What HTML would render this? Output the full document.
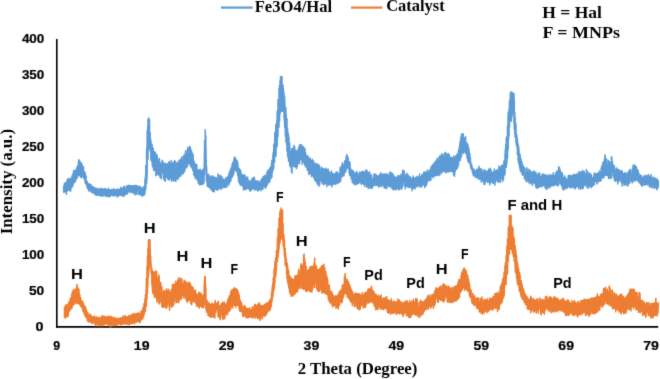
<!DOCTYPE html>
<html><head><meta charset="utf-8">
<style>
html,body{margin:0;padding:0;background:#fff;}
body{width:660px;height:379px;overflow:hidden;position:relative;}
svg{position:absolute;left:0;top:0;}
#wrap{position:absolute;left:0;top:0;width:660px;height:379px;}
.ser{font-family:"Liberation Serif",serif;font-weight:bold;}
.san{font-family:"Liberation Sans",sans-serif;font-weight:bold;}
</style></head><body>
<div id="wrap"><svg width="660" height="379" viewBox="0 0 660 379">
<defs><filter id="bl" x="0" y="0" width="660" height="379" filterUnits="userSpaceOnUse"><feConvolveMatrix order="3" kernelMatrix="0.0114 0.084 0.0114 0.084 0.618 0.084 0.0114 0.084 0.0114" divisor="1" edgeMode="none"/></filter></defs>
<g filter="url(#bl)">
<line x1="56.8" y1="39" x2="56.8" y2="327.7" stroke="#000" stroke-width="1.6"/>
<line x1="56" y1="326.9" x2="658.2" y2="326.9" stroke="#000" stroke-width="1.6"/>
<path d="M63.70 185.95 L63.70 192.35 L63.70 192.37 L63.82 189.22 L63.94 191.75 L64.06 192.12 L64.18 184.42 L64.30 186.38 L64.42 183.33 L64.54 187.59 L64.66 184.08 L64.78 188.50 L64.90 185.67 L65.02 183.57 L65.14 189.71 L65.26 191.87 L65.38 190.39 L65.50 187.18 L65.62 185.82 L65.74 191.54 L65.86 182.67 L65.98 186.70 L66.10 189.80 L66.22 186.78 L66.34 187.61 L66.46 194.22 L66.58 188.27 L66.70 187.13 L66.82 187.48 L66.90 181.95 L66.90 191.55 L66.94 187.08 L67.06 186.34 L67.18 179.39 L67.30 191.25 L67.42 186.78 L67.54 181.19 L67.66 182.81 L67.78 184.59 L67.90 187.67 L68.02 180.49 L68.14 187.03 L68.26 189.47 L68.38 189.91 L68.50 178.45 L68.62 181.01 L68.74 180.45 L68.86 181.53 L68.98 184.85 L69.10 179.63 L69.22 181.50 L69.34 185.24 L69.46 179.05 L69.58 187.54 L69.70 186.97 L69.82 190.42 L69.94 181.38 L70.06 185.48 L70.10 179.55 L70.10 189.15 L70.18 179.14 L70.30 188.70 L70.42 181.69 L70.54 182.75 L70.66 191.13 L70.78 184.20 L70.90 188.96 L71.02 181.41 L71.14 184.87 L71.26 177.55 L71.38 182.28 L71.50 187.11 L71.62 179.67 L71.74 179.59 L71.86 185.75 L71.98 186.14 L72.10 187.28 L72.22 175.39 L72.34 176.83 L72.46 184.84 L72.58 177.40 L72.70 185.95 L72.82 180.40 L72.94 173.81 L73.06 183.71 L73.18 182.89 L73.20 173.25 L73.20 184.45 L73.30 175.18 L73.42 183.95 L73.54 177.98 L73.66 170.52 L73.78 173.10 L73.90 174.58 L74.02 172.79 L74.14 180.82 L74.26 175.88 L74.38 174.62 L74.50 171.96 L74.62 170.66 L74.74 177.97 L74.86 171.02 L74.98 182.30 L75.10 177.68 L75.22 178.37 L75.34 176.36 L75.46 170.48 L75.58 174.84 L75.70 180.70 L75.82 173.01 L75.94 179.71 L76.06 175.29 L76.18 171.52 L76.30 169.29 L76.40 169.25 L76.40 178.85 L76.42 169.12 L76.54 177.45 L76.66 169.20 L76.78 167.79 L76.90 176.51 L77.02 170.14 L77.14 177.98 L77.26 166.88 L77.38 168.94 L77.50 177.19 L77.62 173.75 L77.74 165.39 L77.86 166.43 L77.98 174.80 L78.10 175.26 L78.22 166.64 L78.34 171.40 L78.46 161.20 L78.58 161.83 L78.70 166.18 L78.80 159.75 L78.80 175.25 L78.82 162.98 L78.94 167.87 L79.06 171.29 L79.18 168.04 L79.30 166.73 L79.42 175.70 L79.54 160.67 L79.66 175.22 L79.78 175.43 L79.90 174.96 L80.02 173.14 L80.14 176.00 L80.26 163.83 L80.38 170.67 L80.50 172.69 L80.62 170.01 L80.74 162.18 L80.86 172.18 L80.98 177.82 L81.10 162.95 L81.10 177.25 L81.10 175.98 L81.22 169.54 L81.34 168.67 L81.46 165.34 L81.58 177.32 L81.70 172.56 L81.82 167.97 L81.94 163.71 L82.06 164.20 L82.18 176.52 L82.30 172.30 L82.42 168.21 L82.54 176.35 L82.66 171.96 L82.78 173.20 L82.90 167.00 L83.02 175.83 L83.14 176.11 L83.26 172.78 L83.38 172.95 L83.50 167.65 L83.50 178.05 L83.50 166.71 L83.62 170.91 L83.74 176.02 L83.86 172.51 L83.98 171.60 L84.10 178.78 L84.22 174.56 L84.34 178.36 L84.46 171.66 L84.58 174.31 L84.70 175.45 L84.82 177.70 L84.94 179.99 L85.06 179.01 L85.10 172.45 L85.10 182.05 L85.18 176.62 L85.30 183.14 L85.42 181.52 L85.54 177.24 L85.66 183.32 L85.78 183.20 L85.90 175.40 L86.02 179.70 L86.14 176.16 L86.26 183.09 L86.38 182.64 L86.50 185.57 L86.62 185.38 L86.74 182.95 L86.86 184.53 L86.98 181.76 L87.10 184.52 L87.22 187.24 L87.34 188.26 L87.46 181.85 L87.50 182.75 L87.50 187.55 L87.58 184.13 L87.70 187.58 L87.82 183.30 L87.94 188.72 L88.06 184.22 L88.18 183.46 L88.30 187.93 L88.42 187.82 L88.54 185.66 L88.66 190.70 L88.78 190.93 L88.90 190.05 L89.02 189.27 L89.14 184.12 L89.26 186.24 L89.38 189.50 L89.50 185.30 L89.62 188.13 L89.74 184.37 L89.86 186.43 L89.98 190.80 L90.10 189.79 L90.22 184.63 L90.34 185.05 L90.46 188.05 L90.58 185.13 L90.70 185.95 L90.70 190.75 L90.70 185.30 L90.82 184.39 L90.94 190.02 L91.06 187.98 L91.18 189.85 L91.30 192.01 L91.42 189.73 L91.54 185.93 L91.66 186.99 L91.78 190.36 L91.90 190.85 L92.02 192.74 L92.14 191.95 L92.26 186.57 L92.38 188.64 L92.50 189.86 L92.62 188.96 L92.74 186.38 L92.86 192.00 L92.98 189.10 L93.10 187.35 L93.22 192.62 L93.34 188.32 L93.46 189.06 L93.58 190.89 L93.70 189.99 L93.82 192.83 L93.94 193.35 L94.06 188.11 L94.18 187.75 L94.30 187.44 L94.42 189.45 L94.54 189.61 L94.60 188.25 L94.60 193.15 L94.66 191.10 L94.78 189.68 L94.90 194.45 L95.02 194.11 L95.14 194.14 L95.26 188.39 L95.38 194.71 L95.50 192.94 L95.62 192.21 L95.74 194.73 L95.86 188.61 L95.98 194.27 L96.10 195.11 L96.22 189.55 L96.34 192.32 L96.46 188.16 L96.58 188.94 L96.70 190.43 L96.82 189.82 L96.94 194.26 L97.06 192.85 L97.18 193.82 L97.30 195.39 L97.42 193.50 L97.54 191.54 L97.66 193.95 L97.78 194.41 L97.90 190.17 L98.02 188.80 L98.14 193.71 L98.26 192.38 L98.38 192.17 L98.50 191.16 L98.62 190.35 L98.74 192.33 L98.86 193.05 L98.98 192.52 L99.10 195.50 L99.22 195.23 L99.34 191.15 L99.40 189.05 L99.40 194.75 L99.46 191.09 L99.58 190.81 L99.70 190.96 L99.82 189.52 L99.94 192.84 L100.06 190.23 L100.18 193.66 L100.30 192.05 L100.42 195.88 L100.54 189.26 L100.66 188.46 L100.78 195.73 L100.90 194.81 L101.02 196.07 L101.14 191.02 L101.26 189.14 L101.38 193.56 L101.50 190.52 L101.62 195.00 L101.74 189.07 L101.86 190.67 L101.98 189.32 L102.10 191.40 L102.22 192.44 L102.34 196.04 L102.46 195.30 L102.58 194.27 L102.70 188.58 L102.82 195.54 L102.94 192.63 L103.06 194.91 L103.18 193.89 L103.30 190.06 L103.42 195.80 L103.54 189.74 L103.66 193.83 L103.78 191.39 L103.90 193.17 L104.02 193.83 L104.14 191.11 L104.26 194.71 L104.38 192.37 L104.50 189.78 L104.62 192.72 L104.74 193.79 L104.86 192.94 L104.98 188.47 L105.10 189.44 L105.22 195.99 L105.34 188.50 L105.46 190.68 L105.58 189.18 L105.70 189.85 L105.70 194.75 L105.70 189.64 L105.82 196.25 L105.94 195.62 L106.06 193.81 L106.18 191.26 L106.30 194.70 L106.42 193.30 L106.54 193.82 L106.66 193.02 L106.78 195.38 L106.90 189.43 L107.02 190.58 L107.14 190.84 L107.26 192.41 L107.38 191.72 L107.50 192.93 L107.62 196.42 L107.74 190.24 L107.86 195.26 L107.98 195.05 L108.10 190.31 L108.22 192.25 L108.34 191.09 L108.46 188.27 L108.58 193.66 L108.70 195.30 L108.82 193.37 L108.94 192.08 L109.06 196.82 L109.18 189.63 L109.30 192.78 L109.42 195.99 L109.54 194.77 L109.66 194.82 L109.78 191.81 L109.90 195.54 L110.02 191.75 L110.14 196.53 L110.26 191.43 L110.38 194.11 L110.50 189.88 L110.62 190.66 L110.74 191.78 L110.86 189.70 L110.98 195.02 L111.10 190.24 L111.22 193.87 L111.34 192.67 L111.46 194.31 L111.58 193.14 L111.70 195.07 L111.82 189.61 L111.94 194.60 L112.00 190.65 L112.00 194.75 L112.06 191.54 L112.18 194.98 L112.30 192.22 L112.42 195.54 L112.54 189.67 L112.66 195.50 L112.78 191.16 L112.90 195.84 L113.02 192.92 L113.14 195.68 L113.26 194.07 L113.38 191.16 L113.50 193.75 L113.62 193.73 L113.74 188.53 L113.86 191.31 L113.98 196.01 L114.10 193.00 L114.22 192.21 L114.34 192.01 L114.46 191.81 L114.58 195.06 L114.70 194.29 L114.82 191.07 L114.94 192.50 L115.06 191.03 L115.18 192.96 L115.30 195.23 L115.42 191.94 L115.54 189.79 L115.66 194.36 L115.78 193.29 L115.90 189.72 L116.02 191.17 L116.14 191.65 L116.26 194.08 L116.38 189.77 L116.50 192.36 L116.62 193.26 L116.74 196.97 L116.86 194.78 L116.98 189.80 L117.10 190.79 L117.22 189.90 L117.34 194.82 L117.46 189.97 L117.58 189.03 L117.70 194.42 L117.82 193.35 L117.94 193.75 L118.06 195.06 L118.18 191.95 L118.30 194.89 L118.40 189.85 L118.40 194.75 L118.42 196.33 L118.54 192.75 L118.66 189.51 L118.78 191.87 L118.90 193.10 L119.02 192.54 L119.14 195.11 L119.26 189.15 L119.38 194.76 L119.50 195.28 L119.62 192.28 L119.74 191.48 L119.86 194.75 L119.98 195.20 L120.10 192.56 L120.22 191.61 L120.34 189.52 L120.46 190.45 L120.58 194.15 L120.70 194.24 L120.82 187.27 L120.94 191.03 L121.06 192.62 L121.18 194.59 L121.30 187.98 L121.42 189.76 L121.54 188.92 L121.66 194.33 L121.78 195.74 L121.90 194.28 L122.02 192.20 L122.14 188.53 L122.26 189.98 L122.38 193.48 L122.50 190.00 L122.62 190.16 L122.74 194.17 L122.86 194.96 L122.98 191.18 L123.10 187.93 L123.22 196.18 L123.34 194.48 L123.46 189.16 L123.58 192.19 L123.70 196.56 L123.82 195.13 L123.94 186.33 L124.06 189.47 L124.18 193.50 L124.30 187.68 L124.42 189.67 L124.54 190.47 L124.66 188.76 L124.70 188.25 L124.70 193.95 L124.78 194.74 L124.90 187.11 L125.02 192.51 L125.14 192.82 L125.26 190.48 L125.38 194.69 L125.50 191.44 L125.62 192.44 L125.74 190.57 L125.86 192.33 L125.98 193.32 L126.10 189.34 L126.22 190.47 L126.34 190.33 L126.46 192.29 L126.58 190.19 L126.70 185.78 L126.82 186.23 L126.94 192.86 L127.06 187.21 L127.18 191.66 L127.30 194.11 L127.42 194.09 L127.54 192.50 L127.66 189.28 L127.78 190.51 L127.90 186.89 L128.02 191.08 L128.14 188.16 L128.26 187.39 L128.38 185.31 L128.50 190.06 L128.62 189.01 L128.74 190.10 L128.86 190.62 L128.98 185.59 L129.10 189.82 L129.22 191.80 L129.34 187.94 L129.46 186.62 L129.50 186.75 L129.50 192.35 L129.58 186.81 L129.70 185.69 L129.82 192.53 L129.94 190.02 L130.06 185.78 L130.18 188.05 L130.30 187.54 L130.42 187.57 L130.54 188.30 L130.66 187.10 L130.78 187.35 L130.90 186.36 L131.02 186.73 L131.14 185.87 L131.26 190.33 L131.38 190.94 L131.50 191.61 L131.62 192.14 L131.74 187.51 L131.86 185.67 L131.98 188.29 L132.10 190.86 L132.22 188.57 L132.34 192.28 L132.46 190.38 L132.58 191.99 L132.70 193.03 L132.82 188.37 L132.94 188.58 L133.06 186.28 L133.18 192.61 L133.30 189.06 L133.42 185.82 L133.54 190.65 L133.66 187.76 L133.78 192.72 L133.90 190.97 L134.02 189.67 L134.14 186.68 L134.20 185.95 L134.20 192.35 L134.26 189.43 L134.38 191.84 L134.50 188.06 L134.62 185.42 L134.74 193.49 L134.86 192.50 L134.98 195.04 L135.10 185.36 L135.22 188.49 L135.34 187.32 L135.46 193.07 L135.58 190.05 L135.70 190.41 L135.82 188.54 L135.94 187.31 L136.06 187.37 L136.18 186.07 L136.30 191.36 L136.42 191.10 L136.54 190.56 L136.66 185.43 L136.78 194.58 L136.90 187.02 L137.02 192.04 L137.14 190.95 L137.26 189.96 L137.38 186.57 L137.50 186.26 L137.62 188.69 L137.74 188.66 L137.86 188.60 L137.98 189.74 L138.10 189.17 L138.22 190.97 L138.34 188.96 L138.46 190.59 L138.58 189.61 L138.70 194.22 L138.82 188.50 L138.94 190.59 L139.00 187.55 L139.00 193.15 L139.06 193.87 L139.18 185.98 L139.30 192.59 L139.42 187.11 L139.54 190.24 L139.66 189.20 L139.78 189.67 L139.90 193.59 L140.02 194.76 L140.14 186.92 L140.26 187.37 L140.38 195.09 L140.50 189.11 L140.62 188.46 L140.74 189.57 L140.86 190.86 L140.98 192.24 L141.10 193.75 L141.22 187.14 L141.34 190.36 L141.46 192.45 L141.58 190.98 L141.70 193.44 L141.82 191.07 L141.94 196.22 L142.06 191.21 L142.18 194.12 L142.20 188.25 L142.20 194.75 L142.30 188.82 L142.42 194.25 L142.54 189.12 L142.66 194.99 L142.78 191.14 L142.90 191.43 L143.02 190.64 L143.14 191.05 L143.26 195.58 L143.38 194.05 L143.50 194.63 L143.62 186.78 L143.74 189.27 L143.86 190.79 L143.98 188.95 L144.10 193.25 L144.22 190.21 L144.30 186.75 L144.30 194.25 L144.34 190.81 L144.46 194.82 L144.58 191.72 L144.70 187.61 L144.82 187.90 L144.94 181.73 L145.00 178.75 L145.00 193.25 L145.06 190.47 L145.18 181.05 L145.30 180.22 L145.42 179.78 L145.54 175.63 L145.66 184.00 L145.78 175.07 L145.80 165.75 L145.80 189.25 L145.90 179.19 L146.02 166.78 L146.14 169.67 L146.26 169.46 L146.38 166.88 L146.50 176.54 L146.62 153.70 L146.70 147.75 L146.70 183.25 L146.74 169.96 L146.86 179.39 L146.98 178.29 L147.10 138.50 L147.20 130.75 L147.20 174.25 L147.22 135.64 L147.34 159.55 L147.46 142.18 L147.58 146.39 L147.70 126.81 L147.82 127.37 L147.94 157.25 L148.00 119.75 L148.00 159.25 L148.06 138.16 L148.18 146.80 L148.30 118.32 L148.42 147.73 L148.54 145.99 L148.66 130.68 L148.78 148.71 L148.80 117.95 L148.80 147.25 L148.90 137.97 L149.02 128.17 L149.14 128.83 L149.26 120.08 L149.38 137.54 L149.50 119.75 L149.50 145.25 L149.50 134.58 L149.62 142.81 L149.74 143.21 L149.86 142.31 L149.98 145.63 L150.10 139.85 L150.20 132.75 L150.20 151.25 L150.22 144.23 L150.34 138.77 L150.46 138.36 L150.58 142.86 L150.70 139.86 L150.80 140.75 L150.80 159.25 L150.82 148.83 L150.94 142.26 L151.06 160.37 L151.18 149.59 L151.30 151.41 L151.42 143.16 L151.54 149.92 L151.66 161.70 L151.78 144.72 L151.90 148.23 L152.02 155.86 L152.14 144.86 L152.26 157.68 L152.38 166.17 L152.50 155.42 L152.62 149.25 L152.74 158.55 L152.86 160.56 L152.98 155.63 L153.10 157.42 L153.20 148.25 L153.20 167.85 L153.22 148.72 L153.34 167.14 L153.46 166.20 L153.58 154.71 L153.70 170.19 L153.82 164.54 L153.94 151.55 L154.06 165.91 L154.18 159.41 L154.30 170.60 L154.42 152.24 L154.54 163.99 L154.66 160.07 L154.78 163.42 L154.90 151.98 L155.02 163.17 L155.14 154.80 L155.26 153.46 L155.38 164.07 L155.50 164.64 L155.62 158.03 L155.74 165.86 L155.80 153.55 L155.80 173.15 L155.86 162.24 L155.98 175.76 L156.10 162.43 L156.22 161.01 L156.34 170.39 L156.46 161.59 L156.58 158.68 L156.70 174.66 L156.82 168.68 L156.94 154.89 L157.06 169.28 L157.18 171.35 L157.30 156.26 L157.42 172.89 L157.54 168.68 L157.66 164.75 L157.78 161.18 L157.90 163.60 L158.02 173.93 L158.14 165.15 L158.26 175.08 L158.38 163.10 L158.50 161.63 L158.62 162.97 L158.74 172.50 L158.86 172.60 L158.98 159.31 L159.10 172.62 L159.22 164.29 L159.34 158.54 L159.46 172.89 L159.58 174.28 L159.70 173.74 L159.80 161.45 L159.80 175.75 L159.82 171.68 L159.94 170.73 L160.06 177.83 L160.18 169.68 L160.30 175.06 L160.42 175.48 L160.54 177.42 L160.66 166.24 L160.78 166.52 L160.90 169.23 L161.02 163.77 L161.14 165.71 L161.26 170.68 L161.38 171.89 L161.50 178.67 L161.62 173.38 L161.74 172.40 L161.86 169.30 L161.98 165.80 L162.10 160.32 L162.22 171.12 L162.34 165.76 L162.46 166.68 L162.58 160.95 L162.70 163.14 L162.82 167.59 L162.94 165.81 L163.06 173.07 L163.18 163.18 L163.30 166.63 L163.42 162.66 L163.54 165.28 L163.66 172.08 L163.70 164.05 L163.70 178.45 L163.78 167.77 L163.90 177.69 L164.02 167.76 L164.14 169.68 L164.26 180.37 L164.38 169.73 L164.50 173.01 L164.62 164.18 L164.74 169.96 L164.86 163.84 L164.98 179.09 L165.10 172.61 L165.22 172.01 L165.34 181.31 L165.46 163.35 L165.58 163.76 L165.70 166.03 L165.82 176.67 L165.94 174.17 L166.06 168.74 L166.18 169.24 L166.30 177.24 L166.42 169.04 L166.54 169.40 L166.66 174.57 L166.78 164.36 L166.90 164.12 L167.02 173.55 L167.14 170.69 L167.26 174.40 L167.38 175.92 L167.50 165.89 L167.62 175.28 L167.70 164.05 L167.70 178.45 L167.74 179.15 L167.86 163.46 L167.98 174.20 L168.10 165.86 L168.22 176.18 L168.34 170.97 L168.46 172.53 L168.58 162.75 L168.70 172.10 L168.82 163.03 L168.94 179.63 L169.06 161.74 L169.18 180.16 L169.30 161.61 L169.42 165.44 L169.54 179.28 L169.66 170.33 L169.78 175.33 L169.90 167.31 L170.02 163.77 L170.14 165.27 L170.26 171.61 L170.38 165.40 L170.50 167.48 L170.62 178.33 L170.74 168.81 L170.86 175.27 L170.98 174.41 L171.10 165.03 L171.22 160.48 L171.34 164.82 L171.46 163.69 L171.58 181.15 L171.70 162.75 L171.70 179.75 L171.70 176.11 L171.82 163.93 L171.94 179.80 L172.06 177.48 L172.18 169.98 L172.30 170.12 L172.42 162.81 L172.54 163.08 L172.66 172.73 L172.78 175.42 L172.90 165.66 L173.02 173.43 L173.14 176.35 L173.26 164.40 L173.38 180.68 L173.50 164.71 L173.62 172.80 L173.74 179.03 L173.86 173.15 L173.98 172.11 L174.10 161.30 L174.22 169.23 L174.34 179.73 L174.46 168.86 L174.58 166.23 L174.70 160.53 L174.82 167.10 L174.94 178.30 L175.06 172.43 L175.18 177.82 L175.30 181.36 L175.42 174.20 L175.54 175.06 L175.60 162.75 L175.60 178.45 L175.66 162.08 L175.78 172.40 L175.90 181.27 L176.02 170.82 L176.14 164.44 L176.26 171.85 L176.38 173.51 L176.50 178.12 L176.62 164.20 L176.74 177.50 L176.86 170.03 L176.98 178.06 L177.10 173.92 L177.22 163.61 L177.34 165.59 L177.46 162.74 L177.58 162.43 L177.70 178.53 L177.82 179.49 L177.94 167.72 L178.06 175.32 L178.18 171.14 L178.30 170.34 L178.42 163.04 L178.54 169.08 L178.66 165.65 L178.78 177.68 L178.90 161.44 L179.02 160.43 L179.14 176.20 L179.26 167.63 L179.38 163.34 L179.50 168.39 L179.60 160.15 L179.60 175.75 L179.62 165.73 L179.74 166.79 L179.86 165.65 L179.98 175.45 L180.10 169.80 L180.22 165.07 L180.34 166.21 L180.46 159.28 L180.58 161.83 L180.70 162.50 L180.82 176.25 L180.94 171.88 L181.06 162.79 L181.18 160.21 L181.30 169.79 L181.42 162.39 L181.54 171.10 L181.66 161.21 L181.78 156.93 L181.90 171.80 L182.02 173.77 L182.14 169.54 L182.26 160.05 L182.38 162.76 L182.50 162.72 L182.62 174.05 L182.74 162.70 L182.86 171.96 L182.98 162.35 L183.10 167.00 L183.22 169.97 L183.34 171.68 L183.46 156.55 L183.50 156.15 L183.50 173.15 L183.58 171.32 L183.70 164.40 L183.82 172.44 L183.94 158.62 L184.06 154.97 L184.18 158.92 L184.30 156.45 L184.42 159.05 L184.54 164.58 L184.66 158.88 L184.78 155.96 L184.90 171.05 L185.02 155.94 L185.14 163.74 L185.26 162.39 L185.38 154.20 L185.50 151.47 L185.62 160.09 L185.74 150.71 L185.86 166.90 L185.98 163.01 L186.10 156.49 L186.22 158.25 L186.34 163.25 L186.46 167.87 L186.58 161.46 L186.70 159.79 L186.82 157.53 L186.94 154.07 L187.06 158.69 L187.18 162.22 L187.30 154.37 L187.42 160.68 L187.50 149.55 L187.50 166.55 L187.54 154.46 L187.66 151.84 L187.78 149.14 L187.90 147.51 L188.02 151.25 L188.14 163.27 L188.26 158.29 L188.38 147.71 L188.50 159.81 L188.62 148.54 L188.74 155.61 L188.86 156.27 L188.98 160.44 L189.10 163.50 L189.22 152.08 L189.34 159.55 L189.46 156.79 L189.58 146.13 L189.70 152.97 L189.82 158.73 L189.94 159.19 L190.06 163.82 L190.10 146.95 L190.10 165.25 L190.18 152.39 L190.30 164.07 L190.42 152.51 L190.54 150.19 L190.66 148.61 L190.78 151.88 L190.90 154.76 L191.02 160.63 L191.14 166.75 L191.26 161.01 L191.38 157.75 L191.50 151.03 L191.62 167.82 L191.74 152.44 L191.86 162.27 L191.98 164.09 L192.10 155.19 L192.22 161.04 L192.34 158.83 L192.46 155.34 L192.58 166.80 L192.70 163.08 L192.80 153.55 L192.80 170.45 L192.82 168.64 L192.94 166.10 L193.06 164.82 L193.18 155.51 L193.30 165.89 L193.42 170.89 L193.54 164.81 L193.66 160.57 L193.78 174.08 L193.90 175.03 L194.02 164.24 L194.14 161.22 L194.26 168.41 L194.38 175.38 L194.50 175.00 L194.62 167.69 L194.74 172.04 L194.86 176.72 L194.98 169.33 L195.10 168.23 L195.22 170.43 L195.34 173.06 L195.40 164.05 L195.40 178.45 L195.46 164.69 L195.58 167.01 L195.70 164.71 L195.82 169.00 L195.94 164.37 L196.06 168.37 L196.18 176.59 L196.30 165.16 L196.42 173.91 L196.54 174.81 L196.66 164.46 L196.78 176.12 L196.90 166.62 L197.02 179.43 L197.14 170.44 L197.26 174.69 L197.38 179.89 L197.50 173.50 L197.62 170.05 L197.74 172.84 L197.86 180.38 L197.98 180.28 L198.10 171.60 L198.22 183.34 L198.34 170.22 L198.46 177.06 L198.58 177.30 L198.70 171.65 L198.82 175.02 L198.94 175.82 L199.06 169.95 L199.18 182.37 L199.30 182.01 L199.40 171.95 L199.40 183.65 L199.42 173.43 L199.54 174.07 L199.66 185.03 L199.78 177.47 L199.90 182.17 L200.02 184.49 L200.14 169.22 L200.26 174.78 L200.38 176.40 L200.50 174.47 L200.62 170.73 L200.74 180.92 L200.86 183.97 L200.98 184.36 L201.10 178.80 L201.22 172.86 L201.34 184.44 L201.46 183.40 L201.58 171.47 L201.70 171.10 L201.82 171.89 L201.94 181.00 L202.06 176.97 L202.18 175.09 L202.30 171.11 L202.42 177.99 L202.54 169.58 L202.66 180.96 L202.78 184.37 L202.90 179.65 L203.02 172.27 L203.14 175.86 L203.26 178.79 L203.30 171.95 L203.30 183.65 L203.38 178.19 L203.50 176.22 L203.62 172.14 L203.74 178.96 L203.86 183.07 L203.98 177.73 L204.00 168.75 L204.00 181.25 L204.10 169.87 L204.22 171.00 L204.34 161.22 L204.46 150.02 L204.58 151.41 L204.60 140.75 L204.60 174.25 L204.70 144.38 L204.82 140.74 L204.94 151.98 L205.06 154.87 L205.18 141.86 L205.20 129.75 L205.20 149.25 L205.30 131.12 L205.42 144.55 L205.54 149.03 L205.66 149.96 L205.78 160.15 L205.80 135.75 L205.80 169.25 L205.90 145.24 L206.02 154.69 L206.14 166.95 L206.26 160.14 L206.38 179.78 L206.50 165.75 L206.50 181.25 L206.50 166.41 L206.62 170.09 L206.74 169.03 L206.86 178.33 L206.98 180.55 L207.10 176.11 L207.22 185.14 L207.30 174.65 L207.30 186.25 L207.34 177.81 L207.46 182.80 L207.58 176.69 L207.70 186.54 L207.82 176.86 L207.94 180.39 L208.06 176.88 L208.18 174.42 L208.30 182.69 L208.42 186.88 L208.54 186.98 L208.66 184.30 L208.78 174.39 L208.90 187.31 L209.02 184.35 L209.14 183.92 L209.26 187.48 L209.38 184.19 L209.50 176.41 L209.62 176.70 L209.74 181.53 L209.86 187.47 L209.98 184.47 L210.10 182.72 L210.22 177.72 L210.34 181.16 L210.46 188.49 L210.58 186.93 L210.70 181.10 L210.82 182.13 L210.94 182.04 L211.06 177.15 L211.18 189.77 L211.20 175.95 L211.20 187.65 L211.30 176.04 L211.42 180.39 L211.54 183.59 L211.66 177.26 L211.78 184.62 L211.90 184.55 L212.02 186.15 L212.14 190.56 L212.26 189.23 L212.38 180.25 L212.50 188.99 L212.62 189.38 L212.74 191.40 L212.86 180.36 L212.98 176.00 L213.10 184.68 L213.22 187.39 L213.34 184.49 L213.46 177.54 L213.58 181.26 L213.70 184.17 L213.82 183.60 L213.94 182.65 L214.06 177.41 L214.18 191.86 L214.30 189.14 L214.42 189.29 L214.54 184.59 L214.66 188.61 L214.78 188.67 L214.90 186.94 L215.00 177.25 L215.00 189.25 L215.02 177.23 L215.14 182.61 L215.26 183.73 L215.38 185.90 L215.50 180.54 L215.62 188.41 L215.74 182.61 L215.86 183.27 L215.98 186.71 L216.10 185.73 L216.22 177.65 L216.34 189.59 L216.46 182.13 L216.58 184.81 L216.70 178.94 L216.82 185.49 L216.94 180.38 L217.06 186.08 L217.18 181.22 L217.30 190.16 L217.42 187.97 L217.54 189.95 L217.66 184.99 L217.78 189.42 L217.90 181.41 L218.02 173.98 L218.14 186.39 L218.26 176.08 L218.38 189.47 L218.50 186.84 L218.62 186.58 L218.74 177.25 L218.86 175.20 L218.98 178.60 L219.00 175.75 L219.00 188.25 L219.10 183.24 L219.22 176.79 L219.34 178.33 L219.46 183.43 L219.58 188.29 L219.70 183.99 L219.82 179.27 L219.94 182.65 L220.06 186.46 L220.18 179.27 L220.30 181.16 L220.42 188.08 L220.54 175.47 L220.66 180.20 L220.78 182.49 L220.90 185.49 L221.02 184.32 L221.14 189.52 L221.26 188.72 L221.38 181.15 L221.50 182.89 L221.62 180.18 L221.74 178.86 L221.86 184.47 L221.98 185.55 L222.00 176.85 L222.00 186.05 L222.10 185.96 L222.22 187.34 L222.34 179.79 L222.46 180.72 L222.58 184.18 L222.70 180.24 L222.82 186.54 L222.94 184.65 L223.06 182.24 L223.18 187.69 L223.30 180.31 L223.42 181.85 L223.54 179.03 L223.66 186.27 L223.78 185.40 L223.90 187.63 L224.02 187.03 L224.14 179.66 L224.26 181.84 L224.38 183.38 L224.40 180.45 L224.40 187.25 L224.50 187.09 L224.62 182.97 L224.74 180.18 L224.86 181.38 L224.98 181.15 L225.10 180.51 L225.22 181.55 L225.34 183.00 L225.46 187.07 L225.58 179.30 L225.70 182.67 L225.82 177.63 L225.94 180.46 L226.06 183.19 L226.18 179.29 L226.30 187.23 L226.42 186.64 L226.54 186.70 L226.66 181.32 L226.70 178.05 L226.70 186.05 L226.78 187.05 L226.90 183.34 L227.02 182.93 L227.14 181.76 L227.26 183.61 L227.38 179.65 L227.50 183.10 L227.62 178.74 L227.74 178.72 L227.86 176.52 L227.98 181.92 L228.10 181.06 L228.22 183.58 L228.34 175.55 L228.46 183.77 L228.58 182.84 L228.70 185.35 L228.82 177.95 L228.94 183.35 L229.06 175.71 L229.10 173.25 L229.10 183.65 L229.18 172.67 L229.30 175.91 L229.42 172.89 L229.54 177.23 L229.66 182.86 L229.78 172.57 L229.90 174.62 L230.02 170.39 L230.14 177.26 L230.26 173.30 L230.38 180.98 L230.50 170.28 L230.62 171.10 L230.74 179.18 L230.86 180.99 L230.90 168.55 L230.90 180.05 L230.98 171.44 L231.10 167.76 L231.22 171.00 L231.34 178.28 L231.46 167.95 L231.58 169.51 L231.70 174.91 L231.82 173.66 L231.94 171.23 L232.06 164.85 L232.18 164.27 L232.30 174.21 L232.42 176.96 L232.54 176.35 L232.66 163.12 L232.70 162.65 L232.70 176.55 L232.78 175.04 L232.90 174.32 L233.02 163.08 L233.14 167.24 L233.26 162.40 L233.38 174.81 L233.50 161.31 L233.62 165.69 L233.74 171.91 L233.86 170.27 L233.90 159.05 L233.90 172.95 L233.98 168.07 L234.10 165.61 L234.22 167.80 L234.34 158.62 L234.46 157.31 L234.58 164.20 L234.70 165.97 L234.82 157.34 L234.94 164.75 L235.06 161.79 L235.18 159.61 L235.30 160.88 L235.42 157.98 L235.54 170.52 L235.60 158.45 L235.60 169.45 L235.66 163.30 L235.78 160.98 L235.90 166.28 L236.02 169.65 L236.14 169.46 L236.26 164.38 L236.38 166.47 L236.50 171.16 L236.62 169.31 L236.74 164.16 L236.86 168.83 L236.98 160.19 L237.10 164.43 L237.22 161.26 L237.34 163.59 L237.40 161.45 L237.40 172.95 L237.46 161.90 L237.58 174.21 L237.70 162.89 L237.82 175.86 L237.94 163.85 L238.06 167.03 L238.18 170.82 L238.30 177.70 L238.42 173.27 L238.54 180.66 L238.60 168.55 L238.60 181.25 L238.66 173.05 L238.78 177.18 L238.90 182.33 L239.02 173.31 L239.14 170.52 L239.26 168.58 L239.38 181.95 L239.50 183.06 L239.62 171.31 L239.74 169.61 L239.86 174.36 L239.98 180.70 L240.10 184.72 L240.22 173.67 L240.34 178.23 L240.40 170.95 L240.40 184.85 L240.46 185.21 L240.58 170.34 L240.70 173.49 L240.82 171.28 L240.94 178.53 L241.06 178.95 L241.18 176.86 L241.30 173.92 L241.42 178.66 L241.54 175.85 L241.66 177.01 L241.78 184.69 L241.90 176.97 L242.02 184.59 L242.14 179.07 L242.20 174.45 L242.20 186.05 L242.26 176.26 L242.38 175.69 L242.50 182.06 L242.62 180.39 L242.74 183.05 L242.86 179.30 L242.98 175.79 L243.10 176.49 L243.22 179.58 L243.34 175.62 L243.46 189.94 L243.58 181.21 L243.70 186.75 L243.82 175.53 L243.94 176.75 L244.06 180.27 L244.18 175.15 L244.30 179.97 L244.42 183.32 L244.50 174.75 L244.50 188.35 L244.54 189.13 L244.66 177.13 L244.78 179.07 L244.90 182.36 L245.02 188.29 L245.14 185.59 L245.26 178.61 L245.38 189.44 L245.50 176.29 L245.62 183.80 L245.74 186.90 L245.86 188.04 L245.98 185.76 L246.10 189.30 L246.22 180.49 L246.34 185.99 L246.46 180.59 L246.58 180.88 L246.70 180.98 L246.82 187.56 L246.90 178.05 L246.90 187.25 L246.94 188.15 L247.06 188.18 L247.18 182.68 L247.30 188.21 L247.42 183.72 L247.54 181.93 L247.66 177.01 L247.78 186.85 L247.90 181.04 L248.02 182.59 L248.14 185.95 L248.26 185.97 L248.38 183.55 L248.50 180.17 L248.60 180.75 L248.60 188.25 L248.62 188.82 L248.74 187.66 L248.86 184.08 L248.98 182.98 L249.10 189.28 L249.22 186.97 L249.34 183.89 L249.46 190.27 L249.58 181.65 L249.70 181.72 L249.82 181.53 L249.94 185.02 L250.06 186.04 L250.18 188.77 L250.30 191.24 L250.42 180.77 L250.50 182.75 L250.50 188.75 L250.54 182.84 L250.66 188.58 L250.78 184.20 L250.90 181.73 L251.02 183.24 L251.14 186.55 L251.26 188.23 L251.38 189.66 L251.50 188.37 L251.62 185.21 L251.74 187.52 L251.86 183.38 L251.98 178.46 L252.10 180.76 L252.22 187.99 L252.34 187.39 L252.46 189.12 L252.58 179.41 L252.70 185.22 L252.82 186.93 L252.94 180.63 L253.00 178.75 L253.00 188.25 L253.06 188.77 L253.18 183.79 L253.30 184.70 L253.42 188.38 L253.54 177.46 L253.66 177.33 L253.78 187.64 L253.90 187.37 L254.02 184.64 L254.14 179.25 L254.26 179.67 L254.38 182.06 L254.50 177.75 L254.50 188.75 L254.50 186.96 L254.62 189.63 L254.74 185.60 L254.86 190.19 L254.98 180.79 L255.10 180.81 L255.22 188.00 L255.34 186.85 L255.46 187.34 L255.58 183.10 L255.70 183.84 L255.82 185.32 L255.94 185.56 L256.00 180.75 L256.00 189.25 L256.06 188.01 L256.18 186.25 L256.30 183.98 L256.42 185.40 L256.54 188.85 L256.66 186.57 L256.78 186.94 L256.90 183.65 L257.02 184.20 L257.14 181.78 L257.26 186.87 L257.38 190.73 L257.50 184.57 L257.62 182.18 L257.74 188.71 L257.86 186.67 L257.98 184.36 L258.00 180.75 L258.00 188.55 L258.10 182.99 L258.22 191.09 L258.34 186.75 L258.46 183.49 L258.58 184.47 L258.70 184.20 L258.82 182.17 L258.94 185.19 L259.06 189.67 L259.18 183.98 L259.30 189.70 L259.42 188.52 L259.54 185.07 L259.66 189.14 L259.78 184.91 L259.90 188.63 L260.02 182.50 L260.14 185.36 L260.26 189.29 L260.38 183.65 L260.40 181.75 L260.40 188.75 L260.50 180.84 L260.62 183.12 L260.74 185.11 L260.86 188.49 L260.98 190.65 L261.10 183.11 L261.22 183.34 L261.34 188.42 L261.46 183.71 L261.58 184.14 L261.70 184.30 L261.82 178.84 L261.94 183.92 L262.00 178.75 L262.00 187.75 L262.06 188.80 L262.18 183.13 L262.30 179.54 L262.42 187.37 L262.54 185.22 L262.66 180.91 L262.78 186.94 L262.90 189.38 L263.02 183.75 L263.14 176.66 L263.26 181.68 L263.38 180.91 L263.50 178.60 L263.62 183.88 L263.74 185.44 L263.86 177.01 L263.90 176.15 L263.90 186.55 L263.98 182.58 L264.10 177.46 L264.22 185.63 L264.34 186.76 L264.46 177.77 L264.58 180.94 L264.70 186.13 L264.82 185.17 L264.94 180.26 L265.06 175.16 L265.18 181.82 L265.30 181.39 L265.42 188.15 L265.54 181.31 L265.66 180.34 L265.78 186.22 L265.90 176.19 L266.02 187.26 L266.14 186.03 L266.26 185.80 L266.38 175.68 L266.50 176.03 L266.62 184.16 L266.74 179.20 L266.86 179.68 L266.90 172.25 L266.90 184.55 L266.98 179.30 L267.10 173.16 L267.22 184.91 L267.34 179.57 L267.46 184.66 L267.58 171.13 L267.70 183.40 L267.82 170.15 L267.94 183.16 L268.06 182.10 L268.18 177.26 L268.30 178.69 L268.42 177.50 L268.54 174.62 L268.66 174.79 L268.78 181.14 L268.90 182.16 L269.02 170.54 L269.14 179.64 L269.26 173.48 L269.38 169.93 L269.50 169.91 L269.62 168.27 L269.74 181.97 L269.86 170.28 L269.90 168.25 L269.90 180.65 L269.98 175.80 L270.10 177.58 L270.22 168.19 L270.34 168.87 L270.46 173.37 L270.58 175.99 L270.70 173.23 L270.82 178.59 L270.94 168.21 L271.06 166.21 L271.18 175.20 L271.30 176.18 L271.42 169.91 L271.54 163.57 L271.66 162.46 L271.78 177.45 L271.90 160.35 L271.90 176.65 L271.90 173.74 L272.02 161.92 L272.14 173.95 L272.26 170.24 L272.38 169.10 L272.50 161.73 L272.62 168.17 L272.74 165.90 L272.86 163.78 L272.90 154.45 L272.90 170.75 L272.98 169.32 L273.10 161.23 L273.22 152.35 L273.34 152.69 L273.46 162.01 L273.58 168.64 L273.70 150.75 L273.70 167.95 L273.70 166.53 L273.80 144.55 L273.80 158.85 L273.82 145.29 L273.94 146.47 L274.06 148.64 L274.18 153.76 L274.30 154.16 L274.42 151.53 L274.54 154.78 L274.60 143.35 L274.60 162.25 L274.66 156.30 L274.78 133.41 L274.80 132.65 L274.80 148.95 L274.90 139.92 L275.02 143.22 L275.14 146.13 L275.26 132.38 L275.38 138.88 L275.50 139.38 L275.62 131.69 L275.74 129.69 L275.80 124.75 L275.80 139.05 L275.86 136.97 L275.98 138.62 L276.00 128.75 L276.00 156.25 L276.10 144.23 L276.22 148.37 L276.34 140.28 L276.46 130.17 L276.58 139.59 L276.70 135.21 L276.82 120.56 L276.94 129.96 L277.06 126.71 L277.18 112.12 L277.20 111.35 L277.20 129.25 L277.20 111.35 L277.20 146.25 L277.30 128.63 L277.42 122.91 L277.54 138.11 L277.66 115.95 L277.78 116.01 L277.90 129.86 L278.00 99.75 L278.00 126.25 L278.00 99.75 L278.00 136.25 L278.02 110.33 L278.14 123.89 L278.26 115.66 L278.38 104.77 L278.50 116.27 L278.62 107.37 L278.74 124.99 L278.86 105.23 L278.98 118.44 L279.00 88.75 L279.00 127.25 L279.10 103.23 L279.22 101.56 L279.34 106.44 L279.46 88.71 L279.50 85.25 L279.50 121.25 L279.58 119.79 L279.70 97.65 L279.82 109.91 L279.94 108.39 L280.00 80.75 L280.00 114.25 L280.06 92.84 L280.18 112.83 L280.30 82.72 L280.42 100.26 L280.50 76.75 L280.50 111.25 L280.54 95.04 L280.66 110.14 L280.78 103.26 L280.90 93.71 L281.02 90.98 L281.14 88.26 L281.26 109.80 L281.38 81.20 L281.50 76.55 L281.50 110.25 L281.50 111.59 L281.62 95.21 L281.74 95.45 L281.86 89.58 L281.98 106.41 L282.00 76.75 L282.00 110.25 L282.10 87.74 L282.22 107.44 L282.34 93.22 L282.46 103.05 L282.58 95.59 L282.70 108.73 L282.82 89.88 L282.94 93.15 L283.00 85.25 L283.00 111.25 L283.06 90.94 L283.18 108.70 L283.30 110.67 L283.42 88.60 L283.54 108.87 L283.66 111.34 L283.78 109.77 L283.90 109.04 L284.00 92.75 L284.00 117.25 L284.02 114.06 L284.14 99.38 L284.26 120.48 L284.38 104.99 L284.50 116.00 L284.62 124.95 L284.70 96.75 L284.70 127.25 L284.74 99.36 L284.86 103.33 L284.98 115.71 L285.10 120.23 L285.22 117.26 L285.34 136.13 L285.46 135.67 L285.58 114.57 L285.70 107.52 L285.82 131.50 L285.90 108.75 L285.90 141.85 L285.94 123.81 L286.06 114.53 L286.18 114.16 L286.30 123.37 L286.42 118.34 L286.54 144.51 L286.66 135.72 L286.78 124.16 L286.90 135.09 L287.00 118.75 L287.00 151.25 L287.02 119.25 L287.14 149.07 L287.26 129.63 L287.38 149.21 L287.50 142.64 L287.60 128.75 L287.60 156.25 L287.62 154.67 L287.74 137.49 L287.86 139.27 L287.98 142.46 L288.10 157.48 L288.22 132.96 L288.34 135.78 L288.46 159.98 L288.58 155.70 L288.60 135.75 L288.60 161.25 L288.70 140.78 L288.82 153.53 L288.94 137.35 L289.06 148.14 L289.18 145.90 L289.30 153.90 L289.42 150.38 L289.54 150.04 L289.66 153.56 L289.70 143.35 L289.70 165.25 L289.78 148.03 L289.90 151.90 L290.02 152.22 L290.14 165.82 L290.20 150.75 L290.20 166.75 L290.26 165.96 L290.38 162.84 L290.50 165.60 L290.62 161.51 L290.74 151.61 L290.86 165.30 L290.98 161.72 L291.10 162.42 L291.22 162.53 L291.34 163.31 L291.46 171.72 L291.58 157.33 L291.70 156.10 L291.82 148.38 L291.94 163.64 L292.00 149.75 L292.00 173.25 L292.06 151.82 L292.18 164.36 L292.30 163.48 L292.42 152.62 L292.54 150.29 L292.66 153.98 L292.78 164.83 L292.90 160.05 L293.02 149.67 L293.14 149.98 L293.26 148.04 L293.38 150.03 L293.50 164.92 L293.62 153.51 L293.74 164.85 L293.86 159.70 L293.90 145.15 L293.90 166.75 L293.98 150.60 L294.10 159.40 L294.22 163.41 L294.34 146.44 L294.46 164.80 L294.58 160.47 L294.70 146.92 L294.82 150.03 L294.94 163.80 L295.06 159.68 L295.18 165.14 L295.30 160.16 L295.42 167.04 L295.54 154.46 L295.66 158.27 L295.78 165.90 L295.90 157.74 L296.02 150.41 L296.14 167.63 L296.26 164.30 L296.38 168.38 L296.50 158.06 L296.60 151.65 L296.60 165.85 L296.62 168.30 L296.74 162.17 L296.86 163.51 L296.98 155.63 L297.10 155.03 L297.22 166.38 L297.34 160.42 L297.46 153.96 L297.58 151.48 L297.70 160.19 L297.82 155.93 L297.94 149.39 L298.06 157.07 L298.18 159.75 L298.30 150.46 L298.42 163.27 L298.54 148.53 L298.66 156.96 L298.78 147.76 L298.90 152.01 L299.02 154.46 L299.14 147.15 L299.26 146.22 L299.38 146.05 L299.40 145.15 L299.40 163.95 L299.50 147.77 L299.62 157.83 L299.74 160.19 L299.86 154.00 L299.98 148.34 L300.10 144.71 L300.22 158.01 L300.34 150.61 L300.46 155.20 L300.58 147.94 L300.70 149.64 L300.82 155.65 L300.94 159.66 L301.06 159.35 L301.18 145.87 L301.30 144.75 L301.42 156.37 L301.54 158.87 L301.66 151.82 L301.78 155.56 L301.90 155.44 L302.02 150.40 L302.14 164.21 L302.20 146.05 L302.20 162.15 L302.26 154.43 L302.38 146.30 L302.50 151.82 L302.62 154.54 L302.74 153.15 L302.86 153.36 L302.98 155.33 L303.10 152.99 L303.22 146.81 L303.34 152.73 L303.46 162.12 L303.58 162.19 L303.70 146.93 L303.82 151.60 L303.94 148.37 L304.06 154.79 L304.18 162.31 L304.30 158.58 L304.42 160.39 L304.54 165.08 L304.66 151.11 L304.78 155.30 L304.90 160.21 L305.00 148.85 L305.00 164.95 L305.02 158.94 L305.14 162.97 L305.26 152.17 L305.38 153.07 L305.50 152.64 L305.62 165.49 L305.74 166.91 L305.86 156.89 L305.98 166.62 L306.10 158.98 L306.22 161.10 L306.34 157.20 L306.46 155.31 L306.58 155.75 L306.70 160.47 L306.82 164.09 L306.94 164.60 L307.06 155.80 L307.18 169.85 L307.30 165.54 L307.42 161.67 L307.54 168.74 L307.66 168.88 L307.70 158.05 L307.70 170.45 L307.78 165.23 L307.90 158.99 L308.02 158.73 L308.14 156.36 L308.26 166.72 L308.38 168.40 L308.50 166.49 L308.62 167.99 L308.74 158.33 L308.86 174.51 L308.98 163.93 L309.10 158.74 L309.22 167.72 L309.34 167.27 L309.46 165.88 L309.58 172.18 L309.70 169.23 L309.82 163.99 L309.94 170.89 L310.06 173.49 L310.18 157.99 L310.30 173.36 L310.42 169.17 L310.54 173.77 L310.66 173.23 L310.78 167.52 L310.90 166.16 L311.02 173.02 L311.14 171.20 L311.26 160.77 L311.38 174.31 L311.40 160.85 L311.40 175.05 L311.50 176.62 L311.62 174.61 L311.74 164.79 L311.86 171.93 L311.98 166.18 L312.10 167.50 L312.22 159.17 L312.34 175.31 L312.46 162.08 L312.58 160.45 L312.70 161.93 L312.82 168.24 L312.94 168.88 L313.06 161.69 L313.18 168.90 L313.30 162.96 L313.42 177.61 L313.54 161.02 L313.66 162.10 L313.78 168.24 L313.90 170.02 L314.02 163.85 L314.14 177.69 L314.26 169.81 L314.38 163.20 L314.50 179.41 L314.62 163.85 L314.74 165.41 L314.86 166.15 L314.98 173.56 L315.10 163.65 L315.10 179.75 L315.10 181.02 L315.22 173.28 L315.34 169.42 L315.46 172.88 L315.58 164.70 L315.70 170.41 L315.82 164.64 L315.94 164.24 L316.06 181.34 L316.18 170.69 L316.30 170.04 L316.42 171.10 L316.54 177.58 L316.66 163.61 L316.78 169.06 L316.90 181.37 L317.02 164.39 L317.14 184.31 L317.26 173.25 L317.38 177.14 L317.50 183.09 L317.62 173.84 L317.74 176.38 L317.86 164.42 L317.98 172.16 L318.10 167.18 L318.22 176.84 L318.34 181.66 L318.46 178.92 L318.58 181.73 L318.70 172.79 L318.80 165.45 L318.80 183.45 L318.82 186.15 L318.94 175.76 L319.06 173.15 L319.18 183.07 L319.30 183.07 L319.42 165.23 L319.54 176.25 L319.66 185.10 L319.78 178.18 L319.90 176.01 L320.02 175.73 L320.14 176.93 L320.26 179.11 L320.38 172.07 L320.50 170.43 L320.62 169.00 L320.74 169.89 L320.86 180.17 L320.98 172.89 L321.10 170.68 L321.22 169.54 L321.34 167.22 L321.46 177.23 L321.58 177.38 L321.70 182.24 L321.82 180.36 L321.94 180.15 L322.06 172.26 L322.18 177.93 L322.30 183.09 L322.42 178.51 L322.50 168.25 L322.50 183.45 L322.54 179.64 L322.66 182.95 L322.78 176.19 L322.90 171.88 L323.02 170.55 L323.14 175.15 L323.26 184.50 L323.38 173.11 L323.50 180.34 L323.62 182.43 L323.74 173.36 L323.86 172.09 L323.98 168.80 L324.10 184.56 L324.22 178.53 L324.34 170.66 L324.46 183.49 L324.58 181.17 L324.70 180.03 L324.82 172.79 L324.94 182.41 L325.06 176.14 L325.18 178.52 L325.30 179.61 L325.42 177.98 L325.54 171.97 L325.66 168.14 L325.78 180.34 L325.90 183.79 L326.02 171.84 L326.14 174.42 L326.20 170.15 L326.20 183.45 L326.26 171.66 L326.38 179.32 L326.50 181.37 L326.62 169.63 L326.74 181.35 L326.86 186.44 L326.98 181.30 L327.10 172.82 L327.22 178.38 L327.34 178.08 L327.46 169.26 L327.58 174.87 L327.70 176.26 L327.82 171.95 L327.94 183.05 L328.06 172.93 L328.18 169.28 L328.30 181.86 L328.42 171.68 L328.54 185.01 L328.66 184.33 L328.78 171.04 L328.90 184.56 L329.02 176.19 L329.14 183.47 L329.26 185.03 L329.38 179.81 L329.50 182.85 L329.62 178.18 L329.74 180.90 L329.86 178.76 L329.90 172.85 L329.90 183.45 L329.98 184.51 L330.10 178.24 L330.22 181.83 L330.34 174.24 L330.46 175.18 L330.58 175.89 L330.70 184.19 L330.82 176.80 L330.94 179.21 L331.06 178.98 L331.18 175.54 L331.30 173.53 L331.42 172.45 L331.54 171.03 L331.66 187.03 L331.78 180.80 L331.90 179.25 L332.02 173.47 L332.14 177.99 L332.26 177.56 L332.38 181.84 L332.50 182.43 L332.62 184.63 L332.74 177.07 L332.86 174.02 L332.98 179.05 L333.10 181.23 L333.22 174.81 L333.34 176.98 L333.46 175.60 L333.58 174.29 L333.60 173.85 L333.60 184.35 L333.70 173.42 L333.82 180.86 L333.94 181.45 L334.06 182.09 L334.18 179.75 L334.30 180.22 L334.42 182.69 L334.54 174.60 L334.66 183.30 L334.78 183.81 L334.90 177.59 L335.02 179.67 L335.14 175.56 L335.26 179.32 L335.38 178.16 L335.50 181.60 L335.62 184.43 L335.74 173.95 L335.86 172.47 L335.98 172.38 L336.10 171.93 L336.22 180.91 L336.34 175.47 L336.46 183.52 L336.58 172.25 L336.70 175.01 L336.82 181.03 L336.94 173.22 L337.06 172.46 L337.18 174.08 L337.30 171.95 L337.30 182.45 L337.30 175.25 L337.42 175.54 L337.54 180.50 L337.66 174.86 L337.78 177.07 L337.90 181.20 L338.02 183.14 L338.14 183.25 L338.26 174.80 L338.38 182.95 L338.50 173.69 L338.62 180.30 L338.74 173.49 L338.86 178.42 L338.98 174.06 L339.10 175.20 L339.22 182.07 L339.34 181.10 L339.46 177.85 L339.58 175.03 L339.70 174.54 L339.82 181.58 L339.94 169.90 L340.06 181.26 L340.10 168.25 L340.10 180.75 L340.18 167.38 L340.30 170.89 L340.42 180.02 L340.54 181.51 L340.66 180.56 L340.78 173.27 L340.90 169.85 L341.02 178.29 L341.14 168.91 L341.26 175.61 L341.38 168.01 L341.50 165.69 L341.62 174.26 L341.74 171.77 L341.86 176.95 L341.98 167.92 L342.10 164.44 L342.20 165.05 L342.20 176.25 L342.22 172.06 L342.34 165.81 L342.46 162.71 L342.58 174.60 L342.70 166.35 L342.82 169.54 L342.94 175.70 L343.06 168.55 L343.18 170.69 L343.30 170.39 L343.42 165.20 L343.54 173.39 L343.66 169.48 L343.78 167.39 L343.90 174.81 L344.02 175.75 L344.14 164.87 L344.26 164.51 L344.38 173.12 L344.50 163.14 L344.62 167.33 L344.74 160.93 L344.86 161.30 L344.98 160.79 L345.10 162.24 L345.22 167.40 L345.34 170.23 L345.40 160.85 L345.40 171.95 L345.46 167.93 L345.58 160.19 L345.70 171.62 L345.82 165.92 L345.94 165.27 L346.06 170.79 L346.18 156.43 L346.30 166.42 L346.42 158.76 L346.54 168.02 L346.66 162.15 L346.78 162.37 L346.80 154.55 L346.80 167.25 L346.90 154.67 L347.02 161.56 L347.14 160.51 L347.26 168.09 L347.38 158.05 L347.50 157.78 L347.62 163.28 L347.74 157.11 L347.86 162.87 L347.98 164.60 L348.10 157.51 L348.22 163.51 L348.34 168.48 L348.46 163.29 L348.58 167.14 L348.70 164.22 L348.82 162.15 L348.94 167.78 L349.06 163.93 L349.18 173.36 L349.30 162.71 L349.42 171.16 L349.54 171.41 L349.60 161.85 L349.60 175.15 L349.66 174.22 L349.78 175.35 L349.90 163.04 L350.02 162.77 L350.14 174.41 L350.26 172.08 L350.38 175.82 L350.50 173.03 L350.62 170.73 L350.74 176.26 L350.86 169.24 L350.98 173.62 L351.10 174.08 L351.22 169.93 L351.34 179.07 L351.46 175.12 L351.58 171.27 L351.70 169.71 L351.82 175.35 L351.94 170.16 L352.06 179.84 L352.18 173.03 L352.30 182.61 L352.42 177.79 L352.54 181.81 L352.66 178.90 L352.70 171.35 L352.70 182.55 L352.78 177.48 L352.90 178.03 L353.02 177.37 L353.14 172.26 L353.26 177.47 L353.38 171.03 L353.50 178.74 L353.62 182.40 L353.74 183.90 L353.86 177.21 L353.98 173.48 L354.10 176.07 L354.22 183.97 L354.34 172.39 L354.46 178.70 L354.58 173.64 L354.70 174.53 L354.82 184.28 L354.94 179.32 L355.06 176.12 L355.18 182.44 L355.30 179.38 L355.42 184.63 L355.54 181.31 L355.66 173.65 L355.78 184.72 L355.90 178.13 L356.02 181.73 L356.14 182.85 L356.26 180.93 L356.38 179.24 L356.50 171.59 L356.62 171.60 L356.74 174.53 L356.86 179.02 L356.98 173.86 L357.00 172.45 L357.00 182.55 L357.10 183.06 L357.22 176.08 L357.34 172.67 L357.46 183.97 L357.58 184.02 L357.70 179.80 L357.82 179.44 L357.94 179.07 L358.06 183.69 L358.18 176.25 L358.30 175.60 L358.42 183.59 L358.54 177.23 L358.66 175.66 L358.78 175.34 L358.90 178.62 L359.02 176.47 L359.14 173.39 L359.26 180.70 L359.38 181.20 L359.50 182.48 L359.62 173.45 L359.74 171.92 L359.86 177.20 L359.98 182.62 L360.10 177.16 L360.22 173.90 L360.34 173.95 L360.46 174.41 L360.58 176.21 L360.70 180.33 L360.82 174.92 L360.94 183.02 L361.06 174.21 L361.18 183.03 L361.20 172.45 L361.20 183.55 L361.30 177.24 L361.42 184.37 L361.54 182.53 L361.66 182.35 L361.78 181.82 L361.90 171.70 L362.02 172.69 L362.14 177.57 L362.26 181.88 L362.38 177.38 L362.50 176.38 L362.62 183.25 L362.74 172.54 L362.86 175.95 L362.98 183.96 L363.10 172.96 L363.22 171.16 L363.34 183.70 L363.46 183.20 L363.58 180.64 L363.70 182.25 L363.82 172.16 L363.94 176.66 L364.06 172.95 L364.18 175.16 L364.30 172.51 L364.42 180.89 L364.54 186.18 L364.66 184.15 L364.78 177.18 L364.90 177.78 L365.02 181.31 L365.14 184.04 L365.26 179.92 L365.38 175.07 L365.40 171.35 L365.40 183.55 L365.50 173.87 L365.62 173.65 L365.74 176.54 L365.86 169.94 L365.98 177.02 L366.10 176.24 L366.22 180.55 L366.34 170.73 L366.46 186.98 L366.58 180.41 L366.70 174.71 L366.82 176.58 L366.94 170.20 L367.06 173.35 L367.18 183.91 L367.30 179.63 L367.42 182.46 L367.54 186.40 L367.66 184.28 L367.78 185.69 L367.90 183.51 L368.02 177.65 L368.14 183.28 L368.26 172.61 L368.38 188.53 L368.50 179.61 L368.62 178.35 L368.74 174.88 L368.86 181.37 L368.98 186.01 L369.10 174.46 L369.22 186.55 L369.34 187.01 L369.46 173.74 L369.58 187.04 L369.60 174.55 L369.60 186.75 L369.70 171.97 L369.82 185.41 L369.94 186.81 L370.06 176.42 L370.18 175.47 L370.30 183.13 L370.42 188.33 L370.54 177.13 L370.66 180.41 L370.78 175.96 L370.90 184.73 L371.02 182.35 L371.14 185.40 L371.26 179.14 L371.38 178.59 L371.50 174.71 L371.62 176.65 L371.74 183.81 L371.86 188.59 L371.98 180.66 L372.10 178.20 L372.22 180.89 L372.34 185.38 L372.46 181.81 L372.58 182.17 L372.70 186.65 L372.82 179.25 L372.94 181.42 L373.06 180.60 L373.18 184.95 L373.30 186.11 L373.42 181.40 L373.54 185.82 L373.66 181.98 L373.78 182.59 L373.80 175.65 L373.80 185.75 L373.90 178.81 L374.02 176.92 L374.14 180.74 L374.26 173.86 L374.38 181.47 L374.50 179.76 L374.62 178.98 L374.74 182.59 L374.86 180.82 L374.98 175.97 L375.10 183.17 L375.22 175.54 L375.34 174.95 L375.46 185.37 L375.58 183.56 L375.70 179.64 L375.82 174.32 L375.94 175.67 L376.06 176.14 L376.18 177.30 L376.30 180.42 L376.42 174.93 L376.54 177.60 L376.66 185.28 L376.78 182.61 L376.90 177.30 L377.02 178.21 L377.14 179.21 L377.26 182.15 L377.38 181.64 L377.50 180.71 L377.62 176.99 L377.74 180.96 L377.86 177.13 L377.98 185.51 L378.10 175.65 L378.10 185.75 L378.10 177.70 L378.22 185.97 L378.34 185.14 L378.46 182.91 L378.58 186.13 L378.70 176.50 L378.82 181.17 L378.94 176.58 L379.06 187.33 L379.18 185.26 L379.30 179.37 L379.42 185.62 L379.54 181.54 L379.66 174.84 L379.78 175.30 L379.90 185.36 L380.02 174.21 L380.14 183.45 L380.26 177.59 L380.38 177.69 L380.50 184.58 L380.62 181.14 L380.74 175.57 L380.86 182.50 L380.98 172.79 L381.10 174.51 L381.22 175.91 L381.34 186.49 L381.46 175.13 L381.58 177.06 L381.70 186.24 L381.82 182.28 L381.94 179.45 L382.06 182.55 L382.18 179.46 L382.30 174.55 L382.30 185.75 L382.30 174.94 L382.42 184.70 L382.54 181.41 L382.66 174.19 L382.78 180.30 L382.90 184.26 L383.02 176.07 L383.14 174.16 L383.26 180.17 L383.38 176.61 L383.50 183.05 L383.62 179.01 L383.74 185.21 L383.86 174.34 L383.98 176.48 L384.10 187.65 L384.22 182.00 L384.34 173.95 L384.46 175.73 L384.58 185.20 L384.70 174.02 L384.82 188.09 L384.94 174.07 L385.06 176.58 L385.18 182.92 L385.30 178.58 L385.42 184.28 L385.54 181.12 L385.66 182.07 L385.78 177.36 L385.90 184.46 L386.02 182.10 L386.14 188.33 L386.26 186.07 L386.38 185.28 L386.50 174.55 L386.50 185.75 L386.50 175.49 L386.62 175.23 L386.74 188.76 L386.86 174.07 L386.98 182.54 L387.10 173.48 L387.22 173.87 L387.34 179.53 L387.46 185.11 L387.58 181.09 L387.70 183.98 L387.82 184.17 L387.94 183.42 L388.06 175.42 L388.18 175.97 L388.30 183.68 L388.42 186.34 L388.54 184.47 L388.66 177.78 L388.78 174.89 L388.90 174.98 L389.02 176.41 L389.14 177.75 L389.26 174.79 L389.38 174.89 L389.50 175.94 L389.62 182.70 L389.74 182.60 L389.86 171.90 L389.98 184.00 L390.10 187.06 L390.22 182.81 L390.34 181.07 L390.46 174.58 L390.58 175.20 L390.70 172.45 L390.70 186.75 L390.70 180.59 L390.82 184.98 L390.94 186.94 L391.06 179.36 L391.18 177.79 L391.30 179.32 L391.42 184.86 L391.54 175.37 L391.66 184.33 L391.78 173.08 L391.90 182.48 L392.02 180.40 L392.14 186.34 L392.26 189.04 L392.38 173.56 L392.50 180.13 L392.62 178.31 L392.74 187.94 L392.86 182.86 L392.98 183.39 L393.10 174.52 L393.22 182.19 L393.34 183.86 L393.46 180.86 L393.58 175.89 L393.70 190.00 L393.82 187.12 L393.94 176.37 L394.06 184.81 L394.18 180.02 L394.30 176.29 L394.42 179.27 L394.54 176.75 L394.66 182.71 L394.78 186.12 L394.90 176.65 L394.90 187.85 L394.90 188.53 L395.02 186.33 L395.14 182.67 L395.26 178.52 L395.38 178.73 L395.50 177.79 L395.62 179.06 L395.74 189.57 L395.86 189.79 L395.98 180.08 L396.10 177.47 L396.22 186.86 L396.34 184.50 L396.46 178.37 L396.58 177.17 L396.70 180.03 L396.82 177.43 L396.94 189.15 L397.06 177.67 L397.18 180.28 L397.30 179.94 L397.42 178.93 L397.54 181.05 L397.66 177.81 L397.78 182.52 L397.90 185.31 L398.02 175.44 L398.14 184.71 L398.26 188.00 L398.38 185.06 L398.50 182.85 L398.62 186.43 L398.74 189.61 L398.86 186.55 L398.98 179.30 L399.10 184.81 L399.20 175.65 L399.20 186.75 L399.22 181.99 L399.34 184.82 L399.46 186.93 L399.58 189.76 L399.70 176.85 L399.82 180.71 L399.94 183.13 L400.06 176.33 L400.18 178.77 L400.30 176.75 L400.42 181.56 L400.54 178.95 L400.66 180.00 L400.78 182.39 L400.90 187.11 L401.02 174.31 L401.14 174.95 L401.26 178.08 L401.38 188.82 L401.50 180.58 L401.62 189.18 L401.74 185.41 L401.86 178.27 L401.98 179.16 L402.10 174.08 L402.22 187.54 L402.34 186.86 L402.46 181.02 L402.58 175.46 L402.70 170.30 L402.82 174.82 L402.94 176.54 L403.06 181.95 L403.18 172.45 L403.30 173.74 L403.42 170.39 L403.54 178.05 L403.66 178.99 L403.78 173.62 L403.90 175.00 L404.02 181.89 L404.14 180.42 L404.20 171.35 L404.20 185.75 L404.26 182.05 L404.38 178.30 L404.50 174.10 L404.62 184.37 L404.74 183.76 L404.86 175.32 L404.98 184.86 L405.10 178.62 L405.22 174.80 L405.34 188.82 L405.46 185.17 L405.58 182.07 L405.70 184.19 L405.82 181.07 L405.94 178.14 L406.06 183.03 L406.18 176.35 L406.30 177.97 L406.42 185.53 L406.54 184.18 L406.66 177.05 L406.78 181.35 L406.90 173.29 L407.02 186.68 L407.14 174.48 L407.26 187.03 L407.38 185.54 L407.50 186.71 L407.62 174.02 L407.74 181.08 L407.86 179.72 L407.98 183.69 L408.10 175.74 L408.22 186.23 L408.34 186.15 L408.40 175.65 L408.40 186.75 L408.46 183.71 L408.58 184.64 L408.70 177.05 L408.82 177.82 L408.94 184.70 L409.06 187.81 L409.18 180.58 L409.30 184.65 L409.42 177.49 L409.54 181.35 L409.66 177.66 L409.78 186.42 L409.90 182.16 L410.02 186.03 L410.14 176.56 L410.26 182.71 L410.38 187.07 L410.50 184.92 L410.62 185.88 L410.74 184.19 L410.86 183.92 L410.98 181.45 L411.10 178.17 L411.22 187.82 L411.34 181.19 L411.46 184.02 L411.58 181.84 L411.70 178.94 L411.82 187.12 L411.94 188.61 L412.06 187.63 L412.18 190.70 L412.30 183.10 L412.42 185.65 L412.54 179.93 L412.66 188.40 L412.70 177.75 L412.70 187.85 L412.78 178.84 L412.90 180.36 L413.02 182.53 L413.14 176.07 L413.26 185.89 L413.38 182.77 L413.50 188.21 L413.62 177.22 L413.74 186.26 L413.86 185.57 L413.98 187.19 L414.10 186.51 L414.22 181.37 L414.34 179.02 L414.46 178.61 L414.58 184.29 L414.70 185.48 L414.82 178.42 L414.94 183.30 L415.06 188.96 L415.18 183.38 L415.30 177.87 L415.42 181.56 L415.54 182.06 L415.66 184.91 L415.78 179.25 L415.90 185.91 L416.02 182.40 L416.14 178.57 L416.26 183.58 L416.38 184.79 L416.50 177.58 L416.62 180.74 L416.74 182.06 L416.86 184.01 L416.90 176.65 L416.90 186.75 L416.98 180.17 L417.10 176.30 L417.22 183.94 L417.34 186.81 L417.46 176.88 L417.58 185.66 L417.70 186.07 L417.82 178.73 L417.94 179.92 L418.06 181.42 L418.18 178.75 L418.30 178.45 L418.42 177.38 L418.54 185.04 L418.66 183.12 L418.78 184.90 L418.90 176.82 L419.02 184.22 L419.14 176.41 L419.26 179.92 L419.38 179.59 L419.50 186.63 L419.62 173.95 L419.74 176.35 L419.86 179.01 L419.98 181.85 L420.10 178.15 L420.22 185.42 L420.34 179.34 L420.46 182.22 L420.58 186.67 L420.70 184.84 L420.82 184.80 L420.94 179.72 L421.06 180.62 L421.10 176.65 L421.10 185.75 L421.18 186.57 L421.30 182.02 L421.42 185.20 L421.54 183.41 L421.66 187.07 L421.78 184.89 L421.90 182.41 L422.02 174.45 L422.14 175.63 L422.26 179.09 L422.38 182.25 L422.50 178.96 L422.62 185.09 L422.74 174.56 L422.86 174.50 L422.98 180.62 L423.10 177.24 L423.22 184.30 L423.34 175.90 L423.46 177.50 L423.58 177.83 L423.70 172.30 L423.82 175.88 L423.94 185.05 L424.06 175.61 L424.18 177.05 L424.30 183.02 L424.42 176.88 L424.54 171.66 L424.66 183.40 L424.78 187.55 L424.90 186.32 L425.02 183.65 L425.14 177.43 L425.26 179.77 L425.30 173.45 L425.30 184.65 L425.38 177.79 L425.50 174.22 L425.62 172.65 L425.74 173.22 L425.86 177.22 L425.98 185.22 L426.10 185.73 L426.22 183.29 L426.34 172.78 L426.46 175.16 L426.58 184.43 L426.70 175.84 L426.82 179.18 L426.94 182.42 L427.06 177.67 L427.18 170.11 L427.30 182.61 L427.42 177.60 L427.54 178.08 L427.66 175.39 L427.78 178.11 L427.90 178.20 L428.02 174.27 L428.14 180.39 L428.26 178.88 L428.38 178.49 L428.50 176.09 L428.62 176.09 L428.74 171.29 L428.86 175.08 L428.98 176.15 L429.10 171.73 L429.22 178.14 L429.34 180.45 L429.46 176.67 L429.50 170.35 L429.50 180.45 L429.58 179.66 L429.70 173.70 L429.82 180.71 L429.94 178.58 L430.06 178.06 L430.18 177.92 L430.30 176.64 L430.42 173.10 L430.54 179.61 L430.66 168.83 L430.78 180.08 L430.90 179.96 L431.02 166.77 L431.14 167.75 L431.26 171.20 L431.38 176.88 L431.50 169.01 L431.62 176.36 L431.74 173.53 L431.86 167.52 L431.98 167.77 L432.10 175.33 L432.22 168.59 L432.34 176.46 L432.46 164.84 L432.58 172.83 L432.70 168.87 L432.82 169.63 L432.94 166.09 L433.06 169.23 L433.18 175.57 L433.30 177.66 L433.42 177.01 L433.54 170.85 L433.66 172.10 L433.78 165.56 L433.80 163.95 L433.80 176.25 L433.90 166.68 L434.02 171.97 L434.14 162.64 L434.26 169.11 L434.38 165.25 L434.50 167.40 L434.62 162.67 L434.74 167.56 L434.86 164.47 L434.98 166.19 L435.10 167.73 L435.22 175.95 L435.34 167.21 L435.46 161.19 L435.58 165.39 L435.70 161.42 L435.82 163.42 L435.94 174.99 L436.06 172.70 L436.18 175.37 L436.30 172.28 L436.42 175.32 L436.54 171.67 L436.66 159.72 L436.78 172.51 L436.90 159.46 L437.02 173.86 L437.14 159.16 L437.26 165.87 L437.38 159.12 L437.50 166.34 L437.62 175.50 L437.74 174.49 L437.86 174.99 L437.98 157.87 L438.00 158.75 L438.00 173.05 L438.10 174.26 L438.22 165.70 L438.34 168.04 L438.46 160.27 L438.58 162.51 L438.70 172.79 L438.82 160.48 L438.94 169.88 L439.06 161.73 L439.18 168.16 L439.30 163.98 L439.42 160.00 L439.54 175.56 L439.66 157.38 L439.78 155.94 L439.90 167.14 L440.02 156.96 L440.14 170.61 L440.26 159.16 L440.38 161.00 L440.50 159.84 L440.62 162.43 L440.74 165.19 L440.86 168.88 L440.98 158.04 L441.10 161.75 L441.22 173.85 L441.34 154.64 L441.46 165.58 L441.58 158.82 L441.70 161.35 L441.82 164.68 L441.94 168.53 L442.06 165.87 L442.18 161.65 L442.20 156.65 L442.20 171.95 L442.30 158.54 L442.42 153.78 L442.54 165.25 L442.66 171.53 L442.78 158.98 L442.90 156.38 L443.02 156.31 L443.14 157.80 L443.26 161.35 L443.38 171.40 L443.50 164.18 L443.62 160.53 L443.74 156.05 L443.86 166.66 L443.98 170.21 L444.10 170.58 L444.22 157.93 L444.34 170.25 L444.46 153.69 L444.58 159.32 L444.70 167.78 L444.82 169.45 L444.94 153.90 L445.00 152.65 L445.00 171.75 L445.06 152.61 L445.18 164.67 L445.30 169.92 L445.42 159.16 L445.54 156.59 L445.66 152.58 L445.78 163.75 L445.90 173.02 L446.02 168.14 L446.14 155.98 L446.26 165.53 L446.38 169.72 L446.50 159.02 L446.62 171.48 L446.74 160.23 L446.86 154.18 L446.98 171.63 L447.10 159.98 L447.22 161.79 L447.34 154.54 L447.46 158.56 L447.58 170.39 L447.70 169.32 L447.82 164.34 L447.94 164.08 L448.06 164.36 L448.18 161.81 L448.20 153.45 L448.20 170.25 L448.30 172.29 L448.42 161.42 L448.54 155.20 L448.66 155.11 L448.78 170.12 L448.90 155.25 L449.02 167.11 L449.14 159.34 L449.26 166.99 L449.38 161.65 L449.50 154.88 L449.62 157.61 L449.74 171.30 L449.86 160.85 L449.98 158.86 L450.10 164.79 L450.22 163.55 L450.34 158.83 L450.46 163.48 L450.58 161.69 L450.70 169.80 L450.82 171.38 L450.94 157.98 L451.06 164.54 L451.18 161.20 L451.30 157.45 L451.30 170.25 L451.30 163.82 L451.42 166.40 L451.54 166.91 L451.66 162.53 L451.78 168.76 L451.90 167.59 L452.02 171.42 L452.14 165.81 L452.26 157.72 L452.38 163.61 L452.50 158.96 L452.62 164.57 L452.74 160.75 L452.86 163.31 L452.98 158.09 L453.10 170.77 L453.22 172.09 L453.34 158.40 L453.46 162.82 L453.58 175.11 L453.70 156.10 L453.82 171.25 L453.94 157.36 L454.06 162.35 L454.18 159.73 L454.30 167.97 L454.42 169.10 L454.50 159.05 L454.50 174.95 L454.54 176.32 L454.66 172.62 L454.78 167.12 L454.90 168.88 L455.02 166.22 L455.14 167.75 L455.26 171.52 L455.38 168.33 L455.50 164.92 L455.62 155.99 L455.74 164.58 L455.86 160.31 L455.98 167.74 L456.10 163.26 L456.22 159.35 L456.34 169.43 L456.46 156.35 L456.58 166.00 L456.70 167.16 L456.82 167.84 L456.90 154.25 L456.90 168.65 L456.94 162.83 L457.06 159.08 L457.18 163.04 L457.30 164.87 L457.42 161.67 L457.54 167.89 L457.66 167.62 L457.78 156.24 L457.90 158.23 L458.02 165.28 L458.14 158.30 L458.26 154.03 L458.38 151.01 L458.50 150.35 L458.50 165.45 L458.50 165.43 L458.62 155.70 L458.74 152.37 L458.86 159.51 L458.98 156.65 L459.10 150.52 L459.22 150.28 L459.34 147.12 L459.46 150.50 L459.58 154.38 L459.70 144.44 L459.82 159.80 L459.94 143.78 L460.06 148.69 L460.10 141.55 L460.10 160.75 L460.18 154.12 L460.30 159.92 L460.42 146.12 L460.54 148.56 L460.66 156.49 L460.78 137.39 L460.90 146.91 L461.02 136.85 L461.14 149.86 L461.26 152.13 L461.38 156.89 L461.50 147.85 L461.60 134.45 L461.60 155.95 L461.62 133.70 L461.74 153.62 L461.86 148.94 L461.98 139.56 L462.10 140.06 L462.22 141.71 L462.34 136.03 L462.46 152.76 L462.58 150.29 L462.70 135.25 L462.70 152.75 L462.70 150.18 L462.82 138.71 L462.94 151.56 L463.06 135.62 L463.18 139.68 L463.30 133.82 L463.42 153.28 L463.54 147.17 L463.66 150.77 L463.78 149.39 L463.90 139.00 L464.00 137.65 L464.00 151.95 L464.02 149.25 L464.14 138.61 L464.26 139.97 L464.38 143.67 L464.50 144.06 L464.62 146.70 L464.74 146.94 L464.86 138.99 L464.98 146.70 L465.10 143.06 L465.22 151.48 L465.34 148.75 L465.46 140.83 L465.58 145.42 L465.60 136.85 L465.60 153.55 L465.70 149.87 L465.82 152.11 L465.94 141.68 L466.06 143.64 L466.18 148.37 L466.30 151.69 L466.42 148.02 L466.54 149.35 L466.66 152.69 L466.78 148.94 L466.90 153.32 L467.02 157.95 L467.14 156.01 L467.20 143.15 L467.20 157.55 L467.26 157.20 L467.38 156.97 L467.50 149.53 L467.62 153.87 L467.74 160.44 L467.86 144.61 L467.98 151.47 L468.10 148.81 L468.22 147.86 L468.34 159.95 L468.46 162.42 L468.58 152.49 L468.70 150.47 L468.80 147.95 L468.80 162.25 L468.82 151.06 L468.94 150.18 L469.06 150.54 L469.18 156.42 L469.30 161.44 L469.42 162.69 L469.54 157.92 L469.66 161.51 L469.78 158.63 L469.90 153.77 L470.02 160.24 L470.14 161.68 L470.26 164.06 L470.38 164.43 L470.40 157.45 L470.40 166.25 L470.50 160.75 L470.62 163.45 L470.74 162.06 L470.86 168.49 L470.98 166.43 L471.10 163.17 L471.22 167.35 L471.34 164.88 L471.46 167.54 L471.58 164.14 L471.70 168.98 L471.82 166.28 L471.90 166.95 L471.90 170.25 L471.94 166.27 L472.06 166.27 L472.18 169.05 L472.30 169.63 L472.42 170.56 L472.54 172.65 L472.66 172.23 L472.78 173.29 L472.90 173.46 L473.02 168.84 L473.14 171.87 L473.26 169.85 L473.38 175.85 L473.50 169.35 L473.50 174.95 L473.50 175.44 L473.62 170.41 L473.74 175.80 L473.86 173.07 L473.98 169.21 L474.10 173.84 L474.22 169.89 L474.34 171.78 L474.46 172.92 L474.58 173.07 L474.70 172.42 L474.82 170.65 L474.94 176.19 L475.06 171.03 L475.18 171.77 L475.30 175.53 L475.42 171.36 L475.54 172.78 L475.66 177.23 L475.78 176.01 L475.90 175.67 L476.02 172.65 L476.14 171.05 L476.26 177.71 L476.38 174.85 L476.50 175.86 L476.62 174.30 L476.70 169.35 L476.70 176.55 L476.74 171.15 L476.86 172.80 L476.98 174.44 L477.10 172.18 L477.22 174.98 L477.34 177.39 L477.46 170.12 L477.58 173.89 L477.70 176.83 L477.82 177.76 L477.94 175.13 L478.06 172.74 L478.18 170.34 L478.30 169.11 L478.42 170.75 L478.54 173.89 L478.66 175.29 L478.78 179.48 L478.90 172.97 L479.02 166.17 L479.14 175.49 L479.26 171.94 L479.38 176.50 L479.50 178.59 L479.62 175.91 L479.74 175.16 L479.86 171.92 L479.90 168.55 L479.90 178.15 L479.98 172.67 L480.10 178.18 L480.22 175.55 L480.34 178.78 L480.46 175.07 L480.58 179.00 L480.70 175.84 L480.82 169.54 L480.94 168.87 L481.06 180.61 L481.18 171.56 L481.30 175.67 L481.42 182.15 L481.54 171.78 L481.66 169.30 L481.78 175.48 L481.90 175.52 L482.02 176.20 L482.14 171.16 L482.26 175.20 L482.38 174.22 L482.50 171.72 L482.62 178.53 L482.74 180.96 L482.86 180.49 L482.98 172.09 L483.10 179.53 L483.22 172.90 L483.34 179.01 L483.46 171.37 L483.58 174.23 L483.70 171.14 L483.82 171.73 L483.94 184.29 L484.06 169.46 L484.18 183.37 L484.30 180.42 L484.40 172.45 L484.40 182.55 L484.42 172.05 L484.54 180.59 L484.66 183.43 L484.78 184.62 L484.90 182.69 L485.02 173.06 L485.14 172.68 L485.26 180.86 L485.38 181.46 L485.50 175.48 L485.62 170.43 L485.74 175.25 L485.86 172.94 L485.98 172.90 L486.10 175.92 L486.22 173.19 L486.34 173.07 L486.46 178.22 L486.58 179.94 L486.70 174.76 L486.82 180.46 L486.94 171.55 L487.06 181.91 L487.18 181.42 L487.30 171.99 L487.42 174.51 L487.54 172.62 L487.66 172.16 L487.78 174.89 L487.90 182.44 L488.02 179.21 L488.14 171.05 L488.26 170.59 L488.38 179.39 L488.50 170.56 L488.60 169.25 L488.60 181.45 L488.62 171.50 L488.74 170.38 L488.86 176.07 L488.98 169.22 L489.10 171.57 L489.22 173.54 L489.34 171.77 L489.46 172.16 L489.58 172.57 L489.70 184.66 L489.82 173.19 L489.94 178.74 L490.06 178.35 L490.18 183.73 L490.30 168.15 L490.42 182.67 L490.54 173.79 L490.66 181.36 L490.78 181.42 L490.90 177.04 L491.02 180.31 L491.14 170.36 L491.26 174.25 L491.38 181.79 L491.50 180.34 L491.62 176.48 L491.74 174.68 L491.86 179.80 L491.98 174.32 L492.10 175.16 L492.22 175.35 L492.34 173.77 L492.46 182.34 L492.58 181.48 L492.70 183.14 L492.80 172.45 L492.80 182.55 L492.82 179.65 L492.94 181.44 L493.06 173.65 L493.18 182.77 L493.30 171.70 L493.42 183.27 L493.54 176.57 L493.66 179.12 L493.78 172.05 L493.90 179.25 L494.02 181.68 L494.14 176.35 L494.26 180.32 L494.38 169.05 L494.50 183.00 L494.62 180.60 L494.74 171.87 L494.86 172.14 L494.98 185.30 L495.00 170.75 L495.00 182.25 L495.10 170.93 L495.22 174.17 L495.34 172.19 L495.46 173.85 L495.58 181.41 L495.70 176.07 L495.82 178.97 L495.94 173.93 L496.06 176.49 L496.18 179.75 L496.30 172.20 L496.42 177.97 L496.54 172.46 L496.66 169.68 L496.78 173.88 L496.90 178.29 L497.02 172.98 L497.14 175.84 L497.26 180.96 L497.38 170.55 L497.50 175.53 L497.62 176.89 L497.74 180.05 L497.86 181.97 L497.98 177.35 L498.10 180.65 L498.22 170.26 L498.34 174.48 L498.46 182.33 L498.58 173.02 L498.70 168.22 L498.82 179.06 L498.94 165.97 L499.06 174.39 L499.18 168.79 L499.30 175.90 L499.42 174.31 L499.54 167.92 L499.66 168.60 L499.78 172.99 L499.90 167.48 L500.00 167.75 L500.00 181.25 L500.02 168.35 L500.14 176.72 L500.26 167.64 L500.38 181.56 L500.50 182.37 L500.62 180.05 L500.74 167.40 L500.86 170.72 L500.98 170.34 L501.10 170.46 L501.22 171.04 L501.34 165.44 L501.46 173.10 L501.58 167.05 L501.70 176.32 L501.82 177.23 L501.94 165.94 L502.06 167.56 L502.18 172.22 L502.30 179.18 L502.42 171.05 L502.54 171.44 L502.66 179.80 L502.78 177.16 L502.90 164.95 L502.90 181.25 L502.90 170.94 L503.02 176.32 L503.14 176.69 L503.26 177.81 L503.38 179.04 L503.50 179.16 L503.62 165.83 L503.74 164.94 L503.86 162.86 L503.98 161.26 L504.10 160.76 L504.22 175.57 L504.34 170.96 L504.46 160.66 L504.58 165.78 L504.70 173.71 L504.82 172.59 L504.94 169.80 L505.00 154.35 L505.00 174.25 L505.06 173.08 L505.18 160.29 L505.30 149.78 L505.42 161.98 L505.54 148.43 L505.66 155.74 L505.78 144.63 L505.90 146.91 L506.02 165.71 L506.14 157.88 L506.26 141.49 L506.30 138.55 L506.30 167.25 L506.38 151.23 L506.50 136.97 L506.62 159.34 L506.74 156.75 L506.86 163.40 L506.98 148.26 L507.10 144.39 L507.22 144.49 L507.34 147.67 L507.46 158.24 L507.50 125.75 L507.50 157.25 L507.58 153.36 L507.70 132.02 L507.82 136.82 L507.94 131.45 L508.06 115.46 L508.18 124.32 L508.20 112.15 L508.20 149.25 L508.30 114.34 L508.42 128.65 L508.54 139.26 L508.66 129.79 L508.78 114.66 L508.90 134.52 L509.02 136.10 L509.14 108.26 L509.26 111.77 L509.38 111.89 L509.50 100.25 L509.50 127.25 L509.50 119.90 L509.62 109.69 L509.74 121.37 L509.86 113.38 L509.98 101.05 L510.10 100.25 L510.22 101.50 L510.30 93.65 L510.30 120.25 L510.34 97.04 L510.46 99.80 L510.58 109.97 L510.70 98.92 L510.82 113.12 L510.94 91.75 L511.06 109.72 L511.18 110.08 L511.30 99.99 L511.42 121.37 L511.54 98.35 L511.66 113.69 L511.78 117.30 L511.90 97.45 L512.00 93.65 L512.00 117.25 L512.02 92.19 L512.14 95.88 L512.26 98.03 L512.38 107.61 L512.50 104.63 L512.62 104.01 L512.74 102.20 L512.86 103.67 L512.98 99.08 L513.10 107.64 L513.22 93.36 L513.34 110.05 L513.46 102.71 L513.58 114.58 L513.70 95.37 L513.82 102.57 L513.94 101.05 L514.00 93.65 L514.00 121.25 L514.06 122.18 L514.18 125.96 L514.30 100.25 L514.30 129.25 L514.30 106.57 L514.42 120.49 L514.54 122.77 L514.66 117.40 L514.78 114.87 L514.80 112.15 L514.80 134.25 L514.90 122.51 L515.02 136.93 L515.14 117.81 L515.26 122.46 L515.38 136.26 L515.50 122.82 L515.62 136.54 L515.74 123.35 L515.86 125.39 L515.98 142.71 L516.00 125.75 L516.00 142.25 L516.10 133.25 L516.22 138.39 L516.34 143.01 L516.46 145.34 L516.58 144.04 L516.70 142.86 L516.82 134.70 L516.94 140.51 L517.06 142.38 L517.18 147.47 L517.30 149.82 L517.40 138.55 L517.40 154.25 L517.42 149.13 L517.54 152.43 L517.66 142.49 L517.78 153.12 L517.90 143.77 L518.02 146.50 L518.14 160.71 L518.26 144.79 L518.38 146.60 L518.50 161.61 L518.62 150.68 L518.70 146.75 L518.70 163.45 L518.74 152.38 L518.86 160.51 L518.98 149.87 L519.10 155.77 L519.22 157.60 L519.34 161.72 L519.46 167.00 L519.58 161.51 L519.70 156.07 L519.82 165.48 L519.94 164.54 L520.06 165.55 L520.10 154.35 L520.10 169.25 L520.18 168.86 L520.30 170.66 L520.42 161.16 L520.54 157.61 L520.66 161.73 L520.78 169.93 L520.90 171.65 L521.02 159.37 L521.14 166.85 L521.26 163.84 L521.38 172.19 L521.50 167.98 L521.62 170.98 L521.74 166.51 L521.86 169.65 L521.98 162.01 L522.10 174.60 L522.22 173.40 L522.34 169.10 L522.46 167.41 L522.58 172.31 L522.70 164.95 L522.70 175.25 L522.70 171.98 L522.82 167.67 L522.94 171.24 L523.06 171.09 L523.18 165.63 L523.30 173.76 L523.42 172.54 L523.54 168.38 L523.66 174.16 L523.78 170.22 L523.90 167.59 L524.02 167.65 L524.14 174.94 L524.26 167.60 L524.38 174.98 L524.50 179.00 L524.62 174.16 L524.74 171.18 L524.86 173.22 L524.98 177.85 L525.00 168.75 L525.00 177.25 L525.10 171.66 L525.22 175.64 L525.34 173.37 L525.46 176.15 L525.58 173.94 L525.70 173.99 L525.82 173.05 L525.94 177.01 L526.06 179.23 L526.18 181.76 L526.30 174.43 L526.42 174.46 L526.54 174.05 L526.66 176.65 L526.78 169.16 L526.90 167.66 L527.02 169.39 L527.14 171.51 L527.26 177.11 L527.38 172.03 L527.50 180.15 L527.62 173.10 L527.74 178.29 L527.86 177.14 L527.98 181.18 L528.10 181.55 L528.22 181.68 L528.34 176.94 L528.46 171.36 L528.58 176.13 L528.70 175.18 L528.82 171.55 L528.94 169.33 L529.06 174.10 L529.18 182.36 L529.30 182.13 L529.42 178.67 L529.54 175.92 L529.60 170.95 L529.60 183.65 L529.66 178.31 L529.78 179.97 L529.90 181.35 L530.02 176.28 L530.14 177.90 L530.26 182.95 L530.38 170.76 L530.50 174.56 L530.62 181.47 L530.74 179.25 L530.86 171.00 L530.98 174.70 L531.10 176.10 L531.22 174.22 L531.34 182.78 L531.46 181.12 L531.58 182.31 L531.70 182.95 L531.82 177.69 L531.94 173.85 L532.06 180.87 L532.18 172.51 L532.30 185.60 L532.42 174.79 L532.54 176.93 L532.66 179.12 L532.78 184.04 L532.90 172.99 L533.02 177.98 L533.14 172.05 L533.26 176.55 L533.38 175.69 L533.50 174.28 L533.62 177.61 L533.74 179.30 L533.86 178.04 L533.98 176.33 L534.10 182.62 L534.22 170.91 L534.34 182.37 L534.46 172.45 L534.58 179.10 L534.70 180.66 L534.82 183.61 L534.94 182.43 L535.06 175.05 L535.18 172.93 L535.30 183.67 L535.42 172.91 L535.54 181.71 L535.66 186.49 L535.78 178.18 L535.90 174.15 L535.90 186.85 L535.90 172.34 L536.02 186.76 L536.14 181.24 L536.26 188.04 L536.38 178.69 L536.50 175.75 L536.62 185.82 L536.74 176.30 L536.86 184.15 L536.98 186.03 L537.10 181.56 L537.22 176.54 L537.34 188.00 L537.46 177.90 L537.58 174.48 L537.70 186.98 L537.82 178.44 L537.94 173.70 L538.06 174.74 L538.18 182.19 L538.30 182.75 L538.42 182.97 L538.54 175.28 L538.66 182.74 L538.78 187.44 L538.90 187.43 L539.02 187.07 L539.14 175.96 L539.26 179.07 L539.38 172.74 L539.50 177.80 L539.62 185.45 L539.74 176.19 L539.86 178.24 L539.98 175.00 L540.10 186.40 L540.22 178.68 L540.34 183.59 L540.46 176.74 L540.58 185.74 L540.70 183.17 L540.82 186.07 L540.94 179.70 L541.06 185.90 L541.18 186.47 L541.30 181.84 L541.42 177.66 L541.54 182.90 L541.66 181.01 L541.78 184.16 L541.90 182.54 L542.02 174.20 L542.14 179.56 L542.20 175.65 L542.20 186.85 L542.26 181.48 L542.38 183.05 L542.50 185.43 L542.62 182.84 L542.74 178.63 L542.86 174.94 L542.98 174.73 L543.10 175.53 L543.22 178.05 L543.34 175.38 L543.46 184.35 L543.58 174.00 L543.70 183.72 L543.82 185.55 L543.94 180.42 L544.06 174.47 L544.18 182.55 L544.30 174.97 L544.42 175.12 L544.54 182.10 L544.66 175.91 L544.78 181.93 L544.90 179.32 L545.02 182.48 L545.14 187.91 L545.26 178.68 L545.38 178.06 L545.50 184.62 L545.62 181.27 L545.74 187.13 L545.86 174.89 L545.98 188.15 L546.10 185.94 L546.22 187.64 L546.34 175.09 L546.46 179.31 L546.58 188.93 L546.70 177.34 L546.82 181.00 L546.94 175.63 L547.06 189.48 L547.18 176.11 L547.30 178.56 L547.42 182.30 L547.54 186.75 L547.66 178.93 L547.78 184.85 L547.90 177.05 L548.02 183.71 L548.14 180.83 L548.26 186.24 L548.38 183.23 L548.50 175.65 L548.50 186.85 L548.50 185.61 L548.62 182.98 L548.74 182.01 L548.86 174.68 L548.98 180.17 L549.10 174.72 L549.22 176.09 L549.34 187.67 L549.46 178.11 L549.58 182.98 L549.70 176.69 L549.82 187.91 L549.94 179.41 L550.06 177.43 L550.18 176.33 L550.30 178.26 L550.42 182.61 L550.54 178.45 L550.66 185.48 L550.78 179.51 L550.90 180.33 L551.02 175.01 L551.14 180.46 L551.26 185.20 L551.38 186.07 L551.50 185.73 L551.62 174.89 L551.74 184.75 L551.86 182.34 L551.98 184.92 L552.10 178.91 L552.22 175.40 L552.34 184.79 L552.46 180.80 L552.58 182.62 L552.70 177.67 L552.82 179.68 L552.94 185.72 L553.06 181.32 L553.18 184.23 L553.30 172.65 L553.42 180.04 L553.54 185.84 L553.66 179.62 L553.78 185.59 L553.90 182.28 L554.02 175.05 L554.14 181.72 L554.26 178.24 L554.38 175.13 L554.50 177.54 L554.62 184.82 L554.74 185.03 L554.86 180.93 L554.98 182.57 L555.00 175.15 L555.00 184.75 L555.10 176.48 L555.22 181.57 L555.34 176.52 L555.46 175.01 L555.58 184.40 L555.70 180.02 L555.82 183.75 L555.94 172.23 L556.06 173.23 L556.18 184.07 L556.30 171.91 L556.42 178.01 L556.54 181.39 L556.66 185.14 L556.78 177.11 L556.90 182.21 L557.02 170.88 L557.14 171.26 L557.26 172.30 L557.38 175.44 L557.50 180.89 L557.62 176.64 L557.74 180.20 L557.86 171.87 L557.98 185.87 L558.10 182.95 L558.22 183.27 L558.34 184.07 L558.46 173.97 L558.58 169.42 L558.70 166.75 L558.70 184.75 L558.70 177.84 L558.82 181.76 L558.94 182.21 L559.06 181.33 L559.18 176.75 L559.30 182.44 L559.42 167.55 L559.54 179.28 L559.66 168.64 L559.78 175.73 L559.90 176.59 L560.02 169.42 L560.14 182.80 L560.26 181.58 L560.38 176.78 L560.50 183.95 L560.62 171.99 L560.74 173.88 L560.86 177.55 L560.98 174.79 L561.10 176.58 L561.22 179.94 L561.34 184.97 L561.46 176.98 L561.58 184.70 L561.70 172.14 L561.82 177.91 L561.94 186.82 L562.06 186.55 L562.18 181.75 L562.30 181.00 L562.40 173.25 L562.40 186.55 L562.42 178.26 L562.54 182.46 L562.66 189.23 L562.78 177.08 L562.90 185.78 L563.02 184.41 L563.14 181.28 L563.26 180.70 L563.38 186.22 L563.50 179.66 L563.62 178.11 L563.74 189.91 L563.86 184.21 L563.98 182.01 L564.10 179.78 L564.22 182.51 L564.34 181.18 L564.46 187.84 L564.58 175.78 L564.70 179.93 L564.82 182.34 L564.94 185.34 L565.06 188.67 L565.18 182.69 L565.30 186.15 L565.42 182.34 L565.54 185.55 L565.66 178.25 L565.78 177.97 L565.90 185.38 L566.02 178.17 L566.10 178.85 L566.10 187.45 L566.14 185.69 L566.26 182.46 L566.38 184.11 L566.50 179.32 L566.62 188.19 L566.74 180.68 L566.86 188.44 L566.98 182.65 L567.10 187.17 L567.22 187.18 L567.34 184.92 L567.46 184.00 L567.58 182.36 L567.70 179.51 L567.82 187.17 L567.94 186.17 L568.06 182.94 L568.18 180.96 L568.30 175.61 L568.42 184.18 L568.54 185.58 L568.66 177.22 L568.78 186.18 L568.90 184.04 L569.02 178.96 L569.14 183.72 L569.26 175.36 L569.38 175.49 L569.50 181.49 L569.62 177.28 L569.74 185.06 L569.80 176.05 L569.80 187.45 L569.86 182.78 L569.98 184.96 L570.10 175.76 L570.22 185.18 L570.34 176.22 L570.46 180.93 L570.58 176.81 L570.70 185.29 L570.82 184.74 L570.94 178.84 L571.06 180.00 L571.18 188.09 L571.30 175.84 L571.42 185.46 L571.54 183.99 L571.66 182.67 L571.78 179.10 L571.90 179.59 L572.02 182.52 L572.14 176.38 L572.26 175.30 L572.38 179.80 L572.50 181.23 L572.62 177.81 L572.74 186.21 L572.86 187.47 L572.98 178.67 L573.10 187.48 L573.22 175.67 L573.34 175.59 L573.46 187.20 L573.50 175.15 L573.50 186.55 L573.58 182.01 L573.70 179.13 L573.82 176.65 L573.94 174.32 L574.06 181.34 L574.18 179.45 L574.30 178.03 L574.42 183.93 L574.54 177.59 L574.66 177.07 L574.78 174.80 L574.90 188.95 L575.02 175.63 L575.14 177.67 L575.26 187.34 L575.38 184.15 L575.50 185.44 L575.62 186.72 L575.74 174.79 L575.86 175.47 L575.98 187.85 L576.10 174.65 L576.22 186.63 L576.34 179.99 L576.46 178.48 L576.58 183.09 L576.70 183.08 L576.82 173.67 L576.94 186.25 L577.06 175.53 L577.18 176.39 L577.20 176.05 L577.20 186.55 L577.30 179.79 L577.42 175.78 L577.54 186.29 L577.66 183.64 L577.78 185.16 L577.90 186.07 L578.02 182.00 L578.14 186.12 L578.26 186.44 L578.38 175.24 L578.50 178.71 L578.62 172.03 L578.74 188.93 L578.86 183.97 L578.98 180.70 L579.10 176.94 L579.22 182.54 L579.34 185.77 L579.46 184.82 L579.58 172.07 L579.70 181.00 L579.82 173.32 L579.94 174.57 L580.06 177.46 L580.18 172.67 L580.30 178.24 L580.42 185.47 L580.54 189.05 L580.66 179.88 L580.78 179.62 L580.90 175.02 L581.02 184.88 L581.14 171.83 L581.26 176.36 L581.38 172.44 L581.50 183.51 L581.62 178.54 L581.74 173.96 L581.86 180.89 L581.98 184.24 L582.10 188.83 L582.22 176.34 L582.34 179.18 L582.46 173.69 L582.58 171.39 L582.70 170.45 L582.70 185.65 L582.70 177.02 L582.82 183.51 L582.94 185.91 L583.06 180.85 L583.18 175.09 L583.30 188.04 L583.42 171.93 L583.54 179.15 L583.66 176.65 L583.78 186.09 L583.90 176.58 L584.02 175.09 L584.14 176.27 L584.26 171.41 L584.38 184.27 L584.50 182.68 L584.62 184.02 L584.74 183.99 L584.86 176.43 L584.98 177.02 L585.10 182.52 L585.22 180.91 L585.34 180.79 L585.46 185.67 L585.58 173.92 L585.70 185.14 L585.82 182.40 L585.94 182.35 L586.06 183.79 L586.18 183.66 L586.30 173.95 L586.40 169.55 L586.40 184.75 L586.42 175.60 L586.54 177.38 L586.66 179.66 L586.78 171.66 L586.90 180.52 L587.02 178.83 L587.14 187.28 L587.26 187.72 L587.38 179.74 L587.50 177.33 L587.62 171.80 L587.74 181.67 L587.86 174.28 L587.98 173.87 L588.10 172.76 L588.22 179.43 L588.34 176.90 L588.46 188.01 L588.58 184.15 L588.70 182.58 L588.82 177.20 L588.94 185.07 L589.06 176.63 L589.18 176.09 L589.30 179.83 L589.42 185.78 L589.54 181.06 L589.66 182.85 L589.78 172.94 L589.90 176.26 L590.02 186.34 L590.10 175.15 L590.10 185.65 L590.14 176.37 L590.26 181.66 L590.38 184.22 L590.50 182.54 L590.62 177.46 L590.74 180.48 L590.86 181.98 L590.98 176.29 L591.10 182.30 L591.22 187.82 L591.34 174.54 L591.46 181.85 L591.58 176.69 L591.70 184.22 L591.82 178.98 L591.94 183.36 L592.06 183.73 L592.18 186.41 L592.30 184.21 L592.42 185.10 L592.54 179.26 L592.66 180.21 L592.78 185.08 L592.90 178.15 L593.02 177.88 L593.14 185.48 L593.26 179.75 L593.38 183.16 L593.50 181.54 L593.62 184.60 L593.74 180.98 L593.80 176.05 L593.80 184.75 L593.86 183.53 L593.98 184.27 L594.10 174.01 L594.22 179.40 L594.34 184.64 L594.46 177.14 L594.58 182.21 L594.70 173.05 L594.82 179.67 L594.94 176.22 L595.06 181.50 L595.18 175.63 L595.30 176.31 L595.42 176.12 L595.54 173.92 L595.66 176.12 L595.78 175.63 L595.90 180.20 L596.02 174.12 L596.14 178.70 L596.26 177.78 L596.38 181.35 L596.50 180.94 L596.62 179.29 L596.74 176.56 L596.86 184.09 L596.98 176.77 L597.10 174.80 L597.22 179.98 L597.34 179.65 L597.46 178.60 L597.50 173.25 L597.50 182.85 L597.58 177.05 L597.70 174.61 L597.82 179.56 L597.94 177.22 L598.06 177.82 L598.18 174.25 L598.30 178.18 L598.42 181.81 L598.54 180.15 L598.66 179.40 L598.78 172.68 L598.90 176.79 L599.02 180.96 L599.14 179.03 L599.26 175.43 L599.38 171.09 L599.50 172.58 L599.62 177.48 L599.74 174.51 L599.86 178.31 L599.98 174.45 L600.10 172.40 L600.22 181.06 L600.34 173.76 L600.46 178.02 L600.58 174.67 L600.70 181.00 L600.82 172.59 L600.94 178.21 L601.06 170.97 L601.18 180.18 L601.20 167.75 L601.20 179.15 L601.30 170.41 L601.42 170.58 L601.54 170.39 L601.66 172.66 L601.78 168.50 L601.90 166.39 L602.02 167.74 L602.14 165.88 L602.26 165.18 L602.38 165.03 L602.50 177.89 L602.62 177.98 L602.74 170.60 L602.86 162.78 L602.98 162.17 L603.10 163.07 L603.22 162.05 L603.34 169.07 L603.46 170.82 L603.58 166.49 L603.70 165.27 L603.82 162.97 L603.94 177.72 L604.06 173.73 L604.18 174.31 L604.30 173.36 L604.42 159.56 L604.54 169.63 L604.66 165.35 L604.78 171.47 L604.90 154.75 L604.90 175.45 L604.90 167.30 L605.02 167.70 L605.14 165.19 L605.26 156.01 L605.38 165.91 L605.50 160.04 L605.62 174.66 L605.74 173.73 L605.86 160.89 L605.98 162.45 L606.10 166.47 L606.22 175.25 L606.34 174.02 L606.46 161.44 L606.58 159.12 L606.70 164.58 L606.82 164.70 L606.94 168.94 L607.06 166.83 L607.18 175.56 L607.30 167.01 L607.42 174.91 L607.54 169.02 L607.66 174.46 L607.78 166.93 L607.90 172.38 L608.02 166.20 L608.14 173.34 L608.26 168.00 L608.38 160.57 L608.50 178.51 L608.60 162.15 L608.60 177.35 L608.62 162.24 L608.74 162.96 L608.86 166.43 L608.98 169.75 L609.10 174.53 L609.22 168.27 L609.34 177.84 L609.46 161.76 L609.58 175.92 L609.70 170.26 L609.82 166.04 L609.94 165.76 L610.06 178.47 L610.18 168.15 L610.30 164.12 L610.42 168.37 L610.54 168.27 L610.66 162.92 L610.78 166.44 L610.90 162.74 L611.02 167.04 L611.14 170.96 L611.26 174.85 L611.38 167.04 L611.40 156.65 L611.40 177.35 L611.50 165.27 L611.62 177.97 L611.74 157.83 L611.86 157.80 L611.98 172.31 L612.10 167.71 L612.22 169.70 L612.34 168.65 L612.46 161.67 L612.58 171.00 L612.70 168.17 L612.82 170.53 L612.94 167.37 L613.06 169.36 L613.18 170.84 L613.30 167.09 L613.42 174.16 L613.54 176.28 L613.66 172.28 L613.78 173.33 L613.90 165.18 L614.02 175.29 L614.14 168.73 L614.20 165.85 L614.20 179.15 L614.26 176.16 L614.38 178.64 L614.50 172.77 L614.62 180.58 L614.74 180.28 L614.86 174.53 L614.98 176.12 L615.10 172.06 L615.22 170.29 L615.34 177.99 L615.46 175.76 L615.58 181.55 L615.70 175.20 L615.82 169.84 L615.94 179.78 L616.06 178.36 L616.18 167.72 L616.30 171.43 L616.42 178.88 L616.54 167.96 L616.66 171.54 L616.78 180.21 L616.90 173.45 L617.02 169.39 L617.14 176.30 L617.26 176.22 L617.38 176.19 L617.50 170.86 L617.62 169.92 L617.74 184.03 L617.80 170.45 L617.80 181.95 L617.86 177.23 L617.98 177.36 L618.10 180.53 L618.22 169.34 L618.34 181.61 L618.46 172.23 L618.58 175.65 L618.70 173.64 L618.82 181.23 L618.94 177.63 L619.06 175.25 L619.18 178.58 L619.30 170.29 L619.42 180.68 L619.54 180.01 L619.66 180.42 L619.78 170.80 L619.90 176.98 L620.02 176.73 L620.14 179.21 L620.26 172.54 L620.38 177.82 L620.50 179.35 L620.62 171.01 L620.74 177.20 L620.86 173.98 L620.98 178.92 L621.10 175.45 L621.22 182.14 L621.34 176.69 L621.46 173.65 L621.50 172.35 L621.50 182.85 L621.58 178.43 L621.70 170.59 L621.82 172.87 L621.94 174.37 L622.06 174.94 L622.18 185.91 L622.30 171.83 L622.42 182.95 L622.54 174.26 L622.66 174.43 L622.78 174.66 L622.90 177.42 L623.02 182.93 L623.14 177.12 L623.26 179.73 L623.38 180.01 L623.50 176.65 L623.62 173.57 L623.74 175.79 L623.86 174.85 L623.98 181.21 L624.10 182.38 L624.22 185.18 L624.34 176.04 L624.46 176.80 L624.58 174.48 L624.70 178.36 L624.82 173.77 L624.94 177.27 L625.06 174.33 L625.18 172.54 L625.20 174.15 L625.20 184.75 L625.30 173.60 L625.42 173.97 L625.54 177.16 L625.66 177.80 L625.78 178.52 L625.90 178.66 L626.02 181.28 L626.14 180.97 L626.26 176.96 L626.38 183.69 L626.50 183.27 L626.62 183.32 L626.74 173.67 L626.86 181.48 L626.98 185.38 L627.10 181.27 L627.22 178.90 L627.34 174.52 L627.46 175.23 L627.58 178.71 L627.70 179.96 L627.82 174.43 L627.94 185.88 L628.06 172.05 L628.18 182.53 L628.30 175.05 L628.42 171.47 L628.54 178.07 L628.66 180.32 L628.78 177.33 L628.90 172.35 L628.90 182.85 L628.90 179.86 L629.02 171.17 L629.14 177.34 L629.26 180.06 L629.38 182.12 L629.50 183.53 L629.62 173.72 L629.74 172.91 L629.86 169.56 L629.98 177.98 L630.10 173.59 L630.22 173.37 L630.34 176.47 L630.46 169.42 L630.58 180.37 L630.70 178.18 L630.82 170.40 L630.94 175.34 L631.06 180.54 L631.18 175.44 L631.30 172.89 L631.42 179.77 L631.54 182.01 L631.66 178.65 L631.78 177.26 L631.90 180.35 L632.02 178.94 L632.14 176.08 L632.26 180.92 L632.38 182.82 L632.50 181.36 L632.60 167.75 L632.60 180.05 L632.62 175.82 L632.74 170.29 L632.86 175.73 L632.98 176.16 L633.10 180.46 L633.22 165.01 L633.34 172.87 L633.46 174.06 L633.58 179.51 L633.70 168.74 L633.82 169.07 L633.94 168.03 L634.06 180.41 L634.18 175.12 L634.30 180.88 L634.42 175.92 L634.54 169.02 L634.66 165.10 L634.78 175.92 L634.90 178.58 L635.02 176.17 L635.14 181.04 L635.26 178.98 L635.38 167.72 L635.50 171.00 L635.62 166.49 L635.74 166.70 L635.86 177.28 L635.98 172.15 L636.10 175.68 L636.22 167.65 L636.30 166.75 L636.30 179.15 L636.34 169.30 L636.46 168.33 L636.58 176.08 L636.70 180.08 L636.82 175.50 L636.94 175.30 L637.06 178.70 L637.18 179.64 L637.30 180.40 L637.42 174.21 L637.54 169.78 L637.66 172.88 L637.78 175.06 L637.90 179.01 L638.02 170.27 L638.14 175.39 L638.26 179.01 L638.38 173.54 L638.50 182.12 L638.62 172.72 L638.74 173.21 L638.86 178.56 L638.98 178.97 L639.10 181.60 L639.22 181.61 L639.34 175.86 L639.46 177.17 L639.58 178.30 L639.70 175.74 L639.82 176.39 L639.94 176.44 L640.00 175.15 L640.00 182.85 L640.06 183.34 L640.18 179.55 L640.30 175.26 L640.42 180.07 L640.54 184.17 L640.66 181.05 L640.78 179.65 L640.90 175.37 L641.02 178.45 L641.14 177.99 L641.26 175.47 L641.38 176.74 L641.50 179.61 L641.62 180.87 L641.74 186.34 L641.86 178.77 L641.98 182.18 L642.10 181.63 L642.22 183.20 L642.34 177.91 L642.46 180.83 L642.58 181.56 L642.70 185.48 L642.82 178.78 L642.94 181.79 L643.06 180.29 L643.18 177.25 L643.30 180.22 L643.42 182.83 L643.54 179.68 L643.66 182.81 L643.70 176.05 L643.70 184.75 L643.78 182.97 L643.90 180.19 L644.02 183.83 L644.14 184.59 L644.26 178.00 L644.38 176.62 L644.50 177.20 L644.62 176.03 L644.74 185.06 L644.86 178.61 L644.98 180.00 L645.10 175.81 L645.22 181.06 L645.34 184.47 L645.46 183.43 L645.58 179.38 L645.70 180.08 L645.82 175.36 L645.94 178.21 L646.06 178.59 L646.18 184.57 L646.30 182.56 L646.42 180.27 L646.54 182.64 L646.66 184.24 L646.78 182.68 L646.90 179.40 L647.02 180.26 L647.14 181.45 L647.26 179.08 L647.38 184.27 L647.40 176.05 L647.40 184.75 L647.50 178.08 L647.62 182.78 L647.74 177.34 L647.86 178.10 L647.98 176.28 L648.10 178.52 L648.22 175.57 L648.34 174.61 L648.46 182.49 L648.58 177.40 L648.70 178.38 L648.82 175.59 L648.94 184.93 L649.06 175.89 L649.18 179.06 L649.30 181.58 L649.42 186.65 L649.54 181.24 L649.66 177.02 L649.78 179.86 L649.90 176.75 L650.02 187.07 L650.14 178.73 L650.26 181.11 L650.38 184.28 L650.50 183.14 L650.62 184.61 L650.74 182.84 L650.86 182.86 L650.98 183.69 L651.10 176.95 L651.10 186.55 L651.10 174.46 L651.22 185.18 L651.34 180.90 L651.46 178.16 L651.58 180.90 L651.70 178.63 L651.82 178.50 L651.94 179.82 L652.06 180.99 L652.18 185.59 L652.30 188.10 L652.42 183.81 L652.54 179.70 L652.66 181.35 L652.78 177.62 L652.90 185.30 L653.02 179.33 L653.14 183.70 L653.26 178.06 L653.38 184.74 L653.50 178.51 L653.62 182.39 L653.74 180.30 L653.86 177.21 L653.98 187.47 L654.10 180.95 L654.22 188.25 L654.34 180.84 L654.46 184.13 L654.58 179.85 L654.70 185.78 L654.80 178.85 L654.80 187.45 L654.82 180.58 L654.94 186.24 L655.06 181.86 L655.18 182.40 L655.30 180.24 L655.42 183.45 L655.54 178.81 L655.66 187.50 L655.78 179.82 L655.90 178.28 L656.02 186.79 L656.14 180.39 L656.26 180.83 L656.38 182.15 L656.50 183.88 L656.62 188.65 L656.74 179.79 L656.86 189.64 L656.98 189.04 L657.10 187.15 L657.22 179.23 L657.34 183.89 L657.46 187.90 L657.58 184.12 L657.70 181.12 L657.82 185.62 L657.94 188.05 L658.06 181.21 L658.18 183.87 L658.30 180.85 L658.42 186.34" fill="none" stroke="#5B9BD5" stroke-width="1.5" stroke-linejoin="round"/>
<path d="M64.50 306.45 L64.50 316.75 L64.50 317.44 L64.62 315.98 L64.74 309.25 L64.86 312.66 L64.98 310.21 L65.10 317.28 L65.22 317.94 L65.34 309.05 L65.46 311.67 L65.58 305.09 L65.70 311.36 L65.82 307.00 L65.94 314.19 L66.06 314.87 L66.18 317.11 L66.30 313.79 L66.42 310.75 L66.54 315.25 L66.66 316.12 L66.78 316.36 L66.90 304.85 L66.90 316.05 L66.90 306.89 L67.02 306.00 L67.14 315.74 L67.26 312.82 L67.38 311.90 L67.50 305.98 L67.62 311.15 L67.74 312.25 L67.86 316.66 L67.98 305.63 L68.10 309.13 L68.22 305.14 L68.34 315.17 L68.46 310.37 L68.58 302.52 L68.70 305.09 L68.82 304.11 L68.94 302.35 L69.06 302.15 L69.18 309.95 L69.30 302.45 L69.30 311.25 L69.30 301.84 L69.42 309.42 L69.54 310.53 L69.66 302.88 L69.78 301.05 L69.90 300.96 L70.02 305.24 L70.14 301.78 L70.26 298.43 L70.38 298.50 L70.50 298.60 L70.62 309.63 L70.74 299.59 L70.86 303.95 L70.98 305.21 L71.10 302.43 L71.22 300.50 L71.34 297.83 L71.46 297.32 L71.58 300.25 L71.60 294.55 L71.60 306.45 L71.70 296.49 L71.82 303.72 L71.94 308.23 L72.06 295.59 L72.18 298.11 L72.30 301.50 L72.42 291.27 L72.54 296.80 L72.66 292.42 L72.78 299.14 L72.90 292.95 L73.02 305.49 L73.14 294.39 L73.26 298.25 L73.38 293.04 L73.50 303.74 L73.62 289.72 L73.74 301.60 L73.86 297.46 L73.98 298.37 L74.00 291.35 L74.00 304.15 L74.10 302.46 L74.22 294.51 L74.34 293.72 L74.46 303.96 L74.58 290.68 L74.70 291.26 L74.82 290.03 L74.94 299.13 L75.06 291.99 L75.18 295.30 L75.30 296.88 L75.42 288.99 L75.54 291.58 L75.66 299.30 L75.78 300.61 L75.90 294.29 L76.02 302.21 L76.14 294.71 L76.26 303.06 L76.38 303.47 L76.50 297.58 L76.62 289.06 L76.74 297.48 L76.86 284.42 L76.90 285.05 L76.90 302.55 L76.98 301.64 L77.10 284.93 L77.22 296.50 L77.34 287.09 L77.46 289.21 L77.58 289.31 L77.70 297.20 L77.82 296.52 L77.94 303.75 L78.06 295.43 L78.18 300.23 L78.30 293.23 L78.42 288.32 L78.54 291.01 L78.66 295.00 L78.78 302.52 L78.80 289.75 L78.80 303.35 L78.90 295.19 L79.02 289.94 L79.14 295.72 L79.26 297.20 L79.38 300.42 L79.50 304.28 L79.62 296.45 L79.74 301.29 L79.86 294.69 L79.98 300.37 L80.10 301.81 L80.22 300.20 L80.34 305.86 L80.46 300.10 L80.58 297.53 L80.70 301.45 L80.82 306.11 L80.94 306.33 L81.06 300.86 L81.10 300.05 L81.10 305.75 L81.18 302.24 L81.30 301.29 L81.42 302.89 L81.54 307.21 L81.66 305.87 L81.78 306.67 L81.90 306.97 L82.02 306.05 L82.14 304.18 L82.26 304.01 L82.38 302.61 L82.50 301.24 L82.62 310.27 L82.74 305.70 L82.86 310.01 L82.98 308.26 L83.10 311.57 L83.22 304.12 L83.34 304.81 L83.46 304.90 L83.50 303.25 L83.50 312.05 L83.58 306.61 L83.70 304.35 L83.82 311.59 L83.94 312.57 L84.06 310.24 L84.18 308.12 L84.30 307.57 L84.42 310.75 L84.54 315.32 L84.66 309.37 L84.78 306.39 L84.90 315.48 L85.02 306.60 L85.14 306.15 L85.26 308.15 L85.38 307.57 L85.50 307.40 L85.62 312.16 L85.74 312.63 L85.86 317.18 L85.90 308.75 L85.90 316.75 L85.98 315.00 L86.10 313.32 L86.22 309.70 L86.34 311.07 L86.46 317.80 L86.58 314.55 L86.70 310.84 L86.82 312.17 L86.94 314.61 L87.06 318.45 L87.18 315.57 L87.30 320.77 L87.42 318.27 L87.50 312.75 L87.50 319.95 L87.54 317.08 L87.66 317.46 L87.78 319.09 L87.90 312.77 L88.02 320.14 L88.14 314.43 L88.26 317.71 L88.38 321.69 L88.50 315.71 L88.62 319.43 L88.74 318.39 L88.86 319.80 L88.98 314.81 L89.10 321.61 L89.22 318.59 L89.34 321.90 L89.46 320.09 L89.58 318.26 L89.70 316.78 L89.82 316.42 L89.90 315.95 L89.90 321.55 L89.94 317.46 L90.06 321.85 L90.18 320.30 L90.30 317.57 L90.42 314.15 L90.54 317.69 L90.66 320.98 L90.78 318.61 L90.90 319.92 L91.02 320.18 L91.14 320.07 L91.26 319.38 L91.38 316.70 L91.50 322.86 L91.62 322.49 L91.74 319.77 L91.86 316.16 L91.98 320.62 L92.10 323.42 L92.22 318.79 L92.34 320.04 L92.46 323.34 L92.58 321.50 L92.70 316.75 L92.82 322.18 L92.94 321.84 L93.06 319.86 L93.18 318.66 L93.30 321.26 L93.42 320.61 L93.54 319.69 L93.66 321.50 L93.78 319.13 L93.90 321.15 L94.02 319.27 L94.14 322.80 L94.26 316.08 L94.38 316.59 L94.50 322.22 L94.60 317.55 L94.60 323.15 L94.62 320.87 L94.74 319.93 L94.86 316.99 L94.98 323.20 L95.10 324.88 L95.22 323.77 L95.34 317.59 L95.46 318.57 L95.58 319.95 L95.70 325.30 L95.82 319.97 L95.94 320.18 L96.06 324.53 L96.18 320.32 L96.30 323.19 L96.42 321.58 L96.54 317.07 L96.66 321.97 L96.78 320.43 L96.90 319.08 L97.02 324.53 L97.14 317.19 L97.26 324.73 L97.38 322.47 L97.50 319.93 L97.62 322.32 L97.74 320.73 L97.86 320.42 L97.98 323.05 L98.10 318.04 L98.22 320.75 L98.34 320.26 L98.46 322.72 L98.58 319.96 L98.70 322.38 L98.82 325.11 L98.94 324.52 L99.06 322.42 L99.18 322.63 L99.30 317.61 L99.40 318.25 L99.40 323.95 L99.42 324.84 L99.54 323.16 L99.66 319.86 L99.78 320.46 L99.90 317.14 L100.02 325.70 L100.14 324.46 L100.26 322.34 L100.38 322.11 L100.50 323.90 L100.62 320.87 L100.74 321.75 L100.86 325.14 L100.98 323.72 L101.10 321.82 L101.22 321.82 L101.34 320.27 L101.46 318.34 L101.58 324.66 L101.70 323.51 L101.82 316.62 L101.94 318.39 L102.06 315.53 L102.18 321.58 L102.30 324.94 L102.42 324.24 L102.54 317.10 L102.66 317.18 L102.78 323.53 L102.90 324.33 L103.02 317.55 L103.14 325.75 L103.26 317.75 L103.38 322.03 L103.50 323.95 L103.62 316.55 L103.74 323.27 L103.86 325.07 L103.98 319.40 L104.10 317.97 L104.22 316.31 L104.34 324.03 L104.46 322.89 L104.58 320.50 L104.70 321.83 L104.82 323.64 L104.94 323.86 L105.06 321.25 L105.18 316.76 L105.30 323.22 L105.42 316.72 L105.54 319.73 L105.66 318.98 L105.70 316.75 L105.70 323.95 L105.78 319.09 L105.90 322.06 L106.02 319.44 L106.14 318.00 L106.26 324.41 L106.38 322.69 L106.50 321.77 L106.62 318.93 L106.74 320.26 L106.86 318.22 L106.98 321.28 L107.10 321.22 L107.22 317.44 L107.34 323.76 L107.46 317.17 L107.58 316.31 L107.70 323.80 L107.82 323.46 L107.94 317.72 L108.06 318.66 L108.18 323.64 L108.30 320.71 L108.42 325.17 L108.54 319.08 L108.66 321.56 L108.78 316.60 L108.90 320.58 L109.02 320.96 L109.14 317.99 L109.26 323.00 L109.38 325.06 L109.50 324.37 L109.62 323.71 L109.74 323.05 L109.86 326.02 L109.98 321.45 L110.10 322.99 L110.22 324.75 L110.34 321.12 L110.46 316.16 L110.58 326.28 L110.70 319.68 L110.82 322.37 L110.94 317.44 L111.06 320.73 L111.18 317.49 L111.30 318.98 L111.42 318.26 L111.54 322.52 L111.66 320.61 L111.78 316.81 L111.90 322.51 L112.00 318.25 L112.00 323.95 L112.02 324.82 L112.14 322.02 L112.26 318.97 L112.38 323.47 L112.50 317.59 L112.62 322.02 L112.74 318.23 L112.86 322.60 L112.98 324.40 L113.10 325.63 L113.22 319.36 L113.34 322.79 L113.46 317.49 L113.58 322.53 L113.70 324.34 L113.82 323.65 L113.94 321.36 L114.06 319.75 L114.18 321.94 L114.30 323.57 L114.42 317.93 L114.54 321.27 L114.66 320.35 L114.78 325.27 L114.90 318.42 L115.02 319.45 L115.14 321.20 L115.26 318.86 L115.38 322.66 L115.50 320.29 L115.62 322.20 L115.74 317.78 L115.86 318.65 L115.98 324.82 L116.10 325.43 L116.22 322.04 L116.34 324.91 L116.46 319.14 L116.58 324.02 L116.70 321.74 L116.82 323.62 L116.94 320.15 L117.06 325.31 L117.18 322.75 L117.30 322.69 L117.42 325.08 L117.54 318.52 L117.66 323.54 L117.78 319.43 L117.90 324.22 L118.02 322.57 L118.14 322.31 L118.26 321.28 L118.38 320.40 L118.40 319.05 L118.40 323.95 L118.50 321.17 L118.62 323.17 L118.74 320.97 L118.86 318.39 L118.98 320.89 L119.10 323.39 L119.22 323.41 L119.34 319.08 L119.46 323.35 L119.58 320.68 L119.70 322.76 L119.82 318.20 L119.94 324.46 L120.06 319.05 L120.18 318.30 L120.30 323.96 L120.42 317.65 L120.54 323.69 L120.66 321.16 L120.78 324.69 L120.90 320.56 L121.02 321.45 L121.14 320.91 L121.26 318.72 L121.38 321.50 L121.50 319.88 L121.62 321.93 L121.74 324.70 L121.86 317.79 L121.98 324.51 L122.10 323.37 L122.22 318.65 L122.34 320.87 L122.46 321.68 L122.58 321.17 L122.70 323.30 L122.82 322.27 L122.94 316.04 L123.06 322.69 L123.18 320.26 L123.30 319.11 L123.42 316.72 L123.54 318.56 L123.66 323.81 L123.78 319.46 L123.90 319.13 L124.02 318.77 L124.14 322.79 L124.26 320.78 L124.38 320.08 L124.50 324.48 L124.62 319.73 L124.70 317.55 L124.70 323.15 L124.74 317.23 L124.86 323.26 L124.98 315.94 L125.10 321.52 L125.22 315.47 L125.34 316.65 L125.46 321.67 L125.58 318.36 L125.70 318.50 L125.82 318.45 L125.94 316.47 L126.06 320.86 L126.18 323.41 L126.30 317.03 L126.42 318.69 L126.54 323.98 L126.66 319.47 L126.78 317.25 L126.90 319.33 L127.02 323.51 L127.14 323.29 L127.26 321.58 L127.38 319.03 L127.50 318.36 L127.62 324.25 L127.74 323.86 L127.86 317.67 L127.98 316.41 L128.10 318.56 L128.22 317.63 L128.34 319.70 L128.46 318.50 L128.58 315.87 L128.70 317.14 L128.82 319.95 L128.94 317.86 L129.06 324.94 L129.18 321.25 L129.30 323.61 L129.42 320.02 L129.54 321.99 L129.66 317.37 L129.78 319.89 L129.90 319.45 L130.02 315.37 L130.14 318.63 L130.26 322.62 L130.38 320.60 L130.50 319.16 L130.62 321.91 L130.74 320.90 L130.86 324.08 L130.98 321.08 L131.10 315.95 L131.10 322.35 L131.10 318.66 L131.22 320.47 L131.34 319.81 L131.46 316.77 L131.58 317.30 L131.70 319.23 L131.82 314.99 L131.94 316.87 L132.06 318.30 L132.18 313.97 L132.30 323.49 L132.42 323.15 L132.54 319.25 L132.66 314.79 L132.78 317.90 L132.90 315.17 L133.02 321.46 L133.14 321.00 L133.26 319.82 L133.38 321.06 L133.50 321.35 L133.62 322.49 L133.74 322.39 L133.86 314.48 L133.98 321.54 L134.10 313.41 L134.22 321.05 L134.34 314.93 L134.46 323.46 L134.58 320.61 L134.70 324.09 L134.82 318.86 L134.94 320.13 L135.06 317.45 L135.18 313.92 L135.30 316.87 L135.42 320.67 L135.54 319.36 L135.66 320.99 L135.78 318.49 L135.80 314.35 L135.80 321.55 L135.90 320.85 L136.02 317.63 L136.14 316.18 L136.26 316.27 L136.38 321.08 L136.50 313.76 L136.62 322.09 L136.74 316.59 L136.86 315.82 L136.98 318.63 L137.10 321.65 L137.22 313.51 L137.34 317.95 L137.46 321.67 L137.58 315.47 L137.70 320.60 L137.82 317.53 L137.94 316.06 L138.06 313.80 L138.18 319.59 L138.30 320.41 L138.42 318.70 L138.54 314.57 L138.66 312.41 L138.78 321.48 L138.90 320.85 L139.02 315.44 L139.14 315.69 L139.26 319.30 L139.38 314.70 L139.50 318.34 L139.62 321.22 L139.74 322.84 L139.86 317.26 L139.98 320.86 L140.10 322.28 L140.22 319.06 L140.30 313.75 L140.30 321.25 L140.34 320.41 L140.46 313.78 L140.58 314.14 L140.70 319.27 L140.82 313.82 L140.94 317.00 L141.06 316.02 L141.18 313.94 L141.20 310.75 L141.20 320.25 L141.30 312.62 L141.42 316.62 L141.54 318.32 L141.66 315.59 L141.78 314.05 L141.90 318.01 L142.02 314.88 L142.14 311.46 L142.26 316.41 L142.38 311.21 L142.50 315.68 L142.62 314.04 L142.74 318.97 L142.86 308.46 L142.98 315.06 L143.00 307.75 L143.00 317.25 L143.10 307.72 L143.22 316.76 L143.34 312.99 L143.46 317.00 L143.58 310.04 L143.70 310.21 L143.82 309.98 L143.90 304.75 L143.90 315.25 L143.94 303.64 L144.06 305.99 L144.18 314.52 L144.30 309.97 L144.42 313.45 L144.54 308.43 L144.66 312.43 L144.78 304.26 L144.90 298.92 L145.02 301.41 L145.14 301.39 L145.26 307.32 L145.38 307.05 L145.40 294.75 L145.40 311.25 L145.50 307.25 L145.62 300.68 L145.74 306.25 L145.86 299.08 L145.98 306.47 L146.10 289.30 L146.22 292.37 L146.34 283.75 L146.40 277.95 L146.40 305.95 L146.46 288.40 L146.58 295.15 L146.70 282.77 L146.82 282.17 L146.94 297.81 L147.00 266.75 L147.00 299.25 L147.06 266.44 L147.18 285.36 L147.30 267.39 L147.42 273.39 L147.50 256.85 L147.50 293.25 L147.54 274.91 L147.66 272.98 L147.78 286.65 L147.90 248.45 L147.90 284.25 L147.90 280.68 L148.02 250.19 L148.14 254.32 L148.26 265.20 L148.38 252.61 L148.50 239.95 L148.50 276.45 L148.50 275.83 L148.62 270.52 L148.74 248.04 L148.86 262.85 L148.98 249.66 L149.10 269.48 L149.20 239.75 L149.20 267.25 L149.22 258.30 L149.34 245.02 L149.46 243.54 L149.58 262.24 L149.70 248.87 L149.82 239.66 L149.94 239.87 L150.00 239.95 L150.00 262.25 L150.06 255.12 L150.18 259.57 L150.20 248.45 L150.20 263.25 L150.30 258.15 L150.42 261.64 L150.54 262.87 L150.66 255.91 L150.70 256.85 L150.70 266.25 L150.78 262.25 L150.90 261.48 L151.02 266.79 L151.14 273.62 L151.20 265.75 L151.20 273.25 L151.26 273.62 L151.38 267.24 L151.50 273.17 L151.62 272.74 L151.74 268.08 L151.80 269.25 L151.80 284.25 L151.86 271.96 L151.98 269.20 L152.10 286.05 L152.22 277.92 L152.34 277.68 L152.46 290.97 L152.58 283.53 L152.70 273.91 L152.80 271.65 L152.80 293.25 L152.82 283.55 L152.94 291.55 L153.06 285.24 L153.18 277.74 L153.30 280.67 L153.42 290.58 L153.54 293.26 L153.66 289.22 L153.78 271.43 L153.90 288.70 L154.02 278.29 L154.14 295.45 L154.26 294.24 L154.38 296.37 L154.50 278.48 L154.62 280.37 L154.74 291.05 L154.86 275.93 L154.90 272.75 L154.90 297.55 L154.98 282.84 L155.10 286.36 L155.22 280.82 L155.34 284.28 L155.46 286.79 L155.58 295.65 L155.70 293.48 L155.82 294.12 L155.94 270.70 L156.06 272.49 L156.18 278.17 L156.30 281.72 L156.42 288.59 L156.54 298.37 L156.60 271.75 L156.60 299.25 L156.66 277.47 L156.78 295.86 L156.90 302.31 L157.02 281.39 L157.14 286.25 L157.26 277.57 L157.38 277.65 L157.50 297.24 L157.62 297.94 L157.74 294.88 L157.86 295.49 L157.98 298.28 L158.10 293.19 L158.22 296.75 L158.34 299.42 L158.46 297.44 L158.58 300.37 L158.70 274.76 L158.82 302.93 L158.90 275.55 L158.90 302.25 L158.94 295.37 L159.06 290.47 L159.18 276.85 L159.30 304.01 L159.42 283.37 L159.54 292.98 L159.66 300.48 L159.78 293.47 L159.90 283.71 L160.02 298.51 L160.14 297.03 L160.26 299.91 L160.38 290.23 L160.50 283.27 L160.62 300.52 L160.74 282.55 L160.86 284.94 L160.98 302.08 L161.10 301.58 L161.22 295.66 L161.34 295.21 L161.46 295.02 L161.58 303.87 L161.70 286.86 L161.82 304.50 L161.90 288.35 L161.90 306.65 L161.94 291.39 L162.06 305.85 L162.18 303.61 L162.30 297.41 L162.42 292.36 L162.54 292.40 L162.66 307.13 L162.78 294.89 L162.90 299.72 L163.02 294.96 L163.14 306.35 L163.26 307.02 L163.38 297.79 L163.50 307.35 L163.62 296.63 L163.74 290.45 L163.86 294.55 L163.98 303.62 L164.10 297.89 L164.22 298.94 L164.34 291.14 L164.46 299.76 L164.58 294.08 L164.70 291.40 L164.82 306.85 L164.94 301.75 L165.06 300.91 L165.18 294.88 L165.30 296.91 L165.42 300.46 L165.54 290.98 L165.66 293.66 L165.78 306.76 L165.80 290.75 L165.80 307.65 L165.90 299.41 L166.02 294.00 L166.14 303.00 L166.26 296.58 L166.38 308.31 L166.50 305.23 L166.62 288.85 L166.74 302.26 L166.86 307.75 L166.98 302.77 L167.10 297.70 L167.22 300.43 L167.34 305.39 L167.46 291.14 L167.58 294.11 L167.70 296.76 L167.82 298.04 L167.94 298.12 L168.06 292.39 L168.18 299.02 L168.30 303.05 L168.42 303.71 L168.54 289.61 L168.66 293.75 L168.78 289.25 L168.90 303.39 L169.02 291.02 L169.14 306.82 L169.26 304.10 L169.38 301.80 L169.50 310.11 L169.62 306.29 L169.74 295.64 L169.80 291.75 L169.80 307.25 L169.86 304.74 L169.98 294.98 L170.10 297.29 L170.22 299.00 L170.34 302.25 L170.46 294.53 L170.58 294.88 L170.70 292.06 L170.82 299.95 L170.94 300.09 L171.06 296.45 L171.18 301.96 L171.30 304.07 L171.42 289.70 L171.54 307.12 L171.66 296.31 L171.78 288.95 L171.90 299.17 L172.02 303.29 L172.14 294.61 L172.26 303.28 L172.38 284.41 L172.50 296.31 L172.62 297.24 L172.74 292.59 L172.86 287.14 L172.98 306.20 L173.10 297.98 L173.22 295.42 L173.34 293.20 L173.46 296.17 L173.58 293.04 L173.70 285.27 L173.80 284.45 L173.80 304.25 L173.82 284.18 L173.94 287.65 L174.06 287.87 L174.18 300.47 L174.30 300.95 L174.42 292.69 L174.54 287.62 L174.66 293.70 L174.78 292.39 L174.90 292.41 L175.02 292.32 L175.14 288.98 L175.26 283.78 L175.38 292.12 L175.50 297.56 L175.62 281.31 L175.74 284.55 L175.86 285.96 L175.98 302.79 L176.00 282.75 L176.00 302.25 L176.10 282.25 L176.22 286.85 L176.34 287.36 L176.46 293.02 L176.58 297.07 L176.70 283.03 L176.82 289.61 L176.94 292.31 L177.06 298.41 L177.18 292.57 L177.30 293.56 L177.42 291.15 L177.54 302.18 L177.66 280.12 L177.78 291.20 L177.90 295.30 L178.02 284.28 L178.14 293.89 L178.26 299.40 L178.38 284.55 L178.50 282.11 L178.62 296.56 L178.74 302.68 L178.80 279.75 L178.80 300.25 L178.86 277.87 L178.98 290.60 L179.10 279.25 L179.22 289.53 L179.34 299.77 L179.46 295.41 L179.58 297.59 L179.70 286.98 L179.82 292.45 L179.94 278.41 L180.06 283.36 L180.18 287.07 L180.30 282.35 L180.42 283.10 L180.54 289.48 L180.66 299.76 L180.78 298.14 L180.90 286.31 L181.02 280.45 L181.14 296.63 L181.26 290.71 L181.38 283.38 L181.50 283.21 L181.62 278.99 L181.70 278.45 L181.70 298.25 L181.74 287.02 L181.86 279.70 L181.98 287.24 L182.10 292.73 L182.22 290.46 L182.34 287.23 L182.46 293.33 L182.58 295.63 L182.70 290.86 L182.82 284.00 L182.94 289.37 L183.06 288.44 L183.18 288.59 L183.30 284.12 L183.42 286.33 L183.54 286.18 L183.66 289.69 L183.78 290.52 L183.90 293.69 L184.00 280.75 L184.00 298.25 L184.02 287.65 L184.14 293.92 L184.26 293.50 L184.38 295.24 L184.50 288.22 L184.62 280.36 L184.74 287.50 L184.86 295.45 L184.98 296.41 L185.10 294.51 L185.22 291.76 L185.34 289.40 L185.46 289.94 L185.58 292.70 L185.70 283.80 L185.82 296.25 L185.94 294.73 L186.00 281.75 L186.00 299.25 L186.06 296.99 L186.18 290.12 L186.30 300.04 L186.42 282.83 L186.54 297.40 L186.66 287.27 L186.78 285.20 L186.90 295.43 L187.02 284.94 L187.14 302.39 L187.26 288.79 L187.38 287.31 L187.50 286.40 L187.62 283.48 L187.74 290.89 L187.86 292.97 L187.98 290.68 L188.10 301.04 L188.22 289.09 L188.34 296.71 L188.46 285.96 L188.58 282.89 L188.70 299.68 L188.82 283.77 L188.94 282.04 L189.06 295.77 L189.18 287.21 L189.30 293.63 L189.42 290.34 L189.54 293.81 L189.60 282.75 L189.60 300.45 L189.66 296.47 L189.78 290.08 L189.90 298.66 L190.02 288.96 L190.14 292.68 L190.26 283.54 L190.38 285.06 L190.50 290.07 L190.62 284.66 L190.74 303.47 L190.86 294.03 L190.98 285.85 L191.10 288.68 L191.22 292.03 L191.34 290.10 L191.46 298.05 L191.58 304.81 L191.70 302.00 L191.82 298.65 L191.94 291.60 L192.00 286.75 L192.00 302.25 L192.06 290.99 L192.18 298.75 L192.30 289.23 L192.42 298.66 L192.54 288.28 L192.66 295.37 L192.78 288.07 L192.90 299.74 L193.02 289.51 L193.14 287.59 L193.26 301.74 L193.38 294.69 L193.50 295.74 L193.62 300.41 L193.74 290.31 L193.86 298.70 L193.98 292.63 L194.10 290.38 L194.22 301.21 L194.34 290.69 L194.46 296.60 L194.58 298.06 L194.70 295.61 L194.82 298.47 L194.90 290.35 L194.90 300.75 L194.94 301.55 L195.06 298.42 L195.18 293.87 L195.30 302.28 L195.42 302.95 L195.54 290.61 L195.66 291.61 L195.78 300.19 L195.90 302.72 L196.02 294.29 L196.14 301.34 L196.26 302.60 L196.38 293.58 L196.50 300.16 L196.62 306.20 L196.74 299.57 L196.86 299.12 L196.98 300.91 L197.10 301.01 L197.22 301.45 L197.34 296.91 L197.46 304.45 L197.50 294.75 L197.50 304.25 L197.58 298.51 L197.70 299.11 L197.82 301.84 L197.94 303.70 L198.06 302.59 L198.18 306.40 L198.30 301.97 L198.42 295.55 L198.54 297.30 L198.66 300.04 L198.78 292.20 L198.90 297.33 L199.02 296.99 L199.14 293.07 L199.26 308.27 L199.38 300.21 L199.50 303.15 L199.62 297.68 L199.74 292.76 L199.86 304.80 L199.98 301.33 L200.10 294.19 L200.22 293.16 L200.34 293.32 L200.46 299.75 L200.58 303.97 L200.70 293.25 L200.70 306.25 L200.70 293.33 L200.82 297.40 L200.94 295.49 L201.06 304.90 L201.18 299.60 L201.30 299.88 L201.42 293.92 L201.54 296.10 L201.66 297.44 L201.78 307.15 L201.90 306.20 L202.02 303.31 L202.14 304.33 L202.26 303.61 L202.30 296.35 L202.30 307.35 L202.38 306.50 L202.50 302.41 L202.62 304.77 L202.74 302.25 L202.86 301.84 L202.98 298.22 L203.10 307.50 L203.22 304.22 L203.34 295.29 L203.46 297.00 L203.58 300.23 L203.60 294.75 L203.60 307.75 L203.70 307.21 L203.82 306.13 L203.94 303.63 L204.06 301.00 L204.18 295.49 L204.20 285.75 L204.20 305.25 L204.30 304.99 L204.42 280.92 L204.54 284.35 L204.66 297.14 L204.70 276.75 L204.70 299.25 L204.78 276.45 L204.90 298.13 L205.02 292.00 L205.14 280.46 L205.26 294.48 L205.30 276.75 L205.30 295.25 L205.38 282.28 L205.50 284.13 L205.62 287.57 L205.74 297.12 L205.86 293.13 L205.90 288.75 L205.90 308.25 L205.98 309.12 L206.10 298.76 L206.22 305.33 L206.34 301.11 L206.46 300.59 L206.50 300.55 L206.50 312.05 L206.58 309.89 L206.70 302.42 L206.82 309.33 L206.94 300.35 L207.06 311.99 L207.18 302.08 L207.30 311.31 L207.42 303.12 L207.54 306.53 L207.66 305.01 L207.78 309.58 L207.90 301.81 L208.02 315.44 L208.14 304.89 L208.26 309.04 L208.38 309.84 L208.50 314.09 L208.62 308.14 L208.74 305.37 L208.86 306.41 L208.98 312.06 L209.10 306.46 L209.22 311.64 L209.30 303.35 L209.30 314.25 L209.34 305.44 L209.46 316.42 L209.58 304.13 L209.70 311.21 L209.82 307.57 L209.94 310.95 L210.06 305.19 L210.18 313.83 L210.30 307.22 L210.42 312.85 L210.54 314.48 L210.66 315.47 L210.78 317.30 L210.90 309.17 L211.02 314.76 L211.14 304.62 L211.26 307.62 L211.38 311.21 L211.50 309.46 L211.62 311.63 L211.74 303.37 L211.86 308.29 L211.98 303.28 L212.10 313.94 L212.22 316.89 L212.34 308.27 L212.46 315.88 L212.58 305.63 L212.70 308.54 L212.82 312.79 L212.94 315.82 L213.06 312.96 L213.18 308.72 L213.30 315.20 L213.40 304.25 L213.40 315.65 L213.42 314.33 L213.54 309.22 L213.66 305.96 L213.78 306.70 L213.90 317.14 L214.02 307.86 L214.14 315.23 L214.26 315.66 L214.38 316.70 L214.50 303.14 L214.62 305.41 L214.74 316.28 L214.86 317.94 L214.98 314.05 L215.10 304.26 L215.22 300.50 L215.34 306.19 L215.46 304.35 L215.58 310.98 L215.70 303.60 L215.82 312.33 L215.94 311.52 L216.06 310.48 L216.18 303.99 L216.30 308.40 L216.42 306.76 L216.54 304.33 L216.66 305.01 L216.78 308.64 L216.90 304.48 L217.02 305.00 L217.14 302.82 L217.26 305.83 L217.38 308.99 L217.50 308.02 L217.62 309.61 L217.74 309.10 L217.86 307.68 L217.98 309.27 L218.10 316.45 L218.22 305.78 L218.34 316.96 L218.40 301.35 L218.40 316.75 L218.46 305.64 L218.58 310.94 L218.70 316.91 L218.82 305.56 L218.94 315.72 L219.06 307.27 L219.18 308.72 L219.30 307.85 L219.42 308.69 L219.54 313.47 L219.66 313.69 L219.78 311.33 L219.90 305.78 L220.02 316.66 L220.14 319.71 L220.26 313.93 L220.38 310.53 L220.50 314.17 L220.62 318.77 L220.74 310.54 L220.86 306.19 L220.98 315.00 L221.10 307.80 L221.22 303.52 L221.34 314.29 L221.46 311.59 L221.58 312.12 L221.70 310.32 L221.82 314.90 L221.94 306.84 L222.06 304.26 L222.18 307.00 L222.30 313.62 L222.42 306.08 L222.54 312.98 L222.66 304.00 L222.70 304.55 L222.70 316.75 L222.78 301.98 L222.90 319.52 L223.02 309.82 L223.14 305.57 L223.26 309.07 L223.38 308.04 L223.50 305.92 L223.62 304.39 L223.74 316.52 L223.86 310.63 L223.98 313.18 L224.10 313.98 L224.22 318.61 L224.34 313.82 L224.46 302.04 L224.58 310.62 L224.70 305.98 L224.82 318.64 L224.94 310.55 L225.06 316.46 L225.18 304.98 L225.30 307.50 L225.42 305.74 L225.54 304.45 L225.66 313.00 L225.78 306.07 L225.90 313.79 L226.02 311.77 L226.14 304.50 L226.26 306.26 L226.38 313.23 L226.50 304.88 L226.62 305.36 L226.74 303.83 L226.86 303.05 L226.90 303.45 L226.90 314.65 L226.98 307.22 L227.10 311.91 L227.22 312.72 L227.34 304.96 L227.46 314.74 L227.50 300.75 L227.50 314.25 L227.58 304.20 L227.70 308.66 L227.82 299.98 L227.94 312.57 L228.06 307.50 L228.18 311.90 L228.30 298.41 L228.42 308.06 L228.54 309.22 L228.66 303.05 L228.78 298.71 L228.90 307.27 L229.02 303.90 L229.14 310.94 L229.20 296.25 L229.20 311.25 L229.26 299.24 L229.38 302.48 L229.50 297.03 L229.62 305.37 L229.74 309.70 L229.86 298.46 L229.98 295.54 L230.10 304.17 L230.22 301.80 L230.34 310.04 L230.46 306.51 L230.58 304.37 L230.70 292.25 L230.82 302.56 L230.94 291.93 L231.00 291.75 L231.00 308.25 L231.06 306.23 L231.18 296.79 L231.30 290.84 L231.42 293.91 L231.54 294.69 L231.66 292.98 L231.78 289.97 L231.90 301.38 L232.02 296.84 L232.14 294.52 L232.26 299.03 L232.38 292.27 L232.50 305.96 L232.62 295.92 L232.74 304.64 L232.86 307.88 L232.98 295.17 L233.00 289.35 L233.00 305.25 L233.10 302.98 L233.22 290.67 L233.34 297.07 L233.46 304.33 L233.58 291.58 L233.70 300.31 L233.82 301.89 L233.94 301.30 L234.06 293.59 L234.18 288.78 L234.30 287.81 L234.42 303.86 L234.54 305.56 L234.66 301.53 L234.78 300.32 L234.90 289.05 L235.00 289.35 L235.00 304.25 L235.02 305.38 L235.14 299.91 L235.26 300.15 L235.38 297.01 L235.50 300.66 L235.62 294.74 L235.74 307.19 L235.86 301.92 L235.98 288.61 L236.10 305.45 L236.22 294.68 L236.34 293.28 L236.46 289.21 L236.58 301.89 L236.70 290.66 L236.82 300.55 L236.94 303.51 L237.06 295.48 L237.18 299.42 L237.30 289.75 L237.30 305.25 L237.30 296.34 L237.42 300.78 L237.54 302.18 L237.66 299.31 L237.78 292.59 L237.90 303.88 L238.02 291.37 L238.14 299.03 L238.26 305.58 L238.38 295.51 L238.50 305.01 L238.62 306.88 L238.74 298.34 L238.86 299.30 L238.98 299.49 L239.10 294.35 L239.10 308.25 L239.10 295.20 L239.22 304.77 L239.34 296.31 L239.46 310.54 L239.58 299.33 L239.70 309.80 L239.82 308.90 L239.94 299.25 L240.06 305.01 L240.18 311.60 L240.20 300.75 L240.20 311.25 L240.30 307.09 L240.42 311.20 L240.54 301.02 L240.66 311.58 L240.78 305.94 L240.90 310.65 L241.02 307.94 L241.14 305.18 L241.26 302.33 L241.38 302.68 L241.50 309.67 L241.62 306.69 L241.74 305.58 L241.86 303.89 L241.98 305.62 L242.10 307.98 L242.22 312.12 L242.34 313.08 L242.46 313.28 L242.58 308.68 L242.70 306.65 L242.70 314.65 L242.70 307.84 L242.82 315.20 L242.94 311.84 L243.06 316.79 L243.18 306.87 L243.30 314.26 L243.42 309.92 L243.54 316.12 L243.66 308.84 L243.78 313.18 L243.90 306.86 L244.02 308.61 L244.14 312.57 L244.26 307.25 L244.38 314.27 L244.50 313.95 L244.62 305.45 L244.74 315.53 L244.86 307.42 L244.98 313.21 L245.10 307.76 L245.22 306.62 L245.34 307.35 L245.46 313.11 L245.58 312.18 L245.70 308.99 L245.82 316.69 L245.94 317.16 L246.06 317.39 L246.18 315.45 L246.30 315.64 L246.42 313.05 L246.54 308.44 L246.66 313.26 L246.78 315.11 L246.90 308.75 L246.90 316.75 L246.90 313.85 L247.02 317.82 L247.14 317.32 L247.26 314.24 L247.38 313.19 L247.50 308.38 L247.62 317.64 L247.74 310.94 L247.86 316.63 L247.98 317.52 L248.10 315.84 L248.22 308.67 L248.34 310.85 L248.46 315.53 L248.58 317.51 L248.70 309.49 L248.82 315.87 L248.94 312.16 L249.06 317.36 L249.18 314.59 L249.30 310.91 L249.42 310.85 L249.54 310.96 L249.66 313.42 L249.78 307.65 L249.90 316.65 L250.02 309.80 L250.14 316.89 L250.26 312.63 L250.38 316.68 L250.50 314.86 L250.62 315.34 L250.74 311.55 L250.86 313.65 L250.98 313.09 L251.10 309.85 L251.10 316.75 L251.10 314.38 L251.22 312.87 L251.34 314.67 L251.46 309.72 L251.58 314.93 L251.70 313.20 L251.82 317.17 L251.94 316.64 L252.06 316.30 L252.18 313.68 L252.30 307.45 L252.42 306.73 L252.54 310.36 L252.66 314.10 L252.78 318.05 L252.90 309.69 L253.02 307.72 L253.14 308.81 L253.26 317.61 L253.38 314.82 L253.50 315.38 L253.62 308.37 L253.74 315.02 L253.86 310.85 L253.98 314.99 L254.10 315.90 L254.22 307.88 L254.34 305.98 L254.46 305.77 L254.58 315.73 L254.70 304.49 L254.82 310.13 L254.94 308.13 L255.06 312.00 L255.18 318.30 L255.30 311.29 L255.40 304.55 L255.40 316.75 L255.42 313.98 L255.54 308.52 L255.66 311.03 L255.78 306.68 L255.90 306.08 L256.02 312.21 L256.14 316.99 L256.26 315.24 L256.38 305.94 L256.50 315.02 L256.62 312.51 L256.74 309.61 L256.86 310.75 L256.98 310.06 L257.10 305.28 L257.22 317.00 L257.34 307.91 L257.46 311.41 L257.58 311.24 L257.70 318.41 L257.82 304.41 L257.94 307.61 L258.06 312.09 L258.18 313.27 L258.30 313.01 L258.42 305.51 L258.54 317.24 L258.66 308.57 L258.78 317.24 L258.90 310.56 L259.02 302.78 L259.14 318.50 L259.26 311.39 L259.38 310.28 L259.50 314.24 L259.60 305.65 L259.60 317.85 L259.62 303.65 L259.74 317.84 L259.86 318.98 L259.98 311.42 L260.10 308.96 L260.22 320.56 L260.34 307.73 L260.46 319.36 L260.58 316.49 L260.70 316.65 L260.82 305.45 L260.94 316.42 L261.06 314.81 L261.18 311.75 L261.30 306.13 L261.42 307.83 L261.54 305.49 L261.66 307.63 L261.78 311.88 L261.90 311.65 L262.02 311.40 L262.14 309.41 L262.26 308.08 L262.38 318.66 L262.50 315.07 L262.62 306.72 L262.74 313.29 L262.86 305.96 L262.98 311.69 L263.00 306.75 L263.00 316.25 L263.10 312.01 L263.22 308.56 L263.34 306.23 L263.46 310.42 L263.58 310.77 L263.70 313.61 L263.82 305.26 L263.94 314.00 L264.06 315.37 L264.18 312.02 L264.30 310.04 L264.42 304.42 L264.54 308.39 L264.66 313.06 L264.78 304.55 L264.90 310.88 L265.02 316.37 L265.14 312.49 L265.26 307.86 L265.38 311.84 L265.50 315.31 L265.62 311.47 L265.74 307.18 L265.86 307.08 L265.90 303.75 L265.90 314.25 L265.98 309.13 L266.10 304.60 L266.22 305.08 L266.34 314.56 L266.46 312.52 L266.58 305.66 L266.70 307.05 L266.82 313.49 L266.94 302.72 L267.06 310.75 L267.18 312.86 L267.20 305.45 L267.20 312.55 L267.30 308.67 L267.42 303.77 L267.54 311.51 L267.66 310.57 L267.78 306.12 L267.90 304.44 L268.02 308.57 L268.14 305.81 L268.26 306.69 L268.38 302.85 L268.50 302.10 L268.62 310.75 L268.74 303.85 L268.86 302.14 L268.98 302.26 L269.10 308.78 L269.22 310.19 L269.34 309.26 L269.46 302.86 L269.58 310.44 L269.70 300.35 L269.70 310.85 L269.70 308.17 L269.82 302.00 L269.94 299.77 L270.06 308.24 L270.18 306.16 L270.30 307.80 L270.42 307.72 L270.54 308.68 L270.66 300.94 L270.78 300.63 L270.90 302.06 L271.02 298.40 L271.14 303.32 L271.26 298.68 L271.38 306.59 L271.40 293.45 L271.40 305.75 L271.50 301.05 L271.62 294.69 L271.74 301.90 L271.86 290.32 L271.98 299.69 L272.10 300.75 L272.22 295.66 L272.30 286.65 L272.30 299.25 L272.34 288.42 L272.46 293.58 L272.58 293.84 L272.70 283.47 L272.82 289.35 L272.94 296.85 L273.06 286.22 L273.18 282.76 L273.20 278.05 L273.20 294.25 L273.30 280.55 L273.42 281.70 L273.54 290.62 L273.66 284.51 L273.78 281.54 L273.90 283.74 L274.00 269.45 L274.00 289.25 L274.02 289.93 L274.14 277.89 L274.26 285.45 L274.38 284.74 L274.50 287.21 L274.62 269.50 L274.74 266.20 L274.86 263.85 L274.90 262.65 L274.90 283.25 L274.98 279.69 L275.10 262.01 L275.22 260.66 L275.34 272.92 L275.46 274.97 L275.58 272.90 L275.70 257.45 L275.70 276.55 L275.70 275.37 L275.82 261.29 L275.94 269.80 L276.06 273.94 L276.18 259.79 L276.30 269.31 L276.42 250.68 L276.50 250.75 L276.50 269.25 L276.54 260.88 L276.66 256.16 L276.78 262.81 L276.90 255.58 L277.02 253.16 L277.14 250.96 L277.26 249.46 L277.38 243.06 L277.40 238.75 L277.40 261.25 L277.50 257.81 L277.62 237.34 L277.74 255.88 L277.86 243.14 L277.98 239.89 L278.10 229.75 L278.10 257.25 L278.10 246.89 L278.22 228.64 L278.34 248.64 L278.46 237.37 L278.58 240.44 L278.70 252.26 L278.82 237.07 L278.94 225.61 L279.00 218.15 L279.00 249.25 L279.06 247.60 L279.18 246.43 L279.30 234.89 L279.42 220.65 L279.54 221.23 L279.66 217.65 L279.78 231.04 L279.80 212.25 L279.80 243.25 L279.90 243.19 L280.02 242.29 L280.14 226.21 L280.26 232.71 L280.38 239.82 L280.40 210.35 L280.40 240.25 L280.50 223.13 L280.62 210.28 L280.74 229.92 L280.86 216.58 L280.98 219.81 L281.10 207.97 L281.22 218.36 L281.34 209.58 L281.46 218.89 L281.50 210.05 L281.50 237.25 L281.58 233.20 L281.70 214.91 L281.82 219.02 L281.94 236.15 L282.06 238.95 L282.18 229.04 L282.30 237.85 L282.42 210.05 L282.54 235.17 L282.60 210.25 L282.60 238.85 L282.66 235.25 L282.78 236.87 L282.90 223.41 L283.02 241.70 L283.10 223.25 L283.10 244.25 L283.14 245.66 L283.26 240.77 L283.38 243.86 L283.50 244.77 L283.62 237.04 L283.74 238.39 L283.86 246.28 L283.90 234.75 L283.90 249.25 L283.98 247.02 L284.10 246.55 L284.22 246.42 L284.34 255.13 L284.46 239.75 L284.58 249.98 L284.70 254.42 L284.82 258.37 L284.94 256.36 L285.06 253.06 L285.18 259.55 L285.20 248.25 L285.20 265.25 L285.30 265.13 L285.42 259.74 L285.54 253.00 L285.66 255.74 L285.78 255.87 L285.90 259.15 L286.02 264.11 L286.14 266.33 L286.26 259.61 L286.38 259.29 L286.50 268.41 L286.60 261.45 L286.60 274.25 L286.62 261.83 L286.74 265.85 L286.86 274.24 L286.98 275.01 L287.10 278.79 L287.22 263.40 L287.34 264.52 L287.46 269.06 L287.58 279.45 L287.60 265.75 L287.60 282.25 L287.70 278.23 L287.82 267.84 L287.94 270.11 L288.06 278.64 L288.18 273.53 L288.30 284.72 L288.42 275.75 L288.54 275.31 L288.66 278.45 L288.70 270.75 L288.70 287.25 L288.78 284.56 L288.90 288.18 L289.02 277.22 L289.14 287.98 L289.26 284.16 L289.38 279.13 L289.50 275.75 L289.50 291.45 L289.50 288.26 L289.62 282.09 L289.74 292.97 L289.86 289.18 L289.98 292.88 L290.10 284.37 L290.22 276.85 L290.34 290.73 L290.46 288.12 L290.58 293.77 L290.70 291.68 L290.82 279.44 L290.90 278.45 L290.90 294.75 L290.94 278.79 L291.06 294.58 L291.18 296.34 L291.30 294.68 L291.42 278.84 L291.54 285.74 L291.66 278.33 L291.78 289.60 L291.90 292.74 L292.02 295.10 L292.14 288.55 L292.26 287.16 L292.38 295.80 L292.50 291.61 L292.62 281.33 L292.74 282.81 L292.86 291.35 L292.90 279.15 L292.90 296.05 L292.98 291.19 L293.10 294.36 L293.22 292.42 L293.34 293.35 L293.46 287.95 L293.58 294.73 L293.70 281.17 L293.82 279.65 L293.94 293.64 L294.06 285.10 L294.18 279.89 L294.30 293.68 L294.42 285.17 L294.54 287.58 L294.66 292.86 L294.78 282.39 L294.90 275.75 L294.90 294.15 L294.90 286.74 L295.02 283.20 L295.14 289.50 L295.26 276.36 L295.38 292.63 L295.50 284.01 L295.62 277.35 L295.74 286.67 L295.86 288.05 L295.98 283.47 L296.10 277.05 L296.22 286.50 L296.34 283.23 L296.46 275.97 L296.58 291.21 L296.70 279.74 L296.82 279.84 L296.90 277.15 L296.90 291.45 L296.94 285.27 L297.06 292.31 L297.18 278.92 L297.30 275.04 L297.42 283.82 L297.54 291.79 L297.66 275.35 L297.78 286.03 L297.90 282.72 L298.02 282.46 L298.14 283.35 L298.26 281.06 L298.38 276.92 L298.50 270.58 L298.62 283.98 L298.74 281.66 L298.86 276.90 L298.90 269.25 L298.90 288.85 L298.98 273.02 L299.10 273.28 L299.22 277.81 L299.34 285.88 L299.46 277.11 L299.58 283.01 L299.70 281.03 L299.82 283.71 L299.94 282.15 L300.06 275.84 L300.18 280.96 L300.30 271.65 L300.42 274.60 L300.54 288.13 L300.66 283.80 L300.78 283.69 L300.80 265.25 L300.80 287.55 L300.90 268.10 L301.02 281.26 L301.14 278.29 L301.26 263.80 L301.38 273.60 L301.50 282.49 L301.62 281.97 L301.74 271.62 L301.86 278.77 L301.98 270.39 L302.10 270.77 L302.22 266.92 L302.34 282.40 L302.46 288.73 L302.58 273.71 L302.70 285.45 L302.80 265.25 L302.80 288.85 L302.82 265.74 L302.94 274.51 L303.06 279.72 L303.18 266.06 L303.30 275.60 L303.42 277.64 L303.54 289.36 L303.60 255.75 L303.60 288.25 L303.66 280.82 L303.78 272.02 L303.90 263.14 L304.02 266.79 L304.10 254.05 L304.10 288.25 L304.14 285.82 L304.26 279.09 L304.38 264.80 L304.50 288.65 L304.60 258.75 L304.60 288.75 L304.62 283.99 L304.74 258.87 L304.86 263.69 L304.98 263.10 L305.10 286.94 L305.22 274.89 L305.34 262.39 L305.46 290.41 L305.58 272.39 L305.70 278.16 L305.82 290.78 L305.94 291.20 L306.06 283.50 L306.10 266.55 L306.10 290.15 L306.18 282.87 L306.30 285.47 L306.42 281.94 L306.54 291.41 L306.66 270.09 L306.78 286.69 L306.90 274.39 L307.02 287.63 L307.14 290.88 L307.26 279.05 L307.38 273.19 L307.50 289.18 L307.62 278.64 L307.74 280.95 L307.86 285.46 L307.98 282.23 L308.10 270.55 L308.10 290.15 L308.10 279.33 L308.22 282.67 L308.34 286.54 L308.46 285.83 L308.58 283.25 L308.70 271.27 L308.82 269.95 L308.94 273.90 L309.06 274.95 L309.18 268.79 L309.30 273.17 L309.42 287.42 L309.54 291.37 L309.66 275.95 L309.78 282.39 L309.90 279.98 L310.02 285.35 L310.14 276.05 L310.26 266.62 L310.38 291.58 L310.50 279.81 L310.62 276.87 L310.74 276.24 L310.86 285.41 L310.98 277.30 L311.10 270.66 L311.22 267.12 L311.34 282.85 L311.46 267.97 L311.58 279.85 L311.70 273.87 L311.82 292.21 L311.94 266.36 L312.06 282.34 L312.18 287.64 L312.30 283.50 L312.42 290.07 L312.54 275.01 L312.66 280.45 L312.70 266.55 L312.70 288.85 L312.78 269.03 L312.90 272.91 L313.02 273.26 L313.14 284.38 L313.26 277.90 L313.38 265.82 L313.50 276.79 L313.62 266.19 L313.74 282.69 L313.86 275.52 L313.98 279.95 L314.10 262.88 L314.22 270.26 L314.34 286.97 L314.46 278.65 L314.58 265.56 L314.70 258.05 L314.70 287.55 L314.70 268.13 L314.82 280.94 L314.94 264.93 L315.06 275.68 L315.18 264.42 L315.30 280.00 L315.42 273.11 L315.54 270.94 L315.66 268.29 L315.78 271.64 L315.90 276.64 L316.02 278.34 L316.14 268.53 L316.26 283.32 L316.38 283.93 L316.50 266.05 L316.62 286.82 L316.74 288.70 L316.86 287.69 L316.98 275.03 L317.10 288.13 L317.22 283.72 L317.34 285.60 L317.40 269.75 L317.40 290.45 L317.46 272.05 L317.58 277.48 L317.70 289.75 L317.82 290.92 L317.94 280.42 L318.06 271.12 L318.18 275.43 L318.30 274.44 L318.42 291.28 L318.54 277.95 L318.66 269.52 L318.78 275.47 L318.90 274.50 L319.02 274.23 L319.14 274.51 L319.26 278.39 L319.38 291.41 L319.50 286.84 L319.62 269.02 L319.74 280.04 L319.86 282.84 L319.98 275.30 L320.10 290.35 L320.20 267.95 L320.20 289.55 L320.22 268.47 L320.34 269.71 L320.46 268.02 L320.58 277.20 L320.70 274.82 L320.82 273.02 L320.94 274.62 L321.06 274.25 L321.18 281.58 L321.30 281.55 L321.42 275.21 L321.54 265.94 L321.66 288.57 L321.78 267.94 L321.90 293.03 L322.02 286.80 L322.14 282.79 L322.26 277.47 L322.38 272.26 L322.50 290.10 L322.62 265.62 L322.74 278.78 L322.86 280.94 L322.98 285.62 L323.10 290.09 L323.22 292.69 L323.34 281.66 L323.46 273.59 L323.58 278.13 L323.70 289.01 L323.82 279.76 L323.90 264.25 L323.90 290.45 L323.94 271.50 L324.06 275.34 L324.18 292.13 L324.30 274.50 L324.42 292.37 L324.54 284.40 L324.66 277.26 L324.78 268.09 L324.90 293.15 L325.02 290.16 L325.14 277.42 L325.26 293.50 L325.38 288.62 L325.50 280.83 L325.62 279.92 L325.74 278.83 L325.86 271.63 L325.98 276.46 L326.10 282.00 L326.22 294.10 L326.34 289.57 L326.46 281.58 L326.58 287.12 L326.60 275.35 L326.60 294.15 L326.70 293.79 L326.82 282.79 L326.94 286.91 L327.06 290.33 L327.18 277.33 L327.30 291.49 L327.42 291.12 L327.54 290.99 L327.66 279.47 L327.78 295.18 L327.90 292.30 L328.02 289.82 L328.14 285.46 L328.26 290.71 L328.38 299.62 L328.50 291.93 L328.62 295.79 L328.74 284.68 L328.86 297.46 L328.98 300.18 L329.10 298.96 L329.22 285.52 L329.34 285.81 L329.40 286.45 L329.40 301.55 L329.46 291.56 L329.58 289.98 L329.70 290.73 L329.82 292.35 L329.94 302.83 L330.06 295.72 L330.18 290.96 L330.30 291.70 L330.42 301.41 L330.54 300.97 L330.66 301.91 L330.78 300.81 L330.90 294.16 L331.02 299.66 L331.14 296.19 L331.26 294.79 L331.38 303.73 L331.50 291.21 L331.62 303.43 L331.74 300.19 L331.86 304.57 L331.98 294.76 L332.10 292.91 L332.20 293.85 L332.20 305.25 L332.22 298.22 L332.34 298.71 L332.46 305.32 L332.58 306.83 L332.70 299.56 L332.82 298.29 L332.94 299.00 L333.06 294.75 L333.18 302.95 L333.30 302.13 L333.42 301.29 L333.54 299.82 L333.66 305.91 L333.78 297.73 L333.90 297.40 L334.02 299.03 L334.14 302.58 L334.26 296.88 L334.38 301.84 L334.50 301.08 L334.62 296.63 L334.74 300.57 L334.86 305.16 L334.98 296.93 L335.10 305.59 L335.22 304.53 L335.34 295.70 L335.46 302.62 L335.58 302.25 L335.70 305.12 L335.82 305.56 L335.90 296.55 L335.90 308.05 L335.94 307.01 L336.06 296.01 L336.18 296.30 L336.30 307.75 L336.42 307.21 L336.54 298.53 L336.66 305.79 L336.78 296.10 L336.90 303.36 L337.02 303.51 L337.14 298.76 L337.26 301.78 L337.38 295.64 L337.50 307.19 L337.62 300.94 L337.74 302.81 L337.86 299.30 L337.98 303.53 L338.10 303.58 L338.22 304.41 L338.34 308.94 L338.46 293.80 L338.58 300.65 L338.70 304.15 L338.82 304.80 L338.94 295.05 L339.06 302.84 L339.18 296.70 L339.30 294.93 L339.42 291.44 L339.54 295.30 L339.60 292.85 L339.60 305.25 L339.66 296.31 L339.78 297.04 L339.90 296.53 L340.02 299.02 L340.14 290.69 L340.26 299.42 L340.38 294.65 L340.50 299.95 L340.62 297.38 L340.74 302.09 L340.86 293.63 L340.98 294.07 L341.10 301.86 L341.22 295.42 L341.34 289.71 L341.46 295.53 L341.58 289.48 L341.70 290.95 L341.82 302.87 L341.94 298.05 L342.06 290.25 L342.18 292.56 L342.30 285.45 L342.30 301.55 L342.30 286.14 L342.42 287.95 L342.54 294.60 L342.66 290.11 L342.78 298.85 L342.90 291.41 L343.02 290.39 L343.14 284.87 L343.26 289.62 L343.38 297.12 L343.50 291.31 L343.62 284.90 L343.74 292.17 L343.86 291.50 L343.98 284.61 L344.10 294.40 L344.22 290.45 L344.34 290.57 L344.46 276.65 L344.58 277.12 L344.70 282.90 L344.82 286.49 L344.94 285.55 L345.06 293.21 L345.10 273.45 L345.10 292.35 L345.18 275.64 L345.30 275.27 L345.42 292.21 L345.54 280.31 L345.66 293.40 L345.78 284.85 L345.90 292.65 L346.02 287.32 L346.14 293.30 L346.26 289.01 L346.38 282.48 L346.50 286.69 L346.62 290.92 L346.74 288.56 L346.86 283.08 L346.98 285.06 L347.00 279.05 L347.00 296.05 L347.10 283.42 L347.22 297.01 L347.34 293.31 L347.46 282.87 L347.58 294.51 L347.70 281.01 L347.82 289.84 L347.94 286.05 L348.06 282.46 L348.18 291.31 L348.30 290.99 L348.42 298.00 L348.54 281.91 L348.66 291.67 L348.78 295.24 L348.90 286.60 L349.02 284.93 L349.14 292.89 L349.26 292.84 L349.38 284.60 L349.50 295.51 L349.62 299.93 L349.70 285.45 L349.70 299.75 L349.74 285.10 L349.86 298.52 L349.98 291.75 L350.10 286.60 L350.22 293.05 L350.34 286.86 L350.46 290.63 L350.58 297.97 L350.70 301.10 L350.82 298.21 L350.94 302.27 L351.06 299.21 L351.18 296.24 L351.30 298.59 L351.42 289.30 L351.54 301.70 L351.66 298.41 L351.78 296.99 L351.90 295.28 L352.02 295.82 L352.14 299.62 L352.26 302.93 L352.38 305.53 L352.50 291.95 L352.50 303.45 L352.50 291.70 L352.62 294.74 L352.74 292.95 L352.86 297.20 L352.98 298.85 L353.10 299.50 L353.22 295.17 L353.34 302.68 L353.46 296.07 L353.58 299.61 L353.70 294.31 L353.82 301.25 L353.94 298.87 L354.06 298.30 L354.18 302.21 L354.30 299.53 L354.42 306.63 L354.54 304.76 L354.66 300.97 L354.78 297.57 L354.90 304.45 L355.02 294.04 L355.14 304.70 L355.26 293.00 L355.38 297.52 L355.50 295.30 L355.62 297.19 L355.74 299.78 L355.86 296.42 L355.98 298.23 L356.10 304.45 L356.20 294.75 L356.20 306.15 L356.22 301.40 L356.34 306.03 L356.46 296.37 L356.58 299.95 L356.70 293.58 L356.82 298.70 L356.94 300.40 L357.06 301.50 L357.18 305.74 L357.30 308.21 L357.42 308.46 L357.54 307.26 L357.66 303.16 L357.78 295.32 L357.90 297.28 L358.02 293.69 L358.14 295.18 L358.26 304.53 L358.38 296.07 L358.50 308.94 L358.62 307.93 L358.74 308.58 L358.86 296.96 L358.98 305.81 L359.10 310.00 L359.22 294.49 L359.34 300.74 L359.46 294.09 L359.58 298.09 L359.70 306.83 L359.82 303.15 L359.90 293.85 L359.90 308.95 L359.94 299.04 L360.06 301.61 L360.18 309.04 L360.30 305.49 L360.42 295.99 L360.54 295.55 L360.60 295.65 L360.60 306.75 L360.66 306.81 L360.78 300.54 L360.90 297.33 L361.02 302.84 L361.14 299.73 L361.26 298.00 L361.38 303.36 L361.50 300.56 L361.62 296.29 L361.74 302.57 L361.86 304.26 L361.98 294.50 L362.10 296.81 L362.22 305.29 L362.34 292.72 L362.46 295.82 L362.58 301.89 L362.70 303.80 L362.82 296.62 L362.94 298.86 L363.06 299.24 L363.18 305.15 L363.30 307.88 L363.42 303.99 L363.54 300.57 L363.66 295.15 L363.78 295.68 L363.90 306.32 L364.02 297.61 L364.14 296.58 L364.26 305.07 L364.38 293.18 L364.50 294.93 L364.62 306.70 L364.74 302.10 L364.86 298.89 L364.90 293.45 L364.90 304.65 L364.98 295.57 L365.10 304.85 L365.22 301.31 L365.34 307.54 L365.46 298.08 L365.58 298.91 L365.70 295.81 L365.82 292.39 L365.94 298.45 L366.06 304.86 L366.18 304.09 L366.30 295.11 L366.42 299.09 L366.54 301.48 L366.66 301.74 L366.78 297.36 L366.90 299.13 L367.02 299.41 L367.14 291.35 L367.26 299.39 L367.38 299.80 L367.50 295.41 L367.62 296.88 L367.74 296.17 L367.86 292.66 L367.98 303.22 L368.10 291.90 L368.22 288.86 L368.34 293.55 L368.46 289.33 L368.58 291.41 L368.70 293.14 L368.82 297.31 L368.94 298.35 L369.06 291.25 L369.10 289.25 L369.10 302.55 L369.18 294.50 L369.30 292.89 L369.42 300.38 L369.54 289.56 L369.66 292.72 L369.78 302.59 L369.90 296.54 L370.02 302.26 L370.14 290.20 L370.26 288.71 L370.38 290.83 L370.50 288.19 L370.62 299.82 L370.74 288.18 L370.86 301.37 L370.98 295.70 L371.10 289.34 L371.22 292.52 L371.34 295.21 L371.46 297.21 L371.58 289.96 L371.60 286.15 L371.60 300.45 L371.70 298.88 L371.82 297.48 L371.94 301.88 L372.06 289.42 L372.18 297.55 L372.30 292.83 L372.42 298.21 L372.54 292.86 L372.66 300.74 L372.78 300.60 L372.90 296.92 L373.02 301.85 L373.14 290.70 L373.26 303.39 L373.38 293.57 L373.50 301.55 L373.62 301.93 L373.74 295.42 L373.86 298.31 L373.98 291.84 L374.10 300.46 L374.22 299.27 L374.34 306.33 L374.46 305.24 L374.58 298.32 L374.70 293.89 L374.82 295.67 L374.94 304.61 L375.06 300.95 L375.18 294.92 L375.30 299.76 L375.40 294.55 L375.40 306.75 L375.42 304.70 L375.54 294.23 L375.66 309.76 L375.78 298.73 L375.90 298.09 L376.02 309.70 L376.14 298.51 L376.26 305.20 L376.38 306.51 L376.50 294.69 L376.62 298.59 L376.74 307.95 L376.86 300.13 L376.98 296.25 L377.10 300.91 L377.22 300.64 L377.34 296.31 L377.46 298.59 L377.58 297.99 L377.70 300.64 L377.82 309.44 L377.94 301.11 L378.06 298.10 L378.18 308.97 L378.30 298.92 L378.42 296.20 L378.54 302.91 L378.66 298.74 L378.78 299.84 L378.90 295.36 L379.02 300.21 L379.14 305.22 L379.26 303.27 L379.38 299.21 L379.50 303.19 L379.60 296.65 L379.60 306.75 L379.62 302.97 L379.74 297.80 L379.86 305.69 L379.98 302.55 L380.10 305.24 L380.22 303.32 L380.34 309.12 L380.46 305.48 L380.58 308.53 L380.70 296.06 L380.82 296.46 L380.94 299.74 L381.06 301.66 L381.18 294.88 L381.30 308.74 L381.42 300.42 L381.54 298.05 L381.66 300.74 L381.78 306.05 L381.90 307.53 L382.02 300.65 L382.14 306.25 L382.26 303.14 L382.38 304.43 L382.50 299.02 L382.62 300.95 L382.74 309.24 L382.86 307.63 L382.98 305.82 L383.10 306.56 L383.22 309.72 L383.34 302.34 L383.46 302.17 L383.58 301.29 L383.70 307.31 L383.80 297.75 L383.80 308.85 L383.82 309.21 L383.94 303.59 L384.06 299.33 L384.18 303.89 L384.30 304.87 L384.42 299.44 L384.54 303.48 L384.66 307.71 L384.78 299.43 L384.90 308.21 L385.02 303.07 L385.14 305.28 L385.26 302.18 L385.38 297.67 L385.50 298.98 L385.62 307.18 L385.74 308.62 L385.86 307.28 L385.98 299.85 L386.10 307.37 L386.22 308.04 L386.34 300.03 L386.46 308.56 L386.58 296.49 L386.70 301.40 L386.82 298.56 L386.94 305.05 L387.06 305.47 L387.18 311.43 L387.30 306.69 L387.42 312.18 L387.54 311.47 L387.66 309.65 L387.78 300.12 L387.90 303.10 L388.02 301.42 L388.10 299.85 L388.10 312.25 L388.14 307.32 L388.26 312.61 L388.38 311.83 L388.50 313.14 L388.62 303.50 L388.74 300.91 L388.86 303.74 L388.98 312.51 L389.10 304.41 L389.22 300.71 L389.34 307.15 L389.46 311.48 L389.58 305.81 L389.70 311.94 L389.82 300.75 L389.94 309.82 L390.06 311.22 L390.18 301.31 L390.30 306.71 L390.42 310.17 L390.54 314.26 L390.66 301.78 L390.78 302.22 L390.90 301.27 L391.02 306.86 L391.14 309.48 L391.26 304.81 L391.30 298.75 L391.30 312.05 L391.38 306.38 L391.50 312.94 L391.62 301.84 L391.74 309.73 L391.86 302.94 L391.98 306.26 L392.10 304.16 L392.22 308.29 L392.34 312.17 L392.46 309.25 L392.58 308.14 L392.70 304.04 L392.82 307.45 L392.94 313.49 L393.06 304.56 L393.18 311.53 L393.30 301.22 L393.42 301.84 L393.54 309.06 L393.66 308.03 L393.78 313.29 L393.90 301.15 L394.02 305.40 L394.14 312.53 L394.26 302.85 L394.38 304.89 L394.50 305.89 L394.62 302.07 L394.74 310.65 L394.86 302.81 L394.98 304.13 L395.10 308.19 L395.22 301.78 L395.34 311.91 L395.46 312.41 L395.58 311.51 L395.70 312.73 L395.82 309.94 L395.94 311.14 L396.06 309.45 L396.18 303.11 L396.30 310.52 L396.42 314.64 L396.54 313.67 L396.66 307.53 L396.78 302.03 L396.90 308.26 L397.02 305.81 L397.14 313.51 L397.26 308.03 L397.38 310.98 L397.50 299.15 L397.62 302.72 L397.70 301.95 L397.70 313.05 L397.74 306.66 L397.86 308.78 L397.98 304.32 L398.10 305.39 L398.22 311.39 L398.34 309.23 L398.46 301.61 L398.58 312.97 L398.70 312.49 L398.82 308.18 L398.94 309.72 L399.06 302.41 L399.18 308.74 L399.30 299.67 L399.42 308.69 L399.54 314.10 L399.66 309.05 L399.78 302.22 L399.90 307.71 L400.02 303.55 L400.14 301.82 L400.26 306.45 L400.38 309.24 L400.50 308.57 L400.62 313.02 L400.74 308.08 L400.86 302.89 L400.98 310.76 L401.10 303.45 L401.22 307.86 L401.34 307.12 L401.46 305.44 L401.58 301.90 L401.70 311.26 L401.82 303.42 L401.94 314.28 L402.06 308.08 L402.18 314.58 L402.30 305.31 L402.42 305.23 L402.54 305.92 L402.66 312.08 L402.78 308.75 L402.90 307.96 L403.02 316.43 L403.14 311.95 L403.26 308.95 L403.38 314.67 L403.50 302.18 L403.62 309.82 L403.74 305.86 L403.86 308.80 L403.98 308.16 L404.00 302.95 L404.00 314.15 L404.10 303.87 L404.22 312.07 L404.34 311.79 L404.46 304.84 L404.58 304.36 L404.70 307.70 L404.82 305.87 L404.94 309.81 L405.06 306.52 L405.18 306.59 L405.30 302.17 L405.42 300.91 L405.54 312.70 L405.66 302.31 L405.78 311.15 L405.90 306.95 L406.02 309.31 L406.14 312.38 L406.26 309.30 L406.38 315.48 L406.50 308.86 L406.62 307.69 L406.74 309.24 L406.86 309.58 L406.98 308.12 L407.10 302.38 L407.22 300.76 L407.34 305.96 L407.46 309.29 L407.58 311.98 L407.70 303.15 L407.82 302.33 L407.94 314.40 L408.06 316.83 L408.18 305.22 L408.30 309.26 L408.42 308.76 L408.54 303.08 L408.66 308.07 L408.78 310.37 L408.90 313.51 L409.02 309.10 L409.14 312.86 L409.26 310.48 L409.38 317.64 L409.50 305.86 L409.62 307.16 L409.74 304.08 L409.86 300.46 L409.98 310.63 L410.10 316.30 L410.22 310.60 L410.30 302.95 L410.30 315.25 L410.34 304.89 L410.46 311.81 L410.58 311.65 L410.70 307.96 L410.82 317.20 L410.94 309.96 L411.06 314.64 L411.18 306.12 L411.30 314.91 L411.42 303.99 L411.54 314.83 L411.66 308.29 L411.78 308.06 L411.90 301.16 L412.02 312.54 L412.14 302.98 L412.26 309.84 L412.38 310.08 L412.50 308.00 L412.62 312.67 L412.74 310.96 L412.86 306.98 L412.98 314.50 L413.10 302.22 L413.22 305.95 L413.34 303.03 L413.46 299.32 L413.58 311.59 L413.70 309.20 L413.82 306.02 L413.94 305.10 L414.06 302.49 L414.18 309.38 L414.30 302.89 L414.42 313.18 L414.54 302.51 L414.66 308.18 L414.78 304.26 L414.90 302.84 L415.02 301.85 L415.14 314.67 L415.26 307.50 L415.38 314.71 L415.50 313.39 L415.62 311.79 L415.74 298.71 L415.86 311.08 L415.98 299.82 L416.10 300.59 L416.22 315.39 L416.34 300.75 L416.46 305.71 L416.58 307.04 L416.60 300.85 L416.60 314.15 L416.70 314.12 L416.82 300.41 L416.94 306.23 L417.06 298.83 L417.18 302.15 L417.30 304.08 L417.42 301.91 L417.54 302.20 L417.66 308.02 L417.78 313.77 L417.90 311.20 L418.02 303.00 L418.14 315.92 L418.26 317.11 L418.38 310.05 L418.50 311.86 L418.62 315.06 L418.74 310.25 L418.86 308.27 L418.98 308.43 L419.10 315.19 L419.22 316.17 L419.34 311.63 L419.46 315.40 L419.58 309.77 L419.70 306.36 L419.82 317.17 L419.94 301.91 L420.06 304.62 L420.18 312.62 L420.30 300.71 L420.42 313.05 L420.54 308.27 L420.66 300.31 L420.78 303.89 L420.90 300.76 L421.02 305.87 L421.14 305.24 L421.26 309.45 L421.38 303.37 L421.50 315.16 L421.62 311.88 L421.74 301.40 L421.86 309.38 L421.98 309.02 L422.10 305.73 L422.22 308.60 L422.34 306.76 L422.46 305.04 L422.58 308.98 L422.70 310.13 L422.82 306.46 L422.94 313.78 L423.00 301.95 L423.00 314.15 L423.06 302.12 L423.18 306.78 L423.30 312.75 L423.42 303.89 L423.54 301.59 L423.66 305.16 L423.78 305.83 L423.90 305.18 L424.02 303.73 L424.14 306.09 L424.26 309.47 L424.38 311.10 L424.50 308.67 L424.62 303.91 L424.74 304.49 L424.86 300.80 L424.98 305.56 L425.00 300.15 L425.00 309.75 L425.10 307.17 L425.22 300.38 L425.34 304.65 L425.46 307.87 L425.58 305.96 L425.70 299.35 L425.82 303.76 L425.94 308.23 L426.06 309.44 L426.18 308.56 L426.30 309.16 L426.42 306.26 L426.54 307.55 L426.66 299.45 L426.78 301.47 L426.90 301.20 L427.02 302.58 L427.14 298.10 L427.26 304.06 L427.38 296.09 L427.50 301.85 L427.62 299.85 L427.74 301.89 L427.86 307.12 L427.98 301.07 L428.10 309.33 L428.20 297.75 L428.20 308.15 L428.22 306.89 L428.34 298.92 L428.46 306.79 L428.58 306.84 L428.70 296.94 L428.82 297.06 L428.94 303.27 L429.06 304.31 L429.18 294.86 L429.30 306.03 L429.42 298.14 L429.54 299.33 L429.66 296.90 L429.78 302.13 L429.90 304.92 L430.02 299.24 L430.14 299.25 L430.26 300.10 L430.38 308.36 L430.50 298.93 L430.62 297.99 L430.74 307.93 L430.86 298.72 L430.98 305.09 L431.10 302.68 L431.22 305.68 L431.30 295.35 L431.30 306.55 L431.34 296.35 L431.46 300.96 L431.58 298.28 L431.70 294.91 L431.82 305.07 L431.94 304.06 L432.06 305.36 L432.18 294.93 L432.30 303.94 L432.42 297.23 L432.54 302.48 L432.66 301.96 L432.78 305.67 L432.90 299.37 L433.02 297.37 L433.14 299.08 L433.26 294.28 L433.38 308.55 L433.50 294.48 L433.62 302.74 L433.74 306.16 L433.86 297.35 L433.98 301.77 L434.10 295.44 L434.22 301.01 L434.34 300.91 L434.46 305.68 L434.50 292.15 L434.50 304.95 L434.58 291.09 L434.70 291.17 L434.82 294.79 L434.94 301.42 L435.06 304.11 L435.18 294.28 L435.30 298.35 L435.42 294.22 L435.54 302.16 L435.66 288.88 L435.78 297.58 L435.90 299.12 L436.02 298.65 L436.14 296.46 L436.26 287.77 L436.38 296.95 L436.50 290.27 L436.62 295.83 L436.74 292.82 L436.86 291.90 L436.98 297.59 L437.10 289.04 L437.22 293.22 L437.34 297.79 L437.46 294.89 L437.58 296.72 L437.70 289.05 L437.70 301.75 L437.70 288.38 L437.82 291.14 L437.94 300.96 L438.06 290.65 L438.18 289.77 L438.30 302.40 L438.42 298.90 L438.54 290.14 L438.66 301.56 L438.78 292.34 L438.90 299.17 L439.02 299.40 L439.14 288.50 L439.26 295.96 L439.38 287.09 L439.50 298.74 L439.62 298.84 L439.74 288.73 L439.86 292.99 L439.98 287.74 L440.10 292.32 L440.22 293.94 L440.34 294.31 L440.46 286.80 L440.58 286.07 L440.70 296.96 L440.80 286.65 L440.80 300.25 L440.82 298.85 L440.94 299.46 L441.06 287.39 L441.18 299.45 L441.30 292.38 L441.42 294.07 L441.54 300.25 L441.66 292.12 L441.78 289.83 L441.90 289.22 L442.02 300.02 L442.14 290.26 L442.26 292.44 L442.38 300.82 L442.50 293.81 L442.62 285.28 L442.74 290.20 L442.86 297.33 L442.98 285.69 L443.10 288.62 L443.22 299.44 L443.34 283.84 L443.46 284.54 L443.58 302.13 L443.70 287.36 L443.82 291.46 L443.94 291.19 L444.00 285.05 L444.00 299.45 L444.06 297.44 L444.18 299.72 L444.30 286.82 L444.42 300.39 L444.54 284.42 L444.66 299.90 L444.78 292.90 L444.90 293.24 L445.02 298.31 L445.14 297.88 L445.26 293.58 L445.38 286.03 L445.50 292.49 L445.62 294.50 L445.74 288.18 L445.86 287.96 L445.98 294.98 L446.10 293.18 L446.22 288.38 L446.34 291.22 L446.46 285.96 L446.58 294.93 L446.70 289.65 L446.82 297.34 L446.94 286.21 L447.06 290.80 L447.18 292.18 L447.20 286.65 L447.20 300.25 L447.30 301.94 L447.42 292.25 L447.54 298.00 L447.66 301.00 L447.78 289.58 L447.90 300.44 L448.02 296.06 L448.14 296.64 L448.26 301.94 L448.38 299.30 L448.50 297.10 L448.62 298.59 L448.74 286.28 L448.86 289.83 L448.98 291.88 L449.10 290.23 L449.22 287.27 L449.34 291.33 L449.46 291.18 L449.58 291.12 L449.70 290.39 L449.82 302.54 L449.94 295.52 L450.06 288.12 L450.18 293.25 L450.30 288.25 L450.40 289.05 L450.40 301.75 L450.42 289.85 L450.54 299.15 L450.66 291.65 L450.78 302.12 L450.90 296.27 L451.02 290.47 L451.14 297.04 L451.26 293.57 L451.38 299.48 L451.50 288.60 L451.62 302.83 L451.74 290.97 L451.86 298.18 L451.98 287.35 L452.10 300.34 L452.22 292.26 L452.34 297.38 L452.46 291.68 L452.58 299.71 L452.70 289.04 L452.82 301.49 L452.94 301.82 L453.06 301.40 L453.18 289.97 L453.30 295.93 L453.42 301.80 L453.50 289.85 L453.50 301.75 L453.54 293.27 L453.66 301.64 L453.78 299.22 L453.90 292.35 L454.02 286.94 L454.14 301.54 L454.26 286.43 L454.38 293.87 L454.50 291.81 L454.62 288.12 L454.74 288.54 L454.86 292.97 L454.98 298.34 L455.10 296.11 L455.22 299.68 L455.34 286.74 L455.46 290.38 L455.58 288.11 L455.70 291.62 L455.82 286.01 L455.94 301.27 L456.06 286.76 L456.18 293.23 L456.30 286.97 L456.42 288.27 L456.54 290.09 L456.66 289.97 L456.70 285.85 L456.70 300.25 L456.78 294.12 L456.90 286.63 L457.02 289.17 L457.14 294.52 L457.26 294.15 L457.38 297.99 L457.50 298.42 L457.62 287.09 L457.74 296.78 L457.86 282.75 L457.98 299.18 L458.10 297.60 L458.22 292.34 L458.34 284.72 L458.46 285.07 L458.58 292.95 L458.70 297.87 L458.82 279.76 L458.94 286.48 L459.06 297.74 L459.10 279.55 L459.10 297.05 L459.18 288.35 L459.30 287.32 L459.42 297.23 L459.54 296.34 L459.66 287.37 L459.78 279.64 L459.90 284.46 L460.02 289.03 L460.14 289.01 L460.26 291.13 L460.38 292.59 L460.50 286.77 L460.62 285.52 L460.74 290.27 L460.86 285.73 L460.98 276.16 L461.10 291.31 L461.22 283.89 L461.34 285.21 L461.46 280.47 L461.50 273.15 L461.50 290.65 L461.58 285.15 L461.70 279.49 L461.82 282.10 L461.94 272.23 L462.06 273.58 L462.18 280.79 L462.30 282.39 L462.42 289.78 L462.54 275.88 L462.66 280.38 L462.78 274.07 L462.90 270.60 L463.02 285.79 L463.14 287.57 L463.26 271.20 L463.38 269.17 L463.50 284.37 L463.62 276.13 L463.74 275.39 L463.80 268.45 L463.80 287.55 L463.86 283.75 L463.98 279.16 L464.10 268.52 L464.22 285.19 L464.34 268.05 L464.46 276.85 L464.58 290.34 L464.70 272.90 L464.82 277.57 L464.94 289.89 L465.06 276.96 L465.18 275.19 L465.30 286.15 L465.42 287.68 L465.54 281.32 L465.66 270.68 L465.78 280.87 L465.90 270.05 L465.90 288.35 L465.90 286.52 L466.02 286.95 L466.14 277.06 L466.26 271.43 L466.38 288.20 L466.50 278.88 L466.62 273.70 L466.74 290.11 L466.86 283.96 L466.98 274.24 L467.10 283.82 L467.22 276.94 L467.34 280.14 L467.46 275.26 L467.58 275.66 L467.70 276.04 L467.80 276.35 L467.80 290.65 L467.82 282.35 L467.94 278.92 L468.06 287.18 L468.18 286.40 L468.30 291.71 L468.42 286.68 L468.54 279.19 L468.66 283.35 L468.78 281.73 L468.90 289.68 L469.02 289.35 L469.14 292.00 L469.26 282.97 L469.38 284.03 L469.40 284.25 L469.40 295.45 L469.50 284.45 L469.62 289.32 L469.74 294.10 L469.86 287.60 L469.98 296.95 L470.10 294.39 L470.22 289.36 L470.34 295.97 L470.46 297.12 L470.58 291.10 L470.70 297.51 L470.82 289.99 L470.94 294.99 L471.06 289.95 L471.18 292.19 L471.30 293.00 L471.42 296.36 L471.54 295.44 L471.66 301.34 L471.78 301.71 L471.80 293.75 L471.80 301.75 L471.90 301.51 L472.02 297.49 L472.14 295.88 L472.26 303.57 L472.38 298.82 L472.50 298.11 L472.62 299.44 L472.74 296.17 L472.86 293.45 L472.98 296.22 L473.10 297.97 L473.22 302.76 L473.34 303.15 L473.46 297.25 L473.58 301.73 L473.70 304.92 L473.82 300.52 L473.94 297.84 L474.06 300.97 L474.10 296.95 L474.10 304.95 L474.18 300.82 L474.30 301.33 L474.42 305.52 L474.54 295.66 L474.66 299.10 L474.78 303.22 L474.90 302.23 L475.02 299.25 L475.14 298.34 L475.26 303.98 L475.38 303.68 L475.50 301.50 L475.62 304.92 L475.74 301.69 L475.86 299.96 L475.98 298.16 L476.10 302.67 L476.22 301.91 L476.34 304.19 L476.46 303.82 L476.58 301.62 L476.70 308.12 L476.82 305.96 L476.94 302.10 L477.06 298.16 L477.18 303.54 L477.30 297.75 L477.30 306.55 L477.30 299.03 L477.42 299.88 L477.54 304.18 L477.66 299.28 L477.78 305.88 L477.90 299.36 L478.02 298.85 L478.14 308.83 L478.26 305.65 L478.38 298.05 L478.50 298.12 L478.62 302.71 L478.74 308.96 L478.86 307.30 L478.98 308.83 L479.10 306.73 L479.22 306.50 L479.34 311.98 L479.46 306.30 L479.58 302.58 L479.70 304.68 L479.82 302.30 L479.94 308.47 L480.06 309.95 L480.18 311.11 L480.30 298.85 L480.30 311.55 L480.30 309.31 L480.42 305.87 L480.54 298.62 L480.66 306.72 L480.78 298.87 L480.90 300.18 L481.02 313.34 L481.14 300.89 L481.26 305.62 L481.38 304.96 L481.50 302.12 L481.62 299.89 L481.74 305.02 L481.86 309.28 L481.98 301.24 L482.10 297.09 L482.22 311.49 L482.34 303.94 L482.46 299.57 L482.58 301.59 L482.70 314.26 L482.82 311.37 L482.94 304.83 L483.06 300.86 L483.18 304.23 L483.30 306.38 L483.42 304.98 L483.54 307.59 L483.66 304.64 L483.78 307.84 L483.90 308.99 L484.02 310.27 L484.14 303.56 L484.26 313.04 L484.38 301.84 L484.50 299.51 L484.62 301.01 L484.74 307.10 L484.86 308.90 L484.98 311.28 L485.10 299.52 L485.22 308.88 L485.34 299.78 L485.46 299.67 L485.58 305.34 L485.70 310.08 L485.82 304.84 L485.94 303.40 L486.06 306.53 L486.18 307.94 L486.30 310.90 L486.42 309.79 L486.54 302.98 L486.60 300.45 L486.60 311.55 L486.66 300.30 L486.78 304.91 L486.90 300.58 L487.02 312.68 L487.14 307.73 L487.26 311.97 L487.38 299.82 L487.50 310.71 L487.62 298.61 L487.74 307.91 L487.86 311.73 L487.98 311.46 L488.10 304.52 L488.22 309.15 L488.34 300.65 L488.46 308.63 L488.58 305.24 L488.70 309.00 L488.82 307.19 L488.94 307.74 L489.06 306.69 L489.18 310.80 L489.30 303.31 L489.42 304.94 L489.54 309.46 L489.66 309.65 L489.78 304.65 L489.90 297.96 L490.02 303.48 L490.14 307.02 L490.26 299.84 L490.38 304.92 L490.50 299.88 L490.62 306.72 L490.74 303.55 L490.86 299.79 L490.98 309.22 L491.10 304.41 L491.22 298.40 L491.34 303.66 L491.46 304.71 L491.58 308.43 L491.70 307.47 L491.82 308.44 L491.94 308.15 L492.06 298.71 L492.18 307.98 L492.30 309.88 L492.42 308.09 L492.54 307.84 L492.66 308.91 L492.78 309.51 L492.90 309.57 L493.00 298.85 L493.00 310.05 L493.02 305.11 L493.14 296.30 L493.26 300.17 L493.38 304.14 L493.50 300.10 L493.62 299.77 L493.74 307.76 L493.86 302.14 L493.98 307.51 L494.10 300.83 L494.22 300.84 L494.34 304.75 L494.46 296.27 L494.58 296.85 L494.70 299.01 L494.82 299.39 L494.94 306.30 L495.00 293.75 L495.00 308.25 L495.06 294.37 L495.18 293.54 L495.30 297.52 L495.42 294.16 L495.54 306.80 L495.66 297.45 L495.78 301.56 L495.90 300.43 L496.02 306.24 L496.14 308.04 L496.26 294.77 L496.38 301.35 L496.50 293.17 L496.62 295.23 L496.74 297.81 L496.86 303.70 L496.98 294.50 L497.10 296.28 L497.22 308.50 L497.34 296.49 L497.46 311.47 L497.58 293.98 L497.70 296.20 L497.82 302.36 L497.94 293.29 L498.06 292.27 L498.18 309.77 L498.30 301.28 L498.42 296.02 L498.54 307.66 L498.66 298.94 L498.78 297.35 L498.90 303.64 L499.02 309.16 L499.14 296.86 L499.26 300.64 L499.30 294.15 L499.30 308.45 L499.38 300.72 L499.50 294.68 L499.62 299.71 L499.74 292.81 L499.86 304.21 L499.98 291.23 L500.10 298.15 L500.22 288.54 L500.34 292.31 L500.46 287.14 L500.50 286.05 L500.50 304.25 L500.58 288.16 L500.70 297.33 L500.82 303.62 L500.94 286.26 L501.06 285.75 L501.18 288.16 L501.30 292.47 L501.42 286.94 L501.54 301.25 L501.66 283.70 L501.78 291.81 L501.90 298.97 L502.02 302.53 L502.14 284.48 L502.26 284.27 L502.38 294.09 L502.50 280.75 L502.50 300.25 L502.50 297.52 L502.62 279.56 L502.74 299.08 L502.86 294.38 L502.98 283.25 L503.10 298.00 L503.22 278.12 L503.34 294.83 L503.46 286.98 L503.58 293.02 L503.70 296.93 L503.82 275.89 L503.94 280.81 L504.06 277.60 L504.10 272.25 L504.10 295.65 L504.18 293.50 L504.30 293.16 L504.42 273.08 L504.54 275.01 L504.66 286.44 L504.78 279.91 L504.90 266.12 L505.02 278.02 L505.14 276.55 L505.26 278.02 L505.38 263.10 L505.50 268.82 L505.62 263.40 L505.74 281.54 L505.86 274.98 L505.98 277.31 L506.10 255.65 L506.10 284.55 L506.10 271.51 L506.22 274.26 L506.34 278.65 L506.46 271.91 L506.58 262.96 L506.70 268.49 L506.82 251.21 L506.94 246.47 L507.06 267.97 L507.18 246.08 L507.30 274.00 L507.42 264.56 L507.50 238.95 L507.50 273.25 L507.54 263.89 L507.66 252.81 L507.78 243.07 L507.90 242.41 L508.02 251.46 L508.14 260.55 L508.26 237.04 L508.30 227.95 L508.30 261.25 L508.38 257.86 L508.50 243.72 L508.62 250.39 L508.74 226.57 L508.86 229.64 L508.98 247.26 L509.10 247.18 L509.22 231.10 L509.34 235.07 L509.40 215.45 L509.40 254.15 L509.46 221.33 L509.58 249.87 L509.70 227.96 L509.82 226.28 L509.94 247.30 L510.06 238.44 L510.18 226.32 L510.30 215.25 L510.30 249.25 L510.30 226.83 L510.42 227.37 L510.54 217.06 L510.66 230.14 L510.78 236.56 L510.90 238.44 L511.02 235.87 L511.10 215.45 L511.10 249.25 L511.14 234.02 L511.26 231.07 L511.38 248.18 L511.50 231.28 L511.62 246.59 L511.74 226.46 L511.86 225.95 L511.98 248.18 L512.10 236.36 L512.22 252.75 L512.34 249.75 L512.46 240.60 L512.58 247.57 L512.70 229.81 L512.82 241.21 L512.94 229.95 L513.00 227.95 L513.00 254.15 L513.06 243.35 L513.18 240.40 L513.30 238.59 L513.42 256.50 L513.54 249.80 L513.66 238.30 L513.78 237.12 L513.90 240.60 L514.02 243.10 L514.14 258.20 L514.26 260.74 L514.38 247.31 L514.40 238.95 L514.40 261.25 L514.50 261.56 L514.62 256.92 L514.74 249.05 L514.86 259.69 L514.98 252.35 L515.10 266.52 L515.20 245.75 L515.20 270.75 L515.22 263.24 L515.34 271.68 L515.46 249.62 L515.58 253.95 L515.70 272.70 L515.82 250.29 L515.94 259.30 L516.06 253.20 L516.18 255.60 L516.30 259.82 L516.42 273.82 L516.54 273.94 L516.60 255.65 L516.60 278.25 L516.66 256.47 L516.78 266.43 L516.90 273.52 L517.02 261.74 L517.14 272.76 L517.26 281.87 L517.38 266.20 L517.50 262.75 L517.50 284.55 L517.50 279.85 L517.62 271.85 L517.74 281.84 L517.86 276.14 L517.98 265.67 L518.10 279.60 L518.22 271.06 L518.34 275.67 L518.46 280.06 L518.58 268.62 L518.70 285.06 L518.82 277.04 L518.94 280.34 L519.06 284.46 L519.18 289.59 L519.30 288.60 L519.40 272.25 L519.40 291.25 L519.42 280.65 L519.54 282.03 L519.66 274.36 L519.78 290.89 L519.90 275.32 L520.02 279.45 L520.14 275.04 L520.26 285.15 L520.38 288.42 L520.50 293.02 L520.62 291.02 L520.74 294.99 L520.86 289.91 L520.98 293.31 L521.10 292.17 L521.22 296.51 L521.30 280.75 L521.30 295.65 L521.34 296.81 L521.46 294.45 L521.58 282.93 L521.70 291.64 L521.82 297.63 L521.94 284.22 L522.06 298.78 L522.18 288.91 L522.30 284.91 L522.42 289.19 L522.54 296.79 L522.66 287.49 L522.70 287.75 L522.70 299.25 L522.78 296.45 L522.90 288.47 L523.02 291.46 L523.14 291.77 L523.26 288.96 L523.38 289.72 L523.50 291.70 L523.62 289.27 L523.74 293.57 L523.86 295.04 L523.98 300.91 L524.10 294.02 L524.20 291.75 L524.20 301.25 L524.22 301.90 L524.34 296.24 L524.46 302.35 L524.58 296.34 L524.70 293.64 L524.82 293.21 L524.94 294.20 L525.06 294.64 L525.18 302.16 L525.30 294.80 L525.42 304.52 L525.54 304.52 L525.66 300.01 L525.78 294.88 L525.90 300.71 L526.00 295.75 L526.00 304.25 L526.02 300.80 L526.14 299.37 L526.26 297.81 L526.38 302.85 L526.50 303.86 L526.62 304.84 L526.74 300.06 L526.86 296.94 L526.98 300.17 L527.10 297.70 L527.22 308.87 L527.34 306.79 L527.46 297.15 L527.58 303.43 L527.70 298.16 L527.82 300.46 L527.94 307.58 L528.06 304.51 L528.18 300.44 L528.30 303.22 L528.42 309.16 L528.50 299.75 L528.50 308.25 L528.54 302.58 L528.66 305.12 L528.78 304.41 L528.90 301.09 L529.02 309.47 L529.14 303.88 L529.26 304.30 L529.38 309.33 L529.50 304.18 L529.62 304.68 L529.74 308.10 L529.86 298.94 L529.98 299.37 L530.10 301.46 L530.22 298.98 L530.34 299.61 L530.46 303.63 L530.58 303.00 L530.70 296.17 L530.82 312.81 L530.94 306.48 L531.00 298.75 L531.00 310.25 L531.06 300.77 L531.18 310.78 L531.30 300.90 L531.42 297.28 L531.54 302.38 L531.66 307.37 L531.78 302.32 L531.90 306.21 L532.02 309.94 L532.14 309.60 L532.26 299.56 L532.38 301.50 L532.50 303.78 L532.62 305.26 L532.74 303.33 L532.86 305.78 L532.98 310.74 L533.10 308.86 L533.22 299.77 L533.34 306.82 L533.46 303.00 L533.50 298.75 L533.50 310.75 L533.58 311.57 L533.70 311.93 L533.82 299.32 L533.94 310.64 L534.06 305.48 L534.18 305.69 L534.30 309.75 L534.42 311.84 L534.54 299.67 L534.66 300.43 L534.78 307.12 L534.90 306.68 L535.02 301.80 L535.14 309.59 L535.26 308.09 L535.38 301.23 L535.50 300.82 L535.62 310.60 L535.74 309.12 L535.86 307.21 L535.98 301.84 L536.10 302.97 L536.22 306.91 L536.30 301.15 L536.30 312.35 L536.34 313.31 L536.46 304.85 L536.58 299.26 L536.70 304.88 L536.82 309.83 L536.94 303.58 L537.06 303.28 L537.18 308.70 L537.30 310.59 L537.42 298.90 L537.54 301.80 L537.66 309.08 L537.78 303.81 L537.90 308.10 L538.02 309.64 L538.14 306.07 L538.26 308.62 L538.38 312.95 L538.50 307.39 L538.62 309.73 L538.74 305.44 L538.86 307.62 L538.98 302.08 L539.10 306.84 L539.22 300.97 L539.34 299.46 L539.46 301.62 L539.58 298.09 L539.70 300.70 L539.82 304.95 L539.94 307.26 L540.06 308.72 L540.18 301.27 L540.30 303.80 L540.42 299.58 L540.54 305.03 L540.66 300.91 L540.78 314.35 L540.90 309.63 L541.02 303.94 L541.14 304.72 L541.26 314.65 L541.38 312.21 L541.50 308.54 L541.62 304.05 L541.74 304.14 L541.86 307.65 L541.98 312.27 L542.10 299.13 L542.22 310.73 L542.34 311.50 L542.46 305.48 L542.58 307.24 L542.70 299.55 L542.70 311.55 L542.70 304.63 L542.82 312.48 L542.94 312.71 L543.06 300.72 L543.18 311.49 L543.30 301.27 L543.42 300.27 L543.54 302.79 L543.66 310.85 L543.78 310.25 L543.90 312.13 L544.02 310.44 L544.14 301.26 L544.26 312.33 L544.38 314.18 L544.50 310.70 L544.62 300.43 L544.74 309.47 L544.86 306.98 L544.98 310.95 L545.10 299.05 L545.22 308.28 L545.34 309.19 L545.46 296.72 L545.58 308.62 L545.70 298.22 L545.82 304.16 L545.94 307.92 L546.06 301.46 L546.18 306.41 L546.30 304.38 L546.42 299.54 L546.54 302.02 L546.66 305.67 L546.78 296.27 L546.90 307.99 L547.02 298.88 L547.14 300.19 L547.26 306.02 L547.38 309.01 L547.50 309.84 L547.62 299.38 L547.74 303.11 L547.86 302.78 L547.98 299.19 L548.10 305.45 L548.22 304.64 L548.34 303.27 L548.46 305.76 L548.58 305.04 L548.70 304.31 L548.82 309.00 L548.94 307.77 L549.00 297.25 L549.00 309.95 L549.06 309.94 L549.18 311.22 L549.30 311.01 L549.42 303.91 L549.54 308.37 L549.66 310.87 L549.78 305.76 L549.90 305.64 L550.02 299.39 L550.14 307.72 L550.26 303.38 L550.38 308.05 L550.50 296.77 L550.62 301.48 L550.74 309.26 L550.86 301.67 L550.98 310.09 L551.10 307.71 L551.22 312.84 L551.34 308.59 L551.46 310.57 L551.58 297.66 L551.70 299.24 L551.82 301.94 L551.94 303.26 L552.06 305.23 L552.18 302.40 L552.30 303.94 L552.42 310.35 L552.54 311.27 L552.66 299.77 L552.78 310.46 L552.90 301.41 L553.02 309.52 L553.14 311.13 L553.26 306.83 L553.38 310.02 L553.50 309.11 L553.62 297.18 L553.74 307.63 L553.86 312.32 L553.98 304.07 L554.10 303.64 L554.22 304.60 L554.34 309.21 L554.46 310.94 L554.58 303.25 L554.70 308.23 L554.82 307.03 L554.94 296.75 L555.06 303.26 L555.18 303.25 L555.30 297.83 L555.40 297.95 L555.40 309.95 L555.42 308.23 L555.54 301.30 L555.66 300.91 L555.78 308.68 L555.90 310.02 L556.02 299.35 L556.14 311.70 L556.26 308.19 L556.38 310.66 L556.50 304.65 L556.62 298.25 L556.74 300.29 L556.86 305.34 L556.98 307.51 L557.10 309.59 L557.22 300.11 L557.34 309.41 L557.46 307.38 L557.58 310.97 L557.70 305.26 L557.82 310.10 L557.94 299.18 L558.06 308.30 L558.18 310.78 L558.30 298.72 L558.42 302.85 L558.54 301.37 L558.66 309.61 L558.78 309.14 L558.90 304.40 L559.02 306.68 L559.14 308.39 L559.26 302.21 L559.38 309.57 L559.50 302.70 L559.62 302.67 L559.74 300.72 L559.86 303.43 L559.98 310.42 L560.10 304.37 L560.22 307.50 L560.34 303.96 L560.46 303.32 L560.58 302.58 L560.70 310.00 L560.82 299.96 L560.94 307.02 L561.06 300.70 L561.18 305.38 L561.30 307.81 L561.42 305.73 L561.54 304.47 L561.66 305.67 L561.70 300.35 L561.70 311.55 L561.78 311.33 L561.90 299.19 L562.02 306.18 L562.14 300.80 L562.26 302.02 L562.38 300.60 L562.50 307.02 L562.62 298.51 L562.74 308.80 L562.86 302.26 L562.98 306.79 L563.10 307.04 L563.22 306.64 L563.34 303.24 L563.46 298.75 L563.58 311.96 L563.70 309.19 L563.82 299.17 L563.94 304.50 L564.06 301.45 L564.18 304.04 L564.30 304.15 L564.42 309.56 L564.54 308.57 L564.66 309.74 L564.78 310.79 L564.90 305.32 L565.02 313.26 L565.14 301.82 L565.26 313.52 L565.38 306.29 L565.50 300.92 L565.62 315.46 L565.74 301.52 L565.86 306.90 L565.98 303.62 L566.10 304.54 L566.22 313.29 L566.34 301.37 L566.46 303.46 L566.58 305.68 L566.70 315.34 L566.82 309.82 L566.94 312.76 L567.06 300.88 L567.18 313.07 L567.30 305.86 L567.42 312.31 L567.54 310.69 L567.66 310.93 L567.78 299.77 L567.90 311.17 L568.00 301.95 L568.00 313.15 L568.02 313.58 L568.14 304.65 L568.26 313.72 L568.38 315.60 L568.50 309.15 L568.62 300.86 L568.74 312.75 L568.86 314.61 L568.98 313.46 L569.10 307.14 L569.22 302.75 L569.34 308.07 L569.46 309.63 L569.58 308.30 L569.70 303.89 L569.82 302.23 L569.94 313.94 L570.06 303.44 L570.18 310.05 L570.30 304.34 L570.42 305.60 L570.54 306.58 L570.66 307.08 L570.78 304.53 L570.90 312.49 L571.02 312.34 L571.14 304.77 L571.26 306.41 L571.38 302.92 L571.50 313.06 L571.62 306.24 L571.74 305.23 L571.86 307.14 L571.98 307.40 L572.10 300.49 L572.22 314.54 L572.34 304.25 L572.46 306.94 L572.58 312.87 L572.70 307.38 L572.82 302.58 L572.94 305.10 L573.06 313.11 L573.18 308.96 L573.30 303.40 L573.42 315.76 L573.54 312.55 L573.66 305.26 L573.78 308.88 L573.90 304.70 L574.02 314.00 L574.14 300.95 L574.26 304.67 L574.38 305.06 L574.40 302.75 L574.40 314.75 L574.50 310.50 L574.62 300.80 L574.74 306.58 L574.86 302.42 L574.98 309.92 L575.10 306.91 L575.22 303.80 L575.34 302.60 L575.46 310.87 L575.58 313.93 L575.70 302.80 L575.82 303.57 L575.94 313.51 L576.06 308.86 L576.18 315.17 L576.30 313.85 L576.42 311.69 L576.54 308.93 L576.66 304.99 L576.78 312.95 L576.90 312.42 L577.02 312.37 L577.14 306.35 L577.26 307.07 L577.38 302.13 L577.50 307.72 L577.62 317.08 L577.74 302.79 L577.86 315.31 L577.98 313.12 L578.10 304.94 L578.22 304.15 L578.34 314.90 L578.46 313.25 L578.58 301.29 L578.70 310.75 L578.82 305.04 L578.94 314.31 L579.06 314.69 L579.18 307.01 L579.30 303.59 L579.42 312.81 L579.54 309.53 L579.66 313.33 L579.78 306.93 L579.90 307.55 L580.02 311.32 L580.14 315.08 L580.26 308.18 L580.38 303.67 L580.50 312.14 L580.62 312.59 L580.70 301.15 L580.70 313.95 L580.74 313.71 L580.86 308.57 L580.98 304.87 L581.10 308.84 L581.22 300.60 L581.34 311.28 L581.46 310.56 L581.58 303.86 L581.70 303.53 L581.82 310.43 L581.94 307.36 L582.06 306.90 L582.18 305.27 L582.30 314.32 L582.42 308.86 L582.54 300.53 L582.66 302.38 L582.78 300.67 L582.90 310.53 L583.02 312.65 L583.14 304.22 L583.26 303.68 L583.38 301.88 L583.50 300.76 L583.62 304.38 L583.74 312.34 L583.86 311.82 L583.98 307.86 L584.10 300.14 L584.22 298.93 L584.34 311.30 L584.46 299.46 L584.58 300.07 L584.70 311.12 L584.82 301.16 L584.94 304.54 L585.06 304.23 L585.18 299.92 L585.30 310.88 L585.42 314.37 L585.54 301.54 L585.66 301.63 L585.78 315.79 L585.90 314.19 L586.02 308.04 L586.14 310.46 L586.26 313.35 L586.38 300.89 L586.50 299.62 L586.62 309.66 L586.74 313.88 L586.86 301.70 L586.98 308.98 L587.10 300.35 L587.10 313.95 L587.10 307.15 L587.22 307.94 L587.34 299.91 L587.46 310.58 L587.58 309.03 L587.70 299.50 L587.82 312.17 L587.94 312.02 L588.06 306.54 L588.18 311.90 L588.30 312.12 L588.42 299.42 L588.54 315.97 L588.66 313.98 L588.78 312.86 L588.90 313.95 L589.02 315.98 L589.14 314.52 L589.26 303.85 L589.38 313.53 L589.50 308.08 L589.62 303.06 L589.74 308.19 L589.86 298.93 L589.98 310.06 L590.10 314.53 L590.22 305.41 L590.34 303.96 L590.46 307.12 L590.58 304.28 L590.70 298.82 L590.82 313.62 L590.94 299.10 L591.06 308.55 L591.18 309.23 L591.30 308.27 L591.42 306.91 L591.54 306.80 L591.66 298.08 L591.78 300.08 L591.90 299.06 L592.02 307.00 L592.14 312.07 L592.26 309.32 L592.38 300.53 L592.50 305.50 L592.62 313.60 L592.74 309.52 L592.86 298.66 L592.98 303.23 L593.10 313.73 L593.22 301.89 L593.34 310.46 L593.40 298.75 L593.40 313.15 L593.46 298.23 L593.58 298.46 L593.70 311.09 L593.82 297.53 L593.94 308.42 L594.06 313.60 L594.18 310.14 L594.30 305.37 L594.42 305.99 L594.54 299.55 L594.66 307.71 L594.78 307.35 L594.90 297.63 L595.02 298.20 L595.14 299.97 L595.26 306.23 L595.38 313.50 L595.50 299.09 L595.62 304.01 L595.74 297.84 L595.86 301.79 L595.98 309.75 L596.10 298.89 L596.22 310.48 L596.34 311.44 L596.46 298.31 L596.58 310.44 L596.60 296.45 L596.60 311.55 L596.70 305.89 L596.82 311.17 L596.94 312.35 L597.06 306.81 L597.18 311.12 L597.30 294.12 L597.42 296.11 L597.54 298.18 L597.66 297.65 L597.78 310.92 L597.90 311.60 L598.02 306.76 L598.14 299.48 L598.26 304.59 L598.38 299.34 L598.50 307.98 L598.62 306.25 L598.74 302.52 L598.86 299.78 L598.98 296.75 L599.10 296.27 L599.22 302.77 L599.34 308.96 L599.46 299.91 L599.58 304.38 L599.70 297.35 L599.70 310.15 L599.70 298.34 L599.82 308.91 L599.94 303.20 L600.06 300.12 L600.18 305.88 L600.30 304.85 L600.42 298.67 L600.54 296.08 L600.66 305.03 L600.78 294.59 L600.90 300.96 L601.02 302.51 L601.14 305.33 L601.26 296.46 L601.38 294.35 L601.50 298.91 L601.62 299.51 L601.74 303.26 L601.86 293.44 L601.98 303.13 L602.10 307.30 L602.22 302.59 L602.34 299.13 L602.46 302.92 L602.58 295.90 L602.70 303.78 L602.82 303.92 L602.94 300.17 L603.06 298.36 L603.18 300.26 L603.30 305.69 L603.42 296.15 L603.54 288.39 L603.66 288.96 L603.70 288.65 L603.70 303.85 L603.78 288.38 L603.90 292.02 L604.02 300.95 L604.14 288.68 L604.26 304.26 L604.38 291.10 L604.50 290.49 L604.62 290.57 L604.74 290.23 L604.86 296.27 L604.98 288.78 L605.10 300.89 L605.22 300.84 L605.34 294.34 L605.46 291.79 L605.58 287.32 L605.70 297.94 L605.82 293.63 L605.94 291.25 L606.06 302.08 L606.18 303.51 L606.30 303.69 L606.42 290.72 L606.54 290.82 L606.66 302.13 L606.78 300.91 L606.90 290.25 L606.90 302.25 L606.90 290.33 L607.02 295.38 L607.14 302.29 L607.26 289.15 L607.38 303.50 L607.50 302.61 L607.62 303.15 L607.74 293.76 L607.86 297.61 L607.98 301.85 L608.10 293.65 L608.22 296.15 L608.34 304.77 L608.46 292.63 L608.58 304.24 L608.70 291.78 L608.82 302.34 L608.94 293.84 L609.06 301.19 L609.18 286.51 L609.30 295.42 L609.42 285.97 L609.54 299.58 L609.66 290.17 L609.78 289.66 L609.90 303.97 L610.00 287.95 L610.00 305.35 L610.02 294.26 L610.14 304.09 L610.26 297.46 L610.38 299.60 L610.50 305.28 L610.62 299.24 L610.74 290.30 L610.86 306.10 L610.98 303.13 L611.10 294.30 L611.22 299.00 L611.34 298.61 L611.46 293.41 L611.58 303.43 L611.70 304.31 L611.82 298.26 L611.94 292.99 L612.06 306.18 L612.18 293.96 L612.30 292.45 L612.42 290.08 L612.54 305.20 L612.66 308.64 L612.78 299.12 L612.90 301.19 L613.02 292.78 L613.14 295.56 L613.26 301.60 L613.38 301.08 L613.50 308.80 L613.62 300.10 L613.74 306.11 L613.86 308.06 L613.98 304.39 L614.00 295.05 L614.00 308.55 L614.10 296.87 L614.22 298.54 L614.34 299.31 L614.46 296.24 L614.58 308.09 L614.70 293.11 L614.82 296.32 L614.94 305.80 L615.06 300.07 L615.18 298.87 L615.30 305.89 L615.42 302.17 L615.54 295.91 L615.66 296.91 L615.78 311.74 L615.90 296.53 L616.02 300.33 L616.14 303.50 L616.26 309.47 L616.38 297.94 L616.50 294.13 L616.62 299.00 L616.74 301.88 L616.86 297.82 L616.98 306.99 L617.10 300.89 L617.22 296.07 L617.34 307.90 L617.46 299.05 L617.58 300.14 L617.70 296.37 L617.82 297.94 L617.90 296.65 L617.90 310.15 L617.94 309.08 L618.06 302.93 L618.18 299.38 L618.30 304.44 L618.42 310.42 L618.54 307.01 L618.66 295.93 L618.78 303.70 L618.90 310.33 L619.02 305.60 L619.14 309.83 L619.26 298.84 L619.38 312.01 L619.50 311.00 L619.62 311.03 L619.74 295.29 L619.86 312.18 L619.98 299.94 L620.10 299.45 L620.22 304.88 L620.34 301.55 L620.46 294.20 L620.58 307.63 L620.70 300.56 L620.82 301.77 L620.94 295.45 L621.06 304.36 L621.18 299.65 L621.30 314.07 L621.42 294.99 L621.54 310.99 L621.66 301.57 L621.78 297.71 L621.90 294.25 L621.90 311.75 L621.90 309.60 L622.02 301.07 L622.14 306.90 L622.26 296.85 L622.38 296.49 L622.50 302.19 L622.62 301.89 L622.74 301.56 L622.86 305.18 L622.98 305.65 L623.10 304.58 L623.22 296.52 L623.34 308.22 L623.46 312.87 L623.58 306.39 L623.70 297.26 L623.82 313.76 L623.94 309.53 L624.06 308.14 L624.18 299.35 L624.30 309.00 L624.42 297.77 L624.54 312.43 L624.66 312.95 L624.78 307.49 L624.90 305.66 L625.02 308.12 L625.14 304.94 L625.26 300.35 L625.38 307.81 L625.50 303.97 L625.62 306.63 L625.74 299.08 L625.86 305.43 L625.90 298.95 L625.90 311.75 L625.98 312.91 L626.10 312.85 L626.22 308.85 L626.34 296.27 L626.46 302.25 L626.58 310.59 L626.70 297.85 L626.82 305.83 L626.94 309.37 L627.06 296.75 L627.18 299.70 L627.30 308.25 L627.42 305.29 L627.54 295.17 L627.66 301.49 L627.78 305.39 L627.90 297.95 L628.02 303.34 L628.14 300.19 L628.26 293.46 L628.38 300.10 L628.50 295.49 L628.62 300.30 L628.74 309.61 L628.86 307.40 L628.98 299.49 L629.10 293.10 L629.22 297.30 L629.34 296.58 L629.46 309.23 L629.58 296.59 L629.70 290.43 L629.80 290.25 L629.80 308.55 L629.82 308.33 L629.94 295.42 L630.06 289.45 L630.18 295.29 L630.30 290.40 L630.42 303.76 L630.54 288.89 L630.66 289.16 L630.78 309.56 L630.90 307.49 L631.02 311.09 L631.14 307.29 L631.26 307.59 L631.38 294.87 L631.50 298.31 L631.62 306.35 L631.74 295.10 L631.86 303.36 L631.98 296.64 L632.10 289.42 L632.22 297.43 L632.34 293.72 L632.46 295.16 L632.58 291.67 L632.70 299.74 L632.82 302.88 L632.94 291.66 L633.00 289.45 L633.00 306.95 L633.06 304.62 L633.18 300.03 L633.30 289.10 L633.42 299.73 L633.54 301.48 L633.66 308.72 L633.78 292.81 L633.90 300.65 L634.02 307.05 L634.14 295.95 L634.26 306.11 L634.38 289.65 L634.50 303.61 L634.62 306.02 L634.74 295.34 L634.86 297.19 L634.98 292.48 L635.10 293.80 L635.22 300.14 L635.34 294.33 L635.46 293.98 L635.58 297.85 L635.70 294.66 L635.82 307.93 L635.94 302.03 L636.06 301.11 L636.10 293.45 L636.10 308.55 L636.18 309.88 L636.30 292.52 L636.42 300.15 L636.54 305.13 L636.66 302.75 L636.78 309.50 L636.90 301.17 L637.02 292.44 L637.14 302.04 L637.26 299.53 L637.38 296.65 L637.50 297.62 L637.62 300.18 L637.74 306.73 L637.86 300.09 L637.98 301.08 L638.10 298.28 L638.22 309.54 L638.34 304.37 L638.46 312.60 L638.58 302.22 L638.70 300.56 L638.82 309.59 L638.94 302.62 L639.06 292.86 L639.18 309.66 L639.30 292.65 L639.30 311.75 L639.30 304.12 L639.42 292.43 L639.54 301.06 L639.66 295.48 L639.78 309.46 L639.90 305.85 L640.02 293.60 L640.14 310.46 L640.26 299.32 L640.38 312.77 L640.50 308.16 L640.62 306.60 L640.74 310.96 L640.86 306.91 L640.98 300.60 L641.10 302.66 L641.22 301.92 L641.34 307.71 L641.46 309.31 L641.58 306.24 L641.70 308.08 L641.82 306.64 L641.94 307.87 L642.06 311.03 L642.18 311.70 L642.30 300.25 L642.42 302.94 L642.50 300.55 L642.50 313.25 L642.54 301.50 L642.66 315.63 L642.78 306.20 L642.90 311.77 L643.02 304.66 L643.14 310.11 L643.26 311.45 L643.38 307.86 L643.50 308.36 L643.62 312.04 L643.74 308.21 L643.86 311.86 L643.98 302.61 L644.10 314.29 L644.22 313.89 L644.34 302.02 L644.46 306.43 L644.58 303.74 L644.70 310.17 L644.82 315.20 L644.94 310.22 L645.06 310.45 L645.18 309.46 L645.30 305.69 L645.42 305.90 L645.54 307.17 L645.60 304.55 L645.60 314.85 L645.66 317.37 L645.78 312.63 L645.90 315.81 L646.02 310.79 L646.14 309.14 L646.26 306.11 L646.38 313.60 L646.50 302.74 L646.62 304.27 L646.74 306.63 L646.86 305.84 L646.98 309.28 L647.10 303.10 L647.22 304.92 L647.34 309.04 L647.46 311.39 L647.58 303.08 L647.70 309.80 L647.82 304.89 L647.94 304.39 L648.06 313.07 L648.18 306.50 L648.30 315.74 L648.42 303.40 L648.54 314.66 L648.66 304.71 L648.78 315.66 L648.80 302.95 L648.80 315.65 L648.90 303.49 L649.02 302.85 L649.14 304.12 L649.26 309.18 L649.38 307.41 L649.50 313.70 L649.62 314.84 L649.74 314.93 L649.86 310.84 L649.98 305.77 L650.10 309.80 L650.22 315.14 L650.34 314.49 L650.46 310.82 L650.58 307.00 L650.70 317.14 L650.82 306.26 L650.94 317.94 L651.06 303.61 L651.18 308.62 L651.30 305.41 L651.42 315.71 L651.54 304.25 L651.66 308.43 L651.78 311.39 L651.90 312.11 L652.00 303.75 L652.00 316.45 L652.02 309.81 L652.14 316.00 L652.26 303.92 L652.38 310.12 L652.50 306.24 L652.62 318.11 L652.74 303.61 L652.86 314.56 L652.98 317.28 L653.10 306.59 L653.22 317.17 L653.34 313.50 L653.46 304.13 L653.58 306.25 L653.70 303.40 L653.82 307.90 L653.94 313.83 L654.06 303.41 L654.18 312.73 L654.30 315.42 L654.42 312.27 L654.54 303.20 L654.66 311.10 L654.78 306.77 L654.90 310.28 L655.02 303.77 L655.10 302.15 L655.10 314.85 L655.14 315.31 L655.26 304.46 L655.38 304.21 L655.50 302.38 L655.62 302.79 L655.74 305.10 L655.86 298.28 L655.98 315.44 L656.10 301.69 L656.22 311.83 L656.34 310.36 L656.46 313.43 L656.58 315.56 L656.70 313.37 L656.82 310.25 L656.94 307.41 L657.06 313.46 L657.18 315.73 L657.30 306.74 L657.42 303.54 L657.54 304.15 L657.66 308.40 L657.78 313.21 L657.90 313.02 L658.02 306.60 L658.14 309.60 L658.26 302.57" fill="none" stroke="#ED7D31" stroke-width="1.5" stroke-linejoin="round"/>
<g class="san" font-size="12" fill="#000" stroke="#000" stroke-width="0.2" text-anchor="end">
<text x="44.3" y="42.55" textLength="22.4" lengthAdjust="spacingAndGlyphs">400</text>
<text x="44.3" y="78.65" textLength="22.4" lengthAdjust="spacingAndGlyphs">350</text>
<text x="44.3" y="114.75" textLength="22.4" lengthAdjust="spacingAndGlyphs">300</text>
<text x="44.3" y="150.85" textLength="22.4" lengthAdjust="spacingAndGlyphs">250</text>
<text x="44.3" y="186.95" textLength="22.4" lengthAdjust="spacingAndGlyphs">200</text>
<text x="44.3" y="223.05" textLength="22.4" lengthAdjust="spacingAndGlyphs">150</text>
<text x="44.3" y="259.15" textLength="22.4" lengthAdjust="spacingAndGlyphs">100</text>
<text x="44.2" y="295.25" textLength="15.3" lengthAdjust="spacingAndGlyphs">50</text>
<text x="43.4" y="331.35" textLength="8.0" lengthAdjust="spacingAndGlyphs">0</text>
</g>
<g class="san" font-size="12" fill="#000" stroke="#000" stroke-width="0.2" text-anchor="middle">
<text x="56.75" y="349.55" textLength="6.9" lengthAdjust="spacingAndGlyphs">9</text>
<text x="141.65" y="349.55" textLength="15.7" lengthAdjust="spacingAndGlyphs">19</text>
<text x="226.55" y="349.55" textLength="15.7" lengthAdjust="spacingAndGlyphs">29</text>
<text x="311.45" y="349.55" textLength="15.7" lengthAdjust="spacingAndGlyphs">39</text>
<text x="396.35" y="349.55" textLength="15.7" lengthAdjust="spacingAndGlyphs">49</text>
<text x="481.25" y="349.55" textLength="15.7" lengthAdjust="spacingAndGlyphs">59</text>
<text x="566.15" y="349.55" textLength="15.7" lengthAdjust="spacingAndGlyphs">69</text>
<text x="651.05" y="349.55" textLength="15.7" lengthAdjust="spacingAndGlyphs">79</text>
</g>
<g class="san" font-size="15" fill="#000" text-anchor="middle">
<text x="77.05" y="279.3" textLength="11.9" lengthAdjust="spacingAndGlyphs">H</text>
<text x="149.6" y="233.4" textLength="11.9" lengthAdjust="spacingAndGlyphs">H</text>
<text x="182.45" y="260.5" textLength="11.9" lengthAdjust="spacingAndGlyphs">H</text>
<text x="206.35" y="268.3" textLength="11.9" lengthAdjust="spacingAndGlyphs">H</text>
<text x="234.4" y="274.1" textLength="7.6" lengthAdjust="spacingAndGlyphs">F</text>
<text x="279.9" y="202.2" textLength="7.6" lengthAdjust="spacingAndGlyphs">F</text>
<text x="301.65" y="246.4" textLength="11.9" lengthAdjust="spacingAndGlyphs">H</text>
<text x="346.8" y="267.2" textLength="7.6" lengthAdjust="spacingAndGlyphs">F</text>
<text x="373.5" y="280.4" textLength="18.4" lengthAdjust="spacingAndGlyphs">Pd</text>
<text x="415.55" y="288.4" textLength="18.4" lengthAdjust="spacingAndGlyphs">Pd</text>
<text x="441.7" y="274" textLength="11.9" lengthAdjust="spacingAndGlyphs">H</text>
<text x="464.85" y="258.8" textLength="7.6" lengthAdjust="spacingAndGlyphs">F</text>
<text x="562.35" y="287.5" textLength="18.4" lengthAdjust="spacingAndGlyphs">Pd</text>
<text x="534.8" y="210.2" textLength="54.8" lengthAdjust="spacingAndGlyphs">F and H</text>
</g>
<line x1="221" y1="7.6" x2="252.6" y2="7.6" stroke="#5B9BD5" stroke-width="2.2"/>
<line x1="351.1" y1="7.6" x2="382.3" y2="7.6" stroke="#ED7D31" stroke-width="2.2"/>
<g class="ser" font-size="16.6" fill="#000">
<text x="254.7" y="11.6">Fe3O4/Hal</text>
<text x="386.2" y="11.4" textLength="58.5" lengthAdjust="spacingAndGlyphs">Catalyst</text>
<text x="542.3" y="17.7" textLength="59.6" lengthAdjust="spacingAndGlyphs">H = Hal</text>
<text x="542.5" y="38.3" textLength="77.4" lengthAdjust="spacingAndGlyphs">F = MNPs</text>
<text x="297.7" y="374.1" textLength="119.7" lengthAdjust="spacingAndGlyphs">2 Theta (Degree)</text>
<text transform="translate(12.2,234.3) rotate(-90)" textLength="105.3" lengthAdjust="spacingAndGlyphs">Intensity (a.u.)</text>
</g>
</g>
</svg></div>
</body></html>
